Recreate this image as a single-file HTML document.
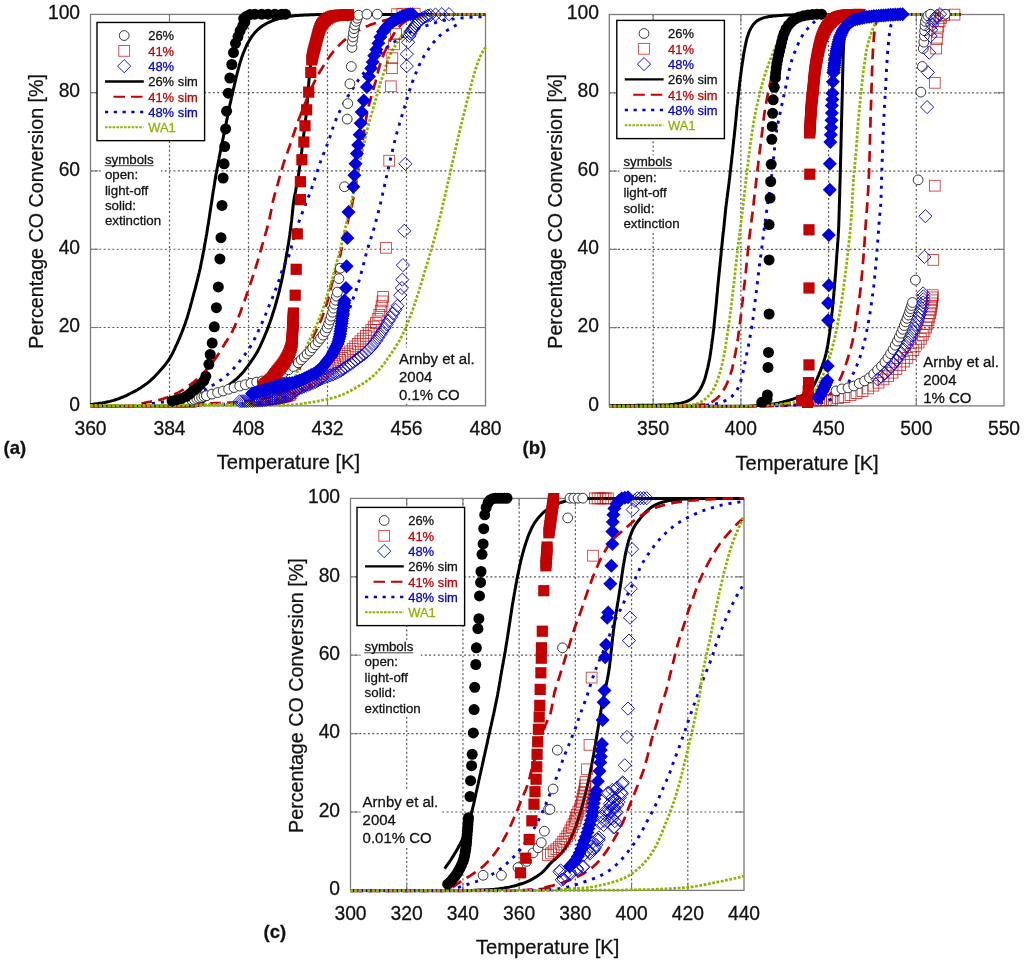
<!DOCTYPE html><html><head><meta charset="utf-8"><title>CO conversion</title>
<style>html,body{margin:0;padding:0;background:#fff}svg{display:block;will-change:transform;opacity:0.9999}text{font-family:"Liberation Sans", sans-serif}</style></head><body>
<svg width="1024" height="962" viewBox="0 0 1024 962">
<rect width="1024" height="962" fill="#fff"/>
<g id="panelA">
<line x1="169.5" y1="14.4" x2="169.5" y2="405.8" stroke="#555" stroke-width="1.2" stroke-dasharray="1.9 2.47"/>
<line x1="169.5" y1="14.4" x2="169.5" y2="22.4" stroke="#7a7a7a" stroke-width="1.1"/>
<line x1="169.5" y1="405.8" x2="169.5" y2="397.8" stroke="#7a7a7a" stroke-width="1.1"/>
<line x1="248.5" y1="14.4" x2="248.5" y2="405.8" stroke="#555" stroke-width="1.2" stroke-dasharray="1.9 2.47"/>
<line x1="248.5" y1="14.4" x2="248.5" y2="22.4" stroke="#7a7a7a" stroke-width="1.1"/>
<line x1="248.5" y1="405.8" x2="248.5" y2="397.8" stroke="#7a7a7a" stroke-width="1.1"/>
<line x1="327.5" y1="14.4" x2="327.5" y2="405.8" stroke="#555" stroke-width="1.2" stroke-dasharray="1.9 2.47"/>
<line x1="327.5" y1="14.4" x2="327.5" y2="22.4" stroke="#7a7a7a" stroke-width="1.1"/>
<line x1="327.5" y1="405.8" x2="327.5" y2="397.8" stroke="#7a7a7a" stroke-width="1.1"/>
<line x1="406.5" y1="14.4" x2="406.5" y2="405.8" stroke="#555" stroke-width="1.2" stroke-dasharray="1.9 2.47"/>
<line x1="406.5" y1="14.4" x2="406.5" y2="22.4" stroke="#7a7a7a" stroke-width="1.1"/>
<line x1="406.5" y1="405.8" x2="406.5" y2="397.8" stroke="#7a7a7a" stroke-width="1.1"/>
<line x1="90.5" y1="327.52" x2="485.5" y2="327.52" stroke="#555" stroke-width="1.2" stroke-dasharray="1.9 2.47"/>
<line x1="90.5" y1="327.52" x2="98.5" y2="327.52" stroke="#7a7a7a" stroke-width="1.1"/>
<line x1="485.5" y1="327.52" x2="477.5" y2="327.52" stroke="#7a7a7a" stroke-width="1.1"/>
<line x1="90.5" y1="249.24" x2="485.5" y2="249.24" stroke="#555" stroke-width="1.2" stroke-dasharray="1.9 2.47"/>
<line x1="90.5" y1="249.24" x2="98.5" y2="249.24" stroke="#7a7a7a" stroke-width="1.1"/>
<line x1="485.5" y1="249.24" x2="477.5" y2="249.24" stroke="#7a7a7a" stroke-width="1.1"/>
<line x1="90.5" y1="170.96" x2="485.5" y2="170.96" stroke="#555" stroke-width="1.2" stroke-dasharray="1.9 2.47"/>
<line x1="90.5" y1="170.96" x2="98.5" y2="170.96" stroke="#7a7a7a" stroke-width="1.1"/>
<line x1="485.5" y1="170.96" x2="477.5" y2="170.96" stroke="#7a7a7a" stroke-width="1.1"/>
<line x1="90.5" y1="92.68" x2="485.5" y2="92.68" stroke="#555" stroke-width="1.2" stroke-dasharray="1.9 2.47"/>
<line x1="90.5" y1="92.68" x2="98.5" y2="92.68" stroke="#7a7a7a" stroke-width="1.1"/>
<line x1="485.5" y1="92.68" x2="477.5" y2="92.68" stroke="#7a7a7a" stroke-width="1.1"/>
<rect x="90.5" y="14.4" width="395" height="391.4" fill="none" stroke="#7a7a7a" stroke-width="1.3"/>
<clipPath id="clipA"><rect x="82.5" y="4.4" width="413" height="403.4"/></clipPath>
<g clip-path="url(#clipA)">
<path d="M90.0 404.4L92.8 404.2L94.4 404.0L96.2 403.8L98.1 403.6L100.0 403.3L102.0 403.0L104.0 402.6L105.9 402.2L107.9 401.8L109.8 401.4L111.7 400.9L113.6 400.4L115.5 399.8L117.4 399.2L119.3 398.5L121.2 397.7L123.0 397.0L124.9 396.1L126.7 395.3L128.5 394.4L130.3 393.5L132.1 392.6L133.9 391.7L135.6 390.8L137.4 389.8L139.1 388.7L140.8 387.7L142.5 386.6L144.1 385.5L145.8 384.3L147.3 383.1L148.9 381.9L150.4 380.6L151.9 379.2L153.3 377.9L154.7 376.5L156.1 375.0L157.5 373.5L158.9 372.1L160.2 370.6L161.6 369.1L162.9 367.5L164.2 366.0L165.4 364.4L166.6 362.9L167.8 361.2L168.9 359.6L169.9 357.9L170.9 356.2L171.9 354.4L172.8 352.7L173.7 350.9L174.6 349.1L175.4 347.2L176.2 345.4L177.1 343.6L177.9 341.8L178.7 339.9L179.5 338.1L180.3 336.2L181.0 334.4L181.8 332.5L182.5 330.7L183.2 328.8L183.9 326.9L184.6 325.1L185.3 323.2L185.9 321.3L186.5 319.4L187.2 317.5L187.7 315.6L188.3 313.7L188.9 311.7L189.4 309.8L190.0 307.9L190.5 306.0L191.0 304.0L191.6 302.1L192.1 300.2L192.6 298.2L193.1 296.3L193.6 294.4L194.1 292.4L194.7 290.5L195.2 288.6L195.7 286.6L196.2 284.7L196.7 282.7L197.2 280.8L197.7 278.9L198.1 276.9L198.6 275.0L199.1 273.0L199.5 271.1L200.0 269.1L200.4 267.2L200.8 265.2L201.2 263.3L201.6 261.3L202.0 259.4L202.4 257.4L202.8 255.4L203.1 253.5L203.5 251.5L203.9 249.5L204.2 247.6L204.6 245.6L204.9 243.6L205.3 241.7L205.6 239.7L206.0 237.7L206.3 235.7L206.7 233.8L207.0 231.8L207.3 229.8L207.6 227.9L207.9 225.9L208.3 223.9L208.6 221.9L208.9 219.9L209.2 218.0L209.5 216.0L209.8 214.0L210.1 212.0L210.4 210.1L210.7 208.1L211.0 206.1L211.3 204.1L211.6 202.2L211.9 200.2L212.2 198.2L212.5 196.2L212.8 194.2L213.1 192.3L213.4 190.3L213.8 188.3L214.1 186.3L214.4 184.4L214.7 182.4L215.0 180.4L215.4 178.4L215.7 176.5L216.0 174.5L216.4 172.5L216.7 170.6L217.1 168.6L217.5 166.6L217.8 164.7L218.2 162.7L218.6 160.7L219.0 158.8L219.3 156.8L219.7 154.9L220.1 152.9L220.5 150.9L220.9 149.0L221.3 147.0L221.7 145.1L222.1 143.1L222.5 141.1L222.9 139.2L223.3 137.2L223.7 135.3L224.1 133.3L224.5 131.3L225.0 129.4L225.4 127.4L225.8 125.5L226.1 123.5L226.5 121.5L226.9 119.6L227.3 117.6L227.7 115.7L228.1 113.7L228.5 111.7L228.9 109.8L229.3 107.8L229.7 105.8L230.1 103.9L230.6 101.9L231.0 100.0L231.4 98.0L231.8 96.1L232.3 94.1L232.7 92.2L233.2 90.2L233.6 88.3L234.1 86.3L234.5 84.4L235.0 82.4L235.5 80.4L235.9 78.5L236.4 76.5L236.9 74.6L237.4 72.6L237.9 70.6L238.4 68.7L238.9 66.8L239.5 64.8L240.0 62.9L240.6 61.0L241.2 59.1L241.8 57.2L242.5 55.4L243.2 53.5L243.9 51.7L244.7 49.8L245.5 48.0L246.3 46.1L247.2 44.3L248.2 42.5L249.2 40.7L250.3 38.9L251.4 37.2L252.5 35.6L253.7 34.1L254.9 32.6L256.2 31.2L257.6 29.8L259.1 28.5L260.6 27.3L262.3 26.1L264.0 25.0L265.7 24.0L267.5 23.0L269.3 22.1L271.2 21.3L273.0 20.5L274.9 19.8L276.8 19.2L278.7 18.6L280.6 18.1L282.6 17.6L284.5 17.2L286.5 16.8L288.5 16.5L290.5 16.2L292.4 16.0L294.4 15.8L296.4 15.6L298.4 15.5L300.4 15.3L302.4 15.2L304.4 15.1L306.4 15.0L308.4 14.9L310.4 14.8L312.4 14.7L314.4 14.7L316.4 14.6L318.4 14.6L320.4 14.5L322.4 14.5L324.4 14.4L326.4 14.4L328.4 14.4L330.4 14.4L332.4 14.4L334.4 14.4L336.4 14.4L338.4 14.4L340.4 14.4L342.4 14.4L344.4 14.4L346.4 14.4L348.4 14.4L350.4 14.4L352.4 14.4L354.4 14.4L356.4 14.4L358.4 14.4L360.4 14.4L362.4 14.4L364.4 14.4L366.4 14.4L368.4 14.4L370.4 14.4L372.4 14.4L374.4 14.4L376.4 14.4L378.4 14.4L380.4 14.4L382.4 14.4L384.4 14.4L386.4 14.4L388.4 14.4L390.4 14.4L392.4 14.4L394.4 14.4L396.4 14.4L398.4 14.4L400.4 14.4L402.4 14.4L404.4 14.4L406.4 14.4L408.4 14.4L410.4 14.4L412.4 14.4L414.4 14.4L416.4 14.4L418.4 14.4L420.4 14.4L422.4 14.4L424.4 14.4L426.4 14.4L428.4 14.4L430.4 14.4L432.4 14.4L434.4 14.4L436.4 14.4L438.4 14.4L440.4 14.4L442.4 14.4L444.4 14.4L446.4 14.4L448.4 14.4L450.4 14.4L452.4 14.4L454.4 14.4L456.4 14.4L458.4 14.4L460.4 14.4L462.4 14.4L464.4 14.4L466.4 14.4L468.4 14.4L470.4 14.4L472.4 14.4L474.4 14.4L476.4 14.4L478.4 14.4L480.2 14.4L481.9 14.4L483.3 14.4L485.4 14.4" fill="none" stroke="#000" stroke-width="3.0"/>
<path d="M90.5 406.2L94.0 406.2L95.9 406.2L98.1 406.2L100.4 406.2L102.8 406.2L105.2 406.2L107.6 406.2L110.0 406.2L112.3 406.2L114.6 406.2L116.9 406.2L119.2 406.2L121.4 406.2L123.7 406.2L125.9 406.2L128.1 406.2L130.2 406.2L132.4 406.2L134.5 406.2L136.6 406.2L138.7 406.2L140.8 406.2L142.8 406.2L144.9 406.2L146.9 406.2L148.9 406.2L150.9 406.2L152.8 406.2L154.8 406.2L156.7 406.2L158.6 406.2L160.5 406.2L162.4 406.2L164.2 406.2L166.1 406.2L167.9 406.2L169.7 406.2L171.5 406.2L173.3 406.2L175.1 406.2L176.8 406.2L178.6 406.2L180.3 406.2L182.0 406.2L183.7 406.2L185.4 406.2L187.0 406.2L188.7 406.2L190.3 406.2L192.0 406.2L193.6 406.2L195.2 406.1L196.8 405.8L198.3 405.4L199.8 404.7L201.2 403.6L202.6 402.3L204.1 400.9L205.6 399.6L207.2 398.4L208.9 397.4L210.7 396.6L212.6 395.8L214.4 395.0L216.3 394.2L218.0 393.3L219.8 392.3L221.5 391.2L223.1 390.1L224.6 388.8L226.1 387.6L227.7 386.3L229.2 385.0L230.7 383.7L232.3 382.5L233.9 381.2L235.4 379.9L236.9 378.6L238.3 377.2L239.7 375.8L241.1 374.4L242.4 372.9L243.7 371.4L245.0 369.8L246.2 368.2L247.4 366.6L248.6 365.0L249.7 363.4L250.9 361.7L252.0 360.1L253.2 358.5L254.3 356.8L255.3 355.1L256.4 353.4L257.4 351.7L258.3 349.9L259.2 348.1L260.1 346.3L260.9 344.5L261.7 342.7L262.6 340.9L263.4 339.0L264.2 337.2L264.9 335.4L265.7 333.5L266.5 331.7L267.2 329.8L267.9 328.0L268.6 326.1L269.3 324.2L270.0 322.3L270.6 320.4L271.3 318.5L271.9 316.6L272.5 314.7L273.1 312.8L273.7 310.9L274.3 309.0L274.9 307.1L275.4 305.2L276.0 303.3L276.5 301.3L277.0 299.4L277.6 297.5L278.1 295.5L278.6 293.6L279.1 291.7L279.6 289.7L280.0 287.8L280.5 285.9L280.9 283.9L281.4 282.0L281.8 280.0L282.2 278.1L282.6 276.1L283.0 274.1L283.4 272.2L283.8 270.2L284.2 268.3L284.5 266.3L284.9 264.3L285.2 262.4L285.6 260.4L285.9 258.4L286.3 256.4L286.6 254.5L286.9 252.5L287.3 250.5L287.6 248.6L287.9 246.6L288.3 244.6L288.6 242.6L288.9 240.7L289.2 238.7L289.5 236.7L289.8 234.7L290.0 232.8L290.3 230.8L290.6 228.8L290.9 226.8L291.1 224.8L291.3 222.9L291.6 220.9L291.8 218.9L292.0 216.9L292.2 214.9L292.4 212.9L292.6 210.9L292.8 208.9L293.0 207.0L293.2 205.0L293.5 203.0L293.8 201.0L294.1 199.1L294.4 197.1L294.8 195.1L295.2 193.2L295.6 191.2L295.9 189.2L296.3 187.3L296.7 185.3L297.1 183.3L297.4 181.4L297.8 179.4L298.1 177.4L298.4 175.5L298.7 173.5L299.0 171.5L299.3 169.5L299.6 167.5L299.9 165.6L300.1 163.6L300.4 161.6L300.6 159.6L300.9 157.6L301.2 155.7L301.4 153.7L301.7 151.7L301.9 149.7L302.1 147.7L302.4 145.7L302.6 143.8L302.9 141.8L303.1 139.8L303.4 137.8L303.6 135.8L303.9 133.8L304.1 131.9L304.4 129.9L304.6 127.9L304.9 125.9L305.1 123.9L305.3 121.9L305.5 120.0L305.8 118.0L306.0 116.0L306.2 114.0L306.4 112.0L306.6 110.0L306.8 108.0L307.0 106.0L307.1 104.0L307.3 102.1L307.5 100.1L307.6 98.1L307.8 96.1L307.9 94.1L308.1 92.1L308.2 90.1L308.4 88.1L308.5 86.1L308.7 84.1L308.8 82.1L309.0 80.1L309.2 78.1L309.4 76.2L309.6 74.2L309.8 72.2L310.0 70.2L310.3 68.2L310.5 66.2L310.8 64.3L311.1 62.3L311.4 60.3L311.7 58.3L312.1 56.4L312.4 54.4L312.7 52.4L313.1 50.4L313.4 48.5L313.8 46.5L314.2 44.5L314.6 42.5L315.0 40.6L315.5 38.6L316.0 36.7L316.6 34.8L317.2 32.9L317.9 31.0L318.7 29.2L319.6 27.4L320.6 25.6L321.7 24.0L322.9 22.4L324.2 21.0L325.7 19.8L327.3 18.6L329.0 17.7L330.8 16.9L332.7 16.2L334.6 15.7L336.6 15.3L338.5 15.0L340.5 14.7L342.5 14.6L344.5 14.5L346.5 14.4L348.5 14.4L350.5 14.4L352.5 14.4L354.5 14.4L356.4 14.4L358.4 14.4L360.4 14.4L362.4 14.4L364.4 14.4L366.4 14.4L368.4 14.4L370.4 14.4L372.3 14.4L374.3 14.4L376.3 14.4L378.3 14.4L380.3 14.4L382.3 14.4L384.3 14.4L386.3 14.4L388.3 14.4L390.3 14.4L392.2 14.4L394.2 14.4L396.2 14.4L398.2 14.4L400.2 14.4L402.2 14.4L404.2 14.4L406.2 14.4L408.2 14.4L410.2 14.4L412.2 14.4L414.2 14.4L416.2 14.4L418.2 14.4L420.2 14.4L422.2 14.4L424.2 14.4L426.2 14.4L428.2 14.4L430.2 14.4L432.2 14.4L434.2 14.4L436.2 14.4L438.2 14.4L440.2 14.4L442.2 14.4L444.2 14.4L446.2 14.4L448.2 14.4L450.2 14.4L452.2 14.4L454.2 14.4L456.2 14.4L458.2 14.4L460.3 14.4L462.3 14.4L464.3 14.4L466.3 14.4L468.3 14.4L470.3 14.4L472.3 14.4L474.3 14.4L476.3 14.4L478.3 14.4L480.2 14.4L481.9 14.4L483.3 14.4L485.4 14.4" fill="none" stroke="#000" stroke-width="3.0"/>
<path d="M90.5 406.2L93.4 406.2L95.0 406.2L96.9 406.2L98.9 406.2L100.9 406.2L103.0 406.2L105.0 406.2L107.0 406.2L109.1 406.2L111.1 406.2L113.1 406.2L115.0 406.2L117.0 406.2L119.0 406.2L120.9 406.2L122.9 406.2L124.8 406.2L126.8 406.2L128.7 406.2L130.6 406.1L132.5 406.0L134.4 405.8L136.3 405.4L138.2 404.9L140.0 404.3L141.9 403.6L143.8 403.0L145.7 402.5L147.7 402.1L149.7 401.8L151.6 401.4L153.6 401.1L155.6 400.7L157.5 400.3L159.5 399.9L161.4 399.4L163.3 398.8L165.2 398.1L167.1 397.5L168.9 396.7L170.8 396.0L172.6 395.2L174.4 394.3L176.2 393.5L178.0 392.6L179.8 391.6L181.5 390.6L183.2 389.6L184.9 388.5L186.6 387.4L188.2 386.3L189.8 385.1L191.4 383.9L193.0 382.7L194.5 381.4L196.0 380.1L197.5 378.7L199.0 377.4L200.4 376.0L201.8 374.6L203.2 373.2L204.6 371.7L206.0 370.3L207.3 368.8L208.6 367.3L209.9 365.7L211.2 364.2L212.4 362.6L213.7 361.0L214.8 359.4L216.0 357.8L217.1 356.1L218.2 354.5L219.2 352.8L220.3 351.1L221.3 349.4L222.4 347.7L223.4 345.9L224.5 344.2L225.5 342.5L226.6 340.9L227.7 339.2L228.7 337.5L229.8 335.8L230.8 334.1L231.8 332.3L232.7 330.6L233.5 328.8L234.4 327.0L235.2 325.2L236.0 323.3L236.8 321.5L237.5 319.6L238.3 317.8L239.0 315.9L239.7 314.0L240.4 312.2L241.1 310.3L241.8 308.4L242.5 306.5L243.2 304.7L243.8 302.8L244.5 300.9L245.1 299.0L245.8 297.1L246.4 295.2L247.1 293.3L247.8 291.4L248.4 289.6L249.0 287.7L249.7 285.8L250.3 283.9L251.0 282.0L251.6 280.1L252.2 278.2L252.9 276.3L253.5 274.4L254.1 272.5L254.7 270.6L255.3 268.7L255.9 266.8L256.5 264.9L257.1 263.0L257.7 261.1L258.2 259.2L258.8 257.2L259.3 255.3L259.9 253.4L260.4 251.5L261.0 249.5L261.5 247.6L262.0 245.7L262.6 243.8L263.1 241.8L263.7 239.9L264.2 238.0L264.8 236.1L265.4 234.2L265.9 232.3L266.5 230.3L267.0 228.4L267.6 226.5L268.1 224.6L268.6 222.6L269.1 220.7L269.5 218.8L269.9 216.8L270.3 214.9L270.7 212.9L271.1 210.9L271.4 209.0L271.8 207.0L272.2 205.0L272.6 203.1L273.0 201.1L273.5 199.2L274.0 197.3L274.5 195.3L275.0 193.4L275.6 191.5L276.1 189.6L276.7 187.6L277.2 185.7L277.8 183.8L278.3 181.9L278.9 180.0L279.4 178.0L279.9 176.1L280.5 174.2L281.0 172.3L281.5 170.3L282.1 168.4L282.7 166.5L283.2 164.6L283.8 162.7L284.5 160.8L285.1 158.9L285.8 157.0L286.4 155.1L287.1 153.2L287.8 151.4L288.4 149.5L289.1 147.6L289.8 145.7L290.4 143.8L291.1 141.9L291.7 140.0L292.3 138.1L292.9 136.2L293.6 134.3L294.2 132.5L294.8 130.6L295.5 128.7L296.1 126.8L296.8 124.9L297.5 123.0L298.2 121.1L298.8 119.3L299.5 117.4L300.3 115.5L301.0 113.7L301.7 111.8L302.4 109.9L303.1 108.1L303.9 106.2L304.6 104.4L305.4 102.5L306.1 100.7L306.9 98.8L307.6 97.0L308.4 95.1L309.2 93.3L310.0 91.5L310.8 89.6L311.6 87.8L312.4 86.0L313.3 84.2L314.2 82.4L315.1 80.6L316.0 78.8L316.9 77.1L317.9 75.3L318.8 73.6L319.8 71.8L320.9 70.1L321.9 68.4L322.9 66.7L324.0 65.0L325.0 63.3L326.1 61.6L327.2 59.9L328.3 58.3L329.5 56.7L330.6 55.0L331.9 53.5L333.1 51.9L334.4 50.4L335.7 48.8L337.0 47.4L338.4 45.9L339.8 44.5L341.2 43.1L342.7 41.7L344.1 40.4L345.7 39.1L347.2 37.8L348.8 36.6L350.4 35.4L352.0 34.3L353.7 33.2L355.4 32.1L357.1 31.1L358.9 30.1L360.6 29.2L362.4 28.3L364.2 27.4L366.0 26.6L367.9 25.9L369.7 25.1L371.6 24.4L373.5 23.8L375.4 23.1L377.3 22.5L379.2 21.9L381.1 21.4L383.0 20.9L385.0 20.3L386.9 19.9L388.9 19.4L390.8 19.0L392.8 18.6L394.7 18.2L396.7 17.9L398.7 17.6L400.7 17.4L402.6 17.1L404.6 16.8L406.6 16.6L408.6 16.4L410.6 16.2L412.6 16.0L414.6 15.9L416.6 15.7L418.5 15.5L420.5 15.4L422.5 15.2L424.5 15.1L426.5 15.0L428.5 14.9L430.5 14.8L432.5 14.7L434.5 14.6L436.5 14.6L438.5 14.5L440.5 14.5L442.5 14.5L444.5 14.4L446.5 14.4L448.5 14.4L450.5 14.4L452.5 14.4L454.5 14.4L456.5 14.4L458.5 14.4L460.4 14.4L462.4 14.4L464.4 14.4L466.4 14.4L468.4 14.4L470.4 14.4L472.4 14.4L474.4 14.4L476.4 14.4L478.4 14.4L480.2 14.4L481.9 14.4L483.3 14.4L485.4 14.4" fill="none" stroke="#c40000" stroke-width="2.7" stroke-dasharray="10.8 6.3"/>
<path d="M90.5 406.2L93.4 406.2L95.0 406.2L96.9 406.2L98.8 406.2L100.9 406.2L102.9 406.2L105.0 406.2L107.1 406.2L109.1 406.2L111.2 406.2L113.2 406.2L115.3 406.2L117.3 406.2L119.3 406.2L121.4 406.2L123.4 406.2L125.4 406.2L127.4 406.2L129.4 406.2L131.5 406.2L133.5 406.2L135.5 406.2L137.5 406.2L139.5 406.2L141.5 406.2L143.5 406.2L145.5 406.2L147.5 406.2L149.4 406.2L151.4 406.2L153.4 406.2L155.4 406.2L157.4 406.2L159.3 406.2L161.3 406.2L163.3 406.2L165.2 406.2L167.2 406.2L169.2 406.2L171.1 406.2L173.1 406.2L175.0 406.2L177.0 406.2L178.9 406.2L180.9 406.2L182.8 406.2L184.8 406.2L186.7 406.2L188.6 406.2L190.6 406.2L192.5 406.1L194.4 406.0L196.4 405.7L198.3 405.3L200.2 404.9L202.1 404.4L204.0 404.0L206.0 403.7L207.9 403.5L209.9 403.4L211.9 403.3L213.9 403.3L215.9 403.2L217.9 403.2L219.9 403.1L222.0 403.1L224.0 403.0L226.0 402.9L228.0 402.8L230.0 402.7L232.0 402.6L233.9 402.5L235.9 402.3L237.9 402.1L239.9 402.0L241.9 401.8L243.9 401.6L245.9 401.4L247.9 401.2L249.9 400.9L251.8 400.7L253.8 400.4L255.8 400.1L257.8 399.8L259.8 399.4L261.7 399.1L263.7 398.7L265.6 398.3L267.6 397.9L269.6 397.4L271.5 396.9L273.4 396.3L275.3 395.7L277.2 395.0L279.0 394.2L280.8 393.4L282.6 392.4L284.3 391.3L285.9 390.2L287.4 388.9L288.8 387.6L290.1 386.1L291.3 384.7L292.4 383.1L293.5 381.5L294.4 379.8L295.3 378.0L296.2 376.2L297.1 374.3L297.9 372.5L298.7 370.6L299.5 368.7L300.3 366.8L301.1 364.9L301.9 363.0L302.8 361.2L303.6 359.3L304.4 357.5L305.1 355.7L305.9 353.8L306.7 352.0L307.5 350.1L308.2 348.3L309.0 346.4L309.8 344.6L310.6 342.7L311.4 340.9L312.2 339.1L313.0 337.3L313.8 335.4L314.7 333.6L315.5 331.8L316.4 330.0L317.3 328.2L318.1 326.4L319.0 324.6L319.8 322.8L320.6 321.0L321.4 319.1L322.1 317.3L322.8 315.4L323.5 313.5L324.1 311.6L324.8 309.7L325.4 307.8L326.0 305.9L326.6 304.0L327.2 302.1L327.7 300.2L328.3 298.3L328.8 296.3L329.3 294.4L329.8 292.5L330.3 290.5L330.7 288.6L331.2 286.6L331.7 284.7L332.2 282.8L332.7 280.8L333.3 278.9L333.8 277.0L334.4 275.1L335.0 273.2L335.6 271.3L336.2 269.4L336.9 267.5L337.5 265.6L338.1 263.7L338.6 261.7L339.1 259.8L339.6 257.9L340.1 255.9L340.5 254.0L340.9 252.0L341.3 250.1L341.7 248.1L342.1 246.2L342.5 244.2L342.9 242.2L343.3 240.3L343.7 238.3L344.2 236.4L344.6 234.4L345.1 232.5L345.6 230.6L346.1 228.6L346.6 226.7L347.0 224.7L347.5 222.8L348.0 220.9L348.5 218.9L349.0 217.0L349.5 215.1L350.0 213.1L350.5 211.2L351.0 209.2L351.4 207.3L351.9 205.4L352.3 203.4L352.7 201.5L353.1 199.5L353.5 197.5L353.9 195.6L354.3 193.6L354.7 191.7L355.0 189.7L355.4 187.7L355.7 185.8L356.1 183.8L356.4 181.8L356.7 179.8L357.1 177.9L357.4 175.9L357.7 173.9L358.1 172.0L358.4 170.0L358.7 168.0L359.0 166.0L359.3 164.1L359.6 162.1L360.0 160.1L360.3 158.1L360.6 156.2L360.9 154.2L361.2 152.2L361.5 150.2L361.8 148.2L362.1 146.3L362.3 144.3L362.6 142.3L362.9 140.3L363.1 138.3L363.4 136.4L363.7 134.4L364.0 132.4L364.2 130.4L364.5 128.4L364.8 126.5L365.1 124.5L365.4 122.5L365.8 120.5L366.1 118.6L366.5 116.6L366.8 114.7L367.2 112.7L367.6 110.8L368.1 108.8L368.5 106.9L369.0 104.9L369.5 103.0L370.1 101.1L370.6 99.2L371.1 97.2L371.7 95.3L372.2 93.4L372.8 91.4L373.3 89.5L373.9 87.6L374.4 85.7L374.9 83.7L375.5 81.8L376.0 79.9L376.5 77.9L377.0 76.0L377.5 74.1L378.0 72.1L378.5 70.2L379.0 68.2L379.5 66.3L380.1 64.4L380.7 62.5L381.3 60.6L382.0 58.7L382.7 56.9L383.4 55.0L384.1 53.2L384.9 51.3L385.8 49.5L386.6 47.7L387.5 45.9L388.4 44.1L389.3 42.3L390.2 40.5L391.1 38.7L392.1 37.0L393.1 35.2L394.1 33.5L395.2 31.8L396.4 30.2L397.6 28.6L398.9 27.1L400.2 25.6L401.6 24.3L403.2 23.0L404.8 21.8L406.4 20.7L408.2 19.8L410.0 19.0L411.8 18.3L413.7 17.6L415.6 17.1L417.6 16.6L419.6 16.2L421.5 15.9L423.5 15.6L425.5 15.4L427.5 15.2L429.5 15.0L431.5 14.8L433.5 14.7L435.5 14.6L437.5 14.6L439.5 14.5L441.4 14.5L443.4 14.4L445.4 14.4L447.4 14.4L449.4 14.4L451.4 14.4L453.4 14.4L455.4 14.4L457.4 14.4L459.4 14.4L461.4 14.4L463.4 14.4L465.4 14.4L467.4 14.4L469.4 14.4L471.4 14.4L473.4 14.4L475.4 14.4L477.4 14.4L479.3 14.4L481.1 14.4L482.6 14.4L485.4 14.4" fill="none" stroke="#c40000" stroke-width="2.7" stroke-dasharray="10.8 6.3"/>
<path d="M143.0 404.4L145.8 404.1L147.3 404.0L149.1 403.8L151.0 403.6L153.0 403.4L155.0 403.1L157.0 402.8L158.9 402.6L160.9 402.3L162.9 402.0L164.9 401.6L166.8 401.3L168.8 401.0L170.8 400.6L172.7 400.3L174.7 399.9L176.7 399.5L178.6 399.1L180.6 398.7L182.5 398.2L184.5 397.8L186.4 397.2L188.4 396.7L190.3 396.1L192.1 395.5L194.0 394.9L195.9 394.1L197.7 393.3L199.5 392.5L201.3 391.6L203.0 390.6L204.8 389.7L206.6 388.7L208.3 387.8L210.1 386.8L211.8 385.8L213.6 384.8L215.3 383.8L217.0 382.7L218.6 381.6L220.3 380.4L221.9 379.3L223.4 378.0L225.0 376.8L226.5 375.5L228.0 374.2L229.5 372.8L230.9 371.4L232.3 370.0L233.7 368.5L235.0 367.0L236.3 365.5L237.6 364.0L238.8 362.4L240.1 360.8L241.3 359.2L242.5 357.7L243.7 356.1L245.0 354.5L246.1 352.9L247.3 351.2L248.4 349.6L249.5 347.9L250.6 346.2L251.6 344.5L252.5 342.8L253.5 341.0L254.4 339.2L255.3 337.5L256.2 335.7L257.0 333.8L257.9 332.0L258.7 330.2L259.6 328.4L260.4 326.6L261.2 324.7L262.0 322.9L262.8 321.1L263.6 319.2L264.4 317.4L265.2 315.6L265.9 313.7L266.7 311.9L267.4 310.0L268.2 308.1L268.9 306.3L269.7 304.4L270.4 302.6L271.2 300.7L271.9 298.9L272.7 297.0L273.4 295.2L274.1 293.3L274.9 291.4L275.6 289.6L276.3 287.7L277.0 285.8L277.7 283.9L278.3 282.1L279.0 280.2L279.6 278.3L280.2 276.3L280.9 274.4L281.5 272.5L282.1 270.6L282.8 268.8L283.5 266.9L284.3 265.1L285.2 263.3L286.1 261.6L287.1 259.8L288.0 258.0L288.8 256.2L289.4 254.4L290.0 252.5L290.6 250.5L291.1 248.6L291.5 246.7L292.1 244.7L292.6 242.8L293.1 240.9L293.6 238.9L294.2 237.0L294.7 235.1L295.3 233.2L295.9 231.3L296.5 229.3L297.1 227.4L297.7 225.5L298.3 223.6L298.9 221.7L299.6 219.9L300.3 218.0L301.0 216.1L301.7 214.2L302.4 212.4L303.1 210.5L303.9 208.7L304.6 206.8L305.4 204.9L306.1 203.1L306.8 201.2L307.6 199.4L308.3 197.5L309.0 195.6L309.7 193.7L310.4 191.9L311.1 190.0L311.7 188.1L312.4 186.2L313.0 184.3L313.6 182.4L314.3 180.5L314.9 178.6L315.5 176.7L316.1 174.8L316.7 172.9L317.4 171.0L318.0 169.1L318.6 167.2L319.2 165.3L319.9 163.4L320.6 161.5L321.2 159.7L322.0 157.8L322.7 155.9L323.4 154.1L324.2 152.2L324.9 150.4L325.7 148.5L326.4 146.7L327.1 144.8L327.8 142.9L328.5 141.0L329.1 139.1L329.8 137.3L330.4 135.4L331.0 133.4L331.6 131.5L332.3 129.6L332.9 127.8L333.6 125.9L334.3 124.0L335.0 122.1L335.7 120.3L336.5 118.4L337.3 116.6L338.1 114.8L338.9 112.9L339.8 111.1L340.7 109.4L341.6 107.6L342.5 105.8L343.5 104.1L344.4 102.3L345.4 100.6L346.4 98.8L347.4 97.1L348.5 95.4L349.5 93.7L350.5 92.0L351.6 90.3L352.7 88.6L353.8 86.9L354.9 85.2L356.0 83.6L357.1 81.9L358.2 80.3L359.4 78.6L360.6 77.0L361.8 75.4L363.0 73.9L364.3 72.3L365.5 70.7L366.8 69.2L368.0 67.6L369.3 66.1L370.6 64.5L371.9 63.0L373.2 61.5L374.6 59.9L375.9 58.4L377.3 57.0L378.7 55.5L380.1 54.1L381.5 52.6L382.9 51.3L384.4 49.9L385.8 48.6L387.3 47.2L388.8 46.0L390.4 44.8L392.0 43.6L393.6 42.4L395.3 41.3L396.9 40.2L398.6 39.1L400.3 38.0L402.0 36.9L403.7 35.9L405.4 34.9L407.2 33.9L408.9 32.9L410.7 32.0L412.5 31.2L414.3 30.3L416.1 29.5L418.0 28.8L419.8 28.0L421.7 27.3L423.6 26.6L425.5 25.9L427.4 25.3L429.3 24.7L431.2 24.0L433.1 23.4L435.0 22.8L436.9 22.2L438.8 21.6L440.7 21.1L442.7 20.6L444.6 20.3L446.6 20.0L448.6 19.7L450.5 19.4L452.5 19.1L454.5 18.9L456.5 18.6L458.5 18.3L460.4 18.1L462.4 17.9L464.4 17.7L466.4 17.5L468.4 17.4L470.4 17.3L472.4 17.1L474.4 17.0L476.4 17.0L478.3 16.9L480.2 16.8L481.9 16.7L483.2 16.6L485.4 16.5" fill="none" stroke="#0000dc" stroke-width="2.9" stroke-dasharray="3.1 5.9"/>
<path d="M222.0 404.3L224.8 404.3L226.3 404.2L228.1 404.2L230.0 404.1L232.0 404.1L234.0 404.0L236.0 403.9L238.0 403.8L240.0 403.7L242.0 403.6L244.0 403.5L245.9 403.4L247.9 403.3L249.9 403.2L251.9 403.1L253.9 402.9L255.9 402.8L257.9 402.6L259.9 402.4L261.9 402.2L263.9 402.0L265.9 401.8L267.9 401.5L269.9 401.3L271.8 401.0L273.7 400.6L275.7 400.2L277.6 399.7L279.5 399.2L281.4 398.5L283.3 397.8L285.1 397.1L287.0 396.3L288.8 395.5L290.7 394.7L292.6 394.0L294.4 393.2L296.3 392.3L298.1 391.5L300.0 390.7L301.8 389.8L303.6 388.9L305.3 387.9L307.0 386.9L308.7 385.9L310.3 384.8L311.8 383.7L313.3 382.5L314.8 381.2L316.2 379.8L317.6 378.4L319.0 377.0L320.4 375.4L321.7 373.9L323.0 372.3L324.3 370.7L325.5 369.0L326.7 367.4L327.8 365.7L328.9 364.0L330.0 362.3L331.0 360.6L331.9 358.9L332.9 357.1L333.7 355.4L334.6 353.6L335.4 351.8L336.2 350.0L337.0 348.1L337.8 346.2L338.5 344.4L339.2 342.5L339.9 340.6L340.6 338.7L341.2 336.8L341.9 334.9L342.5 333.0L343.1 331.1L343.7 329.2L344.3 327.3L344.9 325.4L345.4 323.5L346.0 321.5L346.5 319.6L347.1 317.7L347.6 315.8L348.2 313.8L348.7 311.9L349.3 310.0L349.9 308.1L350.5 306.2L351.1 304.3L351.8 302.4L352.4 300.5L353.1 298.7L353.8 296.8L354.5 294.9L355.1 293.0L355.8 291.1L356.4 289.2L357.0 287.3L357.6 285.4L358.2 283.5L358.8 281.6L359.4 279.7L359.9 277.8L360.5 275.9L361.0 273.9L361.5 272.0L362.0 270.1L362.5 268.1L363.0 266.2L363.5 264.3L364.0 262.3L364.4 260.4L364.9 258.5L365.4 256.5L366.0 254.6L366.5 252.7L367.1 250.8L367.6 248.9L368.2 247.0L368.8 245.0L369.4 243.1L370.0 241.2L370.6 239.3L371.2 237.4L371.8 235.5L372.4 233.6L373.0 231.7L373.6 229.8L374.1 227.9L374.7 226.0L375.2 224.0L375.7 222.1L376.2 220.2L376.7 218.3L377.2 216.3L377.7 214.4L378.2 212.5L378.7 210.5L379.2 208.6L379.6 206.6L380.1 204.7L380.6 202.8L381.0 200.8L381.5 198.9L381.9 196.9L382.4 195.0L382.8 193.0L383.3 191.1L383.7 189.1L384.2 187.2L384.6 185.2L385.0 183.3L385.5 181.3L385.9 179.4L386.3 177.4L386.8 175.5L387.2 173.5L387.7 171.6L388.1 169.6L388.5 167.7L389.0 165.7L389.4 163.8L389.8 161.8L390.3 159.9L390.7 157.9L391.2 156.0L391.6 154.0L392.1 152.1L392.6 150.2L393.0 148.2L393.5 146.3L394.0 144.3L394.4 142.4L394.9 140.5L395.4 138.5L395.9 136.6L396.4 134.7L396.9 132.7L397.4 130.8L398.0 128.9L398.5 127.0L399.1 125.1L399.6 123.1L400.2 121.2L400.8 119.3L401.4 117.4L402.0 115.5L402.5 113.6L403.1 111.7L403.7 109.8L404.3 107.9L404.8 105.9L405.4 104.0L405.9 102.1L406.5 100.2L407.1 98.3L407.6 96.4L408.2 94.5L408.8 92.6L409.4 90.7L410.1 88.8L410.7 86.9L411.4 85.0L412.0 83.1L412.7 81.2L413.4 79.4L414.2 77.5L414.9 75.7L415.6 73.8L416.4 71.9L417.1 70.1L417.9 68.3L418.7 66.4L419.5 64.6L420.4 62.8L421.3 61.0L422.2 59.3L423.2 57.5L424.2 55.8L425.2 54.1L426.3 52.4L427.4 50.8L428.5 49.1L429.7 47.5L430.9 45.9L432.1 44.3L433.3 42.7L434.6 41.2L435.9 39.7L437.3 38.2L438.7 36.8L440.1 35.4L441.6 34.1L443.2 32.9L444.8 31.8L446.5 30.7L448.2 29.7L449.9 28.7L451.6 27.7L453.1 26.9L454.5 26.1L456.9 24.8" fill="none" stroke="#0000dc" stroke-width="2.9" stroke-dasharray="3.1 5.9"/>
<path d="M90.5 406.2L93.3 406.2L94.8 406.2L96.6 406.2L98.6 406.2L100.5 406.2L102.5 406.2L104.5 406.2L106.5 406.2L108.5 406.2L110.5 406.2L112.5 406.2L114.5 406.2L116.5 406.2L118.5 406.2L120.5 406.2L122.5 406.2L124.5 406.2L126.5 406.2L128.5 406.2L130.5 406.2L132.5 406.2L134.5 406.2L136.5 406.2L138.5 406.2L140.5 406.2L142.5 406.2L144.5 406.2L146.5 406.2L148.5 406.2L150.5 406.2L152.5 406.2L154.4 406.2L156.4 406.2L158.4 406.2L160.4 406.2L162.4 406.2L164.4 406.1L166.4 406.0L168.4 405.9L170.4 405.7L172.4 405.6L174.4 405.4L176.3 405.3L178.3 405.2L180.3 405.1L182.3 405.1L184.3 405.0L186.3 404.9L188.3 404.9L190.3 404.8L192.3 404.8L194.3 404.7L196.3 404.7L198.3 404.7L200.3 404.6L202.3 404.6L204.3 404.5L206.3 404.5L208.3 404.5L210.3 404.4L212.3 404.4L214.3 404.4L216.3 404.3L218.3 404.3L220.3 404.2L222.3 404.2L224.3 404.1L226.3 404.1L228.3 404.0L230.3 404.0L232.3 403.9L234.3 403.8L236.3 403.7L238.3 403.6L240.3 403.6L242.3 403.5L244.3 403.4L246.4 403.3L248.4 403.1L250.5 403.0L252.5 402.9L254.5 402.8L256.5 402.6L258.6 402.5L260.6 402.3L262.6 402.1L264.6 401.9L266.5 401.7L268.5 401.5L270.4 401.2L272.3 400.9L274.3 400.6L276.2 400.2L278.1 399.7L280.0 399.1L281.9 398.3L283.7 397.4L285.5 396.4L287.0 395.2L288.4 394.0L289.7 392.7L290.7 391.2L291.6 389.7L292.4 388.0L293.1 386.3L293.7 384.4L294.3 382.5L294.9 380.4L295.4 378.4L296.0 376.3L296.5 374.3L297.1 372.2L297.7 370.2L298.3 368.3L298.9 366.4L299.6 364.5L300.3 362.6L301.0 360.7L301.7 358.8L302.4 356.9L303.1 355.1L303.8 353.2L304.6 351.4L305.4 349.5L306.2 347.7L307.0 345.9L307.8 344.1L308.6 342.2L309.5 340.4L310.3 338.6L311.2 336.8L312.0 335.0L312.9 333.2L313.7 331.4L314.5 329.6L315.4 327.8L316.2 325.9L317.0 324.1L317.8 322.3L318.6 320.4L319.3 318.6L320.1 316.7L320.8 314.9L321.5 313.0L322.2 311.1L322.9 309.2L323.5 307.4L324.2 305.5L324.8 303.6L325.4 301.7L325.9 299.8L326.5 297.8L327.1 295.9L327.6 294.0L328.2 292.1L328.8 290.2L329.4 288.3L330.0 286.4L330.5 284.4L331.1 282.5L331.7 280.6L332.2 278.7L332.8 276.8L333.3 274.9L333.8 272.9L334.4 271.0L334.9 269.1L335.4 267.1L335.9 265.2L336.5 263.3L337.0 261.4L337.5 259.4L338.1 257.5L338.6 255.6L339.1 253.7L339.6 251.7L340.1 249.8L340.6 247.9L341.1 245.9L341.6 244.0L342.1 242.0L342.5 240.1L343.0 238.2L343.4 236.2L343.9 234.3L344.3 232.3L344.8 230.4L345.2 228.4L345.7 226.5L346.2 224.5L346.6 222.6L347.1 220.7L347.6 218.7L348.1 216.8L348.5 214.8L349.0 212.9L349.4 210.9L349.9 209.0L350.3 207.0L350.8 205.1L351.2 203.1L351.6 201.2L352.0 199.2L352.5 197.3L352.9 195.3L353.3 193.4L353.7 191.4L354.1 189.5L354.6 187.5L355.0 185.6L355.4 183.6L355.8 181.6L356.2 179.7L356.6 177.7L357.0 175.8L357.4 173.8L357.8 171.9L358.3 169.9L358.7 168.0L359.1 166.0L359.5 164.0L359.9 162.1L360.3 160.1L360.8 158.2L361.2 156.2L361.6 154.3L362.0 152.3L362.5 150.4L362.9 148.4L363.3 146.5L363.8 144.5L364.2 142.6L364.7 140.6L365.1 138.7L365.6 136.7L366.0 134.8L366.5 132.9L367.0 130.9L367.4 129.0L367.9 127.1L368.4 125.1L368.9 123.2L369.4 121.3L370.0 119.3L370.5 117.4L371.0 115.5L371.6 113.6L372.2 111.7L372.8 109.8L373.3 107.8L373.9 105.9L374.4 104.0L375.0 102.1L375.5 100.1L376.0 98.2L376.5 96.3L377.1 94.4L377.6 92.4L378.2 90.5L378.7 88.6L379.3 86.7L379.9 84.8L380.5 82.9L381.1 81.0L381.7 79.1L382.3 77.2L382.9 75.3L383.5 73.4L384.2 71.5L384.8 69.6L385.4 67.7L386.0 65.8L386.7 63.9L387.3 62.0L388.0 60.1L388.7 58.2L389.4 56.4L390.2 54.6L391.1 52.8L392.0 51.0L393.0 49.3L394.0 47.6L395.1 45.9L396.2 44.2L397.3 42.5L398.3 40.8L399.4 39.2L400.5 37.5L401.6 35.8L402.8 34.2L404.0 32.7L405.3 31.1L406.6 29.6L407.9 28.1L409.2 26.6L410.5 25.1L411.9 23.7L413.4 22.3L414.9 21.1L416.5 19.9L418.2 18.9L420.0 17.9L421.8 17.1L423.7 16.4L425.6 15.9L427.5 15.5L429.4 15.2L431.4 15.0L433.4 14.8L435.4 14.7L437.4 14.5L439.4 14.4L441.4 14.4L443.4 14.4L445.4 14.4L447.4 14.4L449.4 14.4L451.4 14.4L453.4 14.4L455.4 14.4L457.4 14.4L459.4 14.4L461.4 14.4L463.4 14.4L465.4 14.4L467.4 14.4L469.4 14.4L471.4 14.4L473.4 14.4L475.4 14.4L477.3 14.4L479.3 14.4L481.1 14.4L482.6 14.4L485.4 14.4" fill="none" stroke="#8cb400" stroke-width="2.75" stroke-dasharray="2.75 1.62"/>
<path d="M90.0 405.4L92.8 405.4L94.4 405.4L96.2 405.4L98.1 405.4L100.1 405.4L102.1 405.4L104.1 405.4L106.1 405.4L108.1 405.4L110.1 405.4L112.1 405.4L114.1 405.4L116.1 405.4L118.1 405.4L120.2 405.4L122.2 405.4L124.2 405.4L126.2 405.4L128.2 405.4L130.2 405.4L132.2 405.4L134.2 405.4L136.2 405.4L138.2 405.4L140.2 405.4L142.2 405.4L144.2 405.4L146.2 405.4L148.2 405.4L150.2 405.4L152.2 405.4L154.2 405.4L156.2 405.4L158.3 405.4L160.3 405.4L162.3 405.4L164.3 405.4L166.3 405.4L168.3 405.4L170.3 405.4L172.3 405.4L174.3 405.4L176.3 405.4L178.3 405.4L180.3 405.4L182.3 405.4L184.3 405.4L186.3 405.4L188.2 405.4L190.2 405.4L192.2 405.4L194.2 405.3L196.2 405.3L198.2 405.3L200.2 405.3L202.2 405.3L204.2 405.3L206.2 405.3L208.2 405.3L210.2 405.3L212.2 405.3L214.2 405.3L216.2 405.3L218.2 405.3L220.2 405.3L222.2 405.3L224.2 405.3L226.2 405.3L228.2 405.3L230.2 405.3L232.1 405.3L234.1 405.2L236.1 405.2L238.1 405.2L240.1 405.2L242.1 405.2L244.1 405.2L246.1 405.2L248.1 405.2L250.1 405.2L252.1 405.2L254.1 405.2L256.1 405.2L258.0 405.2L260.0 405.2L262.0 405.1L264.0 405.1L266.0 405.1L268.0 405.1L270.0 405.1L272.0 405.1L274.0 405.1L276.0 405.1L277.9 405.1L279.9 405.1L281.9 405.1L283.9 405.0L285.9 405.0L287.9 405.0L289.9 404.9L291.9 404.8L293.9 404.7L295.8 404.5L297.8 404.3L299.8 404.0L301.8 403.8L303.8 403.5L305.8 403.1L307.7 402.8L309.7 402.5L311.7 402.2L313.7 401.8L315.6 401.5L317.6 401.1L319.6 400.8L321.5 400.4L323.5 400.0L325.4 399.6L327.4 399.2L329.3 398.7L331.3 398.2L333.2 397.7L335.1 397.2L337.1 396.6L339.0 396.0L340.8 395.3L342.7 394.6L344.5 393.8L346.3 393.0L348.1 392.1L349.9 391.2L351.6 390.2L353.4 389.2L355.1 388.2L356.9 387.2L358.6 386.2L360.3 385.1L362.0 384.1L363.7 383.0L365.3 381.9L367.0 380.8L368.7 379.6L370.3 378.5L371.8 377.2L373.3 375.9L374.8 374.6L376.1 373.1L377.5 371.7L378.8 370.2L380.1 368.6L381.3 367.1L382.6 365.5L383.8 363.9L385.0 362.3L386.2 360.7L387.3 359.0L388.5 357.4L389.6 355.8L390.8 354.1L391.9 352.5L393.0 350.8L394.2 349.2L395.3 347.5L396.3 345.8L397.4 344.1L398.4 342.4L399.4 340.7L400.3 338.9L401.2 337.1L402.1 335.4L403.0 333.6L403.9 331.7L404.7 329.9L405.5 328.1L406.3 326.3L407.1 324.4L407.8 322.6L408.6 320.7L409.3 318.9L410.0 317.0L410.7 315.1L411.4 313.2L412.1 311.4L412.8 309.5L413.4 307.6L414.1 305.7L414.7 303.8L415.4 301.9L416.0 300.0L416.6 298.1L417.2 296.2L417.9 294.3L418.5 292.4L419.1 290.5L419.7 288.6L420.2 286.7L420.8 284.8L421.4 282.9L422.0 280.9L422.5 279.0L423.1 277.1L423.7 275.2L424.2 273.3L424.8 271.4L425.4 269.5L426.0 267.5L426.5 265.6L427.1 263.7L427.7 261.8L428.3 259.9L428.9 258.0L429.4 256.1L430.0 254.1L430.6 252.2L431.1 250.3L431.7 248.4L432.2 246.5L432.8 244.5L433.3 242.6L433.9 240.7L434.4 238.8L434.9 236.8L435.5 234.9L436.0 233.0L436.5 231.0L437.0 229.1L437.5 227.2L438.0 225.2L438.5 223.3L438.9 221.4L439.4 219.4L439.9 217.5L440.4 215.5L440.8 213.6L441.3 211.7L441.8 209.7L442.2 207.8L442.7 205.8L443.1 203.9L443.6 201.9L444.0 200.0L444.5 198.0L444.9 196.1L445.4 194.1L445.8 192.2L446.3 190.2L446.7 188.3L447.1 186.3L447.6 184.4L448.0 182.4L448.5 180.5L448.9 178.5L449.3 176.6L449.8 174.6L450.2 172.7L450.6 170.7L451.1 168.8L451.5 166.8L451.9 164.9L452.4 162.9L452.8 161.0L453.2 159.0L453.7 157.1L454.1 155.1L454.6 153.2L455.0 151.2L455.4 149.3L455.9 147.3L456.3 145.4L456.8 143.4L457.2 141.5L457.7 139.5L458.1 137.6L458.6 135.6L459.0 133.7L459.5 131.7L460.0 129.8L460.4 127.9L460.9 125.9L461.4 124.0L461.9 122.0L462.3 120.1L462.8 118.1L463.3 116.2L463.8 114.3L464.3 112.3L464.8 110.4L465.3 108.5L465.7 106.5L466.2 104.6L466.7 102.6L467.2 100.7L467.7 98.8L468.2 96.8L468.6 94.9L469.1 92.9L469.6 91.0L470.1 89.1L470.6 87.1L471.1 85.2L471.6 83.3L472.1 81.3L472.6 79.4L473.1 77.5L473.7 75.5L474.3 73.6L474.8 71.7L475.4 69.8L476.0 67.9L476.6 66.0L477.3 64.1L478.0 62.2L478.7 60.4L479.4 58.5L480.2 56.7L481.0 54.9L481.9 53.1L482.8 51.5L483.7 50.1L484.4 49.0L485.8 47.3" fill="none" stroke="#8cb400" stroke-width="2.75" stroke-dasharray="2.75 1.62"/>
<rect x="249.6" y="394.1" width="10.8" height="10.8" fill="none" stroke="#c40000" stroke-opacity="0.75" stroke-width="0.9"/>
<rect x="252.2" y="394.1" width="10.8" height="10.8" fill="none" stroke="#c40000" stroke-opacity="0.75" stroke-width="0.9"/>
<rect x="254.7" y="394.0" width="10.8" height="10.8" fill="none" stroke="#c40000" stroke-opacity="0.75" stroke-width="0.9"/>
<rect x="257.2" y="394.0" width="10.8" height="10.8" fill="none" stroke="#c40000" stroke-opacity="0.75" stroke-width="0.9"/>
<rect x="259.5" y="393.9" width="10.8" height="10.8" fill="none" stroke="#c40000" stroke-opacity="0.75" stroke-width="0.9"/>
<rect x="261.8" y="393.7" width="10.8" height="10.8" fill="none" stroke="#c40000" stroke-opacity="0.75" stroke-width="0.9"/>
<rect x="264.1" y="393.6" width="10.8" height="10.8" fill="none" stroke="#c40000" stroke-opacity="0.75" stroke-width="0.9"/>
<rect x="266.3" y="393.4" width="10.8" height="10.8" fill="none" stroke="#c40000" stroke-opacity="0.75" stroke-width="0.9"/>
<rect x="268.4" y="393.1" width="10.8" height="10.8" fill="none" stroke="#c40000" stroke-opacity="0.75" stroke-width="0.9"/>
<rect x="270.4" y="392.9" width="10.8" height="10.8" fill="none" stroke="#c40000" stroke-opacity="0.75" stroke-width="0.9"/>
<rect x="272.4" y="392.6" width="10.8" height="10.8" fill="none" stroke="#c40000" stroke-opacity="0.75" stroke-width="0.9"/>
<rect x="274.4" y="392.2" width="10.8" height="10.8" fill="none" stroke="#c40000" stroke-opacity="0.75" stroke-width="0.9"/>
<rect x="276.2" y="391.9" width="10.8" height="10.8" fill="none" stroke="#c40000" stroke-opacity="0.75" stroke-width="0.9"/>
<rect x="278.0" y="391.5" width="10.8" height="10.8" fill="none" stroke="#c40000" stroke-opacity="0.75" stroke-width="0.9"/>
<rect x="279.8" y="391.0" width="10.8" height="10.8" fill="none" stroke="#c40000" stroke-opacity="0.75" stroke-width="0.9"/>
<rect x="281.5" y="390.5" width="10.8" height="10.8" fill="none" stroke="#c40000" stroke-opacity="0.75" stroke-width="0.9"/>
<rect x="283.2" y="390.0" width="10.8" height="10.8" fill="none" stroke="#c40000" stroke-opacity="0.75" stroke-width="0.9"/>
<rect x="284.7" y="389.3" width="10.8" height="10.8" fill="none" stroke="#c40000" stroke-opacity="0.75" stroke-width="0.9"/>
<rect x="286.0" y="387.6" width="10.8" height="10.8" fill="none" stroke="#c40000" stroke-opacity="0.75" stroke-width="0.9"/>
<rect x="287.3" y="385.3" width="10.8" height="10.8" fill="none" stroke="#c40000" stroke-opacity="0.75" stroke-width="0.9"/>
<rect x="288.7" y="383.4" width="10.8" height="10.8" fill="none" stroke="#c40000" stroke-opacity="0.75" stroke-width="0.9"/>
<rect x="290.7" y="382.2" width="10.8" height="10.8" fill="none" stroke="#c40000" stroke-opacity="0.75" stroke-width="0.9"/>
<rect x="292.9" y="381.2" width="10.8" height="10.8" fill="none" stroke="#c40000" stroke-opacity="0.75" stroke-width="0.9"/>
<rect x="295.2" y="380.2" width="10.8" height="10.8" fill="none" stroke="#c40000" stroke-opacity="0.75" stroke-width="0.9"/>
<rect x="297.4" y="379.1" width="10.8" height="10.8" fill="none" stroke="#c40000" stroke-opacity="0.75" stroke-width="0.9"/>
<rect x="299.6" y="378.0" width="10.8" height="10.8" fill="none" stroke="#c40000" stroke-opacity="0.75" stroke-width="0.9"/>
<rect x="301.8" y="376.8" width="10.8" height="10.8" fill="none" stroke="#c40000" stroke-opacity="0.75" stroke-width="0.9"/>
<rect x="304.0" y="375.5" width="10.8" height="10.8" fill="none" stroke="#c40000" stroke-opacity="0.75" stroke-width="0.9"/>
<rect x="306.2" y="374.2" width="10.8" height="10.8" fill="none" stroke="#c40000" stroke-opacity="0.75" stroke-width="0.9"/>
<rect x="308.5" y="372.8" width="10.8" height="10.8" fill="none" stroke="#c40000" stroke-opacity="0.75" stroke-width="0.9"/>
<rect x="310.8" y="371.5" width="10.8" height="10.8" fill="none" stroke="#c40000" stroke-opacity="0.75" stroke-width="0.9"/>
<rect x="313.2" y="370.2" width="10.8" height="10.8" fill="none" stroke="#c40000" stroke-opacity="0.75" stroke-width="0.9"/>
<rect x="315.5" y="368.7" width="10.8" height="10.8" fill="none" stroke="#c40000" stroke-opacity="0.75" stroke-width="0.9"/>
<rect x="317.8" y="367.2" width="10.8" height="10.8" fill="none" stroke="#c40000" stroke-opacity="0.75" stroke-width="0.9"/>
<rect x="320.2" y="365.6" width="10.8" height="10.8" fill="none" stroke="#c40000" stroke-opacity="0.75" stroke-width="0.9"/>
<rect x="322.6" y="364.0" width="10.8" height="10.8" fill="none" stroke="#c40000" stroke-opacity="0.75" stroke-width="0.9"/>
<rect x="325.1" y="362.3" width="10.8" height="10.8" fill="none" stroke="#c40000" stroke-opacity="0.75" stroke-width="0.9"/>
<rect x="327.5" y="360.5" width="10.8" height="10.8" fill="none" stroke="#c40000" stroke-opacity="0.75" stroke-width="0.9"/>
<rect x="329.8" y="358.6" width="10.8" height="10.8" fill="none" stroke="#c40000" stroke-opacity="0.75" stroke-width="0.9"/>
<rect x="332.2" y="356.6" width="10.8" height="10.8" fill="none" stroke="#c40000" stroke-opacity="0.75" stroke-width="0.9"/>
<rect x="334.6" y="354.5" width="10.8" height="10.8" fill="none" stroke="#c40000" stroke-opacity="0.75" stroke-width="0.9"/>
<rect x="337.1" y="352.5" width="10.8" height="10.8" fill="none" stroke="#c40000" stroke-opacity="0.75" stroke-width="0.9"/>
<rect x="339.6" y="350.4" width="10.8" height="10.8" fill="none" stroke="#c40000" stroke-opacity="0.75" stroke-width="0.9"/>
<rect x="342.2" y="348.2" width="10.8" height="10.8" fill="none" stroke="#c40000" stroke-opacity="0.75" stroke-width="0.9"/>
<rect x="344.8" y="346.0" width="10.8" height="10.8" fill="none" stroke="#c40000" stroke-opacity="0.75" stroke-width="0.9"/>
<rect x="347.3" y="343.6" width="10.8" height="10.8" fill="none" stroke="#c40000" stroke-opacity="0.75" stroke-width="0.9"/>
<rect x="349.8" y="341.0" width="10.8" height="10.8" fill="none" stroke="#c40000" stroke-opacity="0.75" stroke-width="0.9"/>
<rect x="352.4" y="338.5" width="10.8" height="10.8" fill="none" stroke="#c40000" stroke-opacity="0.75" stroke-width="0.9"/>
<rect x="355.0" y="335.8" width="10.8" height="10.8" fill="none" stroke="#c40000" stroke-opacity="0.75" stroke-width="0.9"/>
<rect x="357.7" y="333.2" width="10.8" height="10.8" fill="none" stroke="#c40000" stroke-opacity="0.75" stroke-width="0.9"/>
<rect x="360.5" y="330.5" width="10.8" height="10.8" fill="none" stroke="#c40000" stroke-opacity="0.75" stroke-width="0.9"/>
<rect x="363.3" y="327.6" width="10.8" height="10.8" fill="none" stroke="#c40000" stroke-opacity="0.75" stroke-width="0.9"/>
<rect x="365.9" y="324.6" width="10.8" height="10.8" fill="none" stroke="#c40000" stroke-opacity="0.75" stroke-width="0.9"/>
<rect x="368.3" y="321.2" width="10.8" height="10.8" fill="none" stroke="#c40000" stroke-opacity="0.75" stroke-width="0.9"/>
<rect x="370.5" y="317.6" width="10.8" height="10.8" fill="none" stroke="#c40000" stroke-opacity="0.75" stroke-width="0.9"/>
<rect x="372.2" y="313.6" width="10.8" height="10.8" fill="none" stroke="#c40000" stroke-opacity="0.75" stroke-width="0.9"/>
<rect x="373.9" y="309.5" width="10.8" height="10.8" fill="none" stroke="#c40000" stroke-opacity="0.75" stroke-width="0.9"/>
<rect x="375.3" y="305.2" width="10.8" height="10.8" fill="none" stroke="#c40000" stroke-opacity="0.75" stroke-width="0.9"/>
<rect x="376.2" y="300.7" width="10.8" height="10.8" fill="none" stroke="#c40000" stroke-opacity="0.75" stroke-width="0.9"/>
<rect x="377.1" y="296.0" width="10.8" height="10.8" fill="none" stroke="#c40000" stroke-opacity="0.75" stroke-width="0.9"/>
<rect x="377.7" y="291.5" width="10.8" height="10.8" fill="none" stroke="#c40000" stroke-opacity="0.75" stroke-width="0.9"/>
<rect x="380.6" y="242.4" width="10.8" height="10.8" fill="none" stroke="#c40000" stroke-opacity="0.75" stroke-width="0.9"/>
<rect x="383.8" y="155.3" width="10.8" height="10.8" fill="none" stroke="#c40000" stroke-opacity="0.75" stroke-width="0.9"/>
<rect x="385.4" y="80.9" width="10.8" height="10.8" fill="none" stroke="#c40000" stroke-opacity="0.75" stroke-width="0.9"/>
<rect x="386.5" y="62.8" width="10.8" height="10.8" fill="none" stroke="#c40000" stroke-opacity="0.75" stroke-width="0.9"/>
<rect x="386.9" y="52.8" width="10.8" height="10.8" fill="none" stroke="#c40000" stroke-opacity="0.75" stroke-width="0.9"/>
<rect x="388.6" y="38.9" width="10.8" height="10.8" fill="none" stroke="#c40000" stroke-opacity="0.75" stroke-width="0.9"/>
<rect x="390.6" y="28.5" width="10.8" height="10.8" fill="none" stroke="#c40000" stroke-opacity="0.75" stroke-width="0.9"/>
<rect x="391.7" y="8.8" width="10.8" height="10.8" fill="none" stroke="#c40000" stroke-opacity="0.75" stroke-width="0.9"/>
<rect x="396.9" y="8.3" width="10.8" height="10.8" fill="none" stroke="#c40000" stroke-opacity="0.75" stroke-width="0.9"/>
<rect x="409.3" y="8.3" width="10.8" height="10.8" fill="none" stroke="#c40000" stroke-opacity="0.75" stroke-width="0.9"/>
<circle cx="191.9" cy="400.2" r="4.9" fill="#fff" stroke="#222" stroke-width="0.9"/>
<circle cx="194.3" cy="399.5" r="4.9" fill="#fff" stroke="#222" stroke-width="0.9"/>
<circle cx="196.7" cy="398.6" r="4.9" fill="#fff" stroke="#222" stroke-width="0.9"/>
<circle cx="199.1" cy="397.9" r="4.9" fill="#fff" stroke="#222" stroke-width="0.9"/>
<circle cx="201.6" cy="397.3" r="4.9" fill="#fff" stroke="#222" stroke-width="0.9"/>
<circle cx="204.0" cy="396.5" r="4.9" fill="#fff" stroke="#222" stroke-width="0.9"/>
<circle cx="206.4" cy="395.7" r="4.9" fill="#fff" stroke="#222" stroke-width="0.9"/>
<circle cx="206.4" cy="395.7" r="4.9" fill="#fff" stroke="#222" stroke-width="0.9"/>
<circle cx="212.0" cy="394.1" r="4.9" fill="#fff" stroke="#222" stroke-width="0.9"/>
<circle cx="217.6" cy="392.6" r="4.9" fill="#fff" stroke="#222" stroke-width="0.9"/>
<circle cx="223.1" cy="391.0" r="4.9" fill="#fff" stroke="#222" stroke-width="0.9"/>
<circle cx="228.6" cy="389.3" r="4.9" fill="#fff" stroke="#222" stroke-width="0.9"/>
<circle cx="234.1" cy="387.6" r="4.9" fill="#fff" stroke="#222" stroke-width="0.9"/>
<circle cx="239.7" cy="386.1" r="4.9" fill="#fff" stroke="#222" stroke-width="0.9"/>
<circle cx="245.3" cy="384.7" r="4.9" fill="#fff" stroke="#222" stroke-width="0.9"/>
<circle cx="250.9" cy="383.4" r="4.9" fill="#fff" stroke="#222" stroke-width="0.9"/>
<circle cx="256.6" cy="382.1" r="4.9" fill="#fff" stroke="#222" stroke-width="0.9"/>
<circle cx="262.2" cy="381.0" r="4.9" fill="#fff" stroke="#222" stroke-width="0.9"/>
<circle cx="267.7" cy="379.4" r="4.9" fill="#fff" stroke="#222" stroke-width="0.9"/>
<circle cx="273.0" cy="377.5" r="4.9" fill="#fff" stroke="#222" stroke-width="0.9"/>
<circle cx="278.3" cy="375.3" r="4.9" fill="#fff" stroke="#222" stroke-width="0.9"/>
<circle cx="283.5" cy="372.7" r="4.9" fill="#fff" stroke="#222" stroke-width="0.9"/>
<circle cx="288.6" cy="369.8" r="4.9" fill="#fff" stroke="#222" stroke-width="0.9"/>
<circle cx="293.5" cy="366.5" r="4.9" fill="#fff" stroke="#222" stroke-width="0.9"/>
<circle cx="298.3" cy="362.8" r="4.9" fill="#fff" stroke="#222" stroke-width="0.9"/>
<circle cx="298.3" cy="362.8" r="4.9" fill="#fff" stroke="#222" stroke-width="0.9"/>
<circle cx="301.2" cy="359.9" r="4.9" fill="#fff" stroke="#222" stroke-width="0.9"/>
<circle cx="304.2" cy="357.0" r="4.9" fill="#fff" stroke="#222" stroke-width="0.9"/>
<circle cx="307.1" cy="354.0" r="4.9" fill="#fff" stroke="#222" stroke-width="0.9"/>
<circle cx="310.1" cy="351.1" r="4.9" fill="#fff" stroke="#222" stroke-width="0.9"/>
<circle cx="312.6" cy="347.9" r="4.9" fill="#fff" stroke="#222" stroke-width="0.9"/>
<circle cx="315.3" cy="344.8" r="4.9" fill="#fff" stroke="#222" stroke-width="0.9"/>
<circle cx="318.1" cy="341.7" r="4.9" fill="#fff" stroke="#222" stroke-width="0.9"/>
<circle cx="320.5" cy="338.4" r="4.9" fill="#fff" stroke="#222" stroke-width="0.9"/>
<circle cx="323.0" cy="335.1" r="4.9" fill="#fff" stroke="#222" stroke-width="0.9"/>
<circle cx="325.3" cy="331.6" r="4.9" fill="#fff" stroke="#222" stroke-width="0.9"/>
<circle cx="327.1" cy="327.9" r="4.9" fill="#fff" stroke="#222" stroke-width="0.9"/>
<circle cx="328.6" cy="324.0" r="4.9" fill="#fff" stroke="#222" stroke-width="0.9"/>
<circle cx="329.9" cy="320.1" r="4.9" fill="#fff" stroke="#222" stroke-width="0.9"/>
<circle cx="331.2" cy="316.2" r="4.9" fill="#fff" stroke="#222" stroke-width="0.9"/>
<circle cx="332.5" cy="312.2" r="4.9" fill="#fff" stroke="#222" stroke-width="0.9"/>
<circle cx="333.5" cy="308.2" r="4.9" fill="#fff" stroke="#222" stroke-width="0.9"/>
<circle cx="334.5" cy="304.2" r="4.9" fill="#fff" stroke="#222" stroke-width="0.9"/>
<circle cx="335.5" cy="300.2" r="4.9" fill="#fff" stroke="#222" stroke-width="0.9"/>
<circle cx="336.5" cy="296.2" r="4.9" fill="#fff" stroke="#222" stroke-width="0.9"/>
<circle cx="337.4" cy="292.1" r="4.9" fill="#fff" stroke="#222" stroke-width="0.9"/>
<circle cx="338.9" cy="278.6" r="4.9" fill="#fff" stroke="#222" stroke-width="0.9"/>
<circle cx="340.3" cy="268.2" r="4.9" fill="#fff" stroke="#222" stroke-width="0.9"/>
<circle cx="344.5" cy="186.7" r="4.9" fill="#fff" stroke="#222" stroke-width="0.9"/>
<circle cx="347.2" cy="119.1" r="4.9" fill="#fff" stroke="#222" stroke-width="0.9"/>
<circle cx="347.8" cy="103.6" r="4.9" fill="#fff" stroke="#222" stroke-width="0.9"/>
<circle cx="349.9" cy="83.8" r="4.9" fill="#fff" stroke="#222" stroke-width="0.9"/>
<circle cx="351.3" cy="66.5" r="4.9" fill="#fff" stroke="#222" stroke-width="0.9"/>
<circle cx="352.0" cy="47.4" r="4.9" fill="#fff" stroke="#222" stroke-width="0.9"/>
<circle cx="352.4" cy="41.2" r="4.9" fill="#fff" stroke="#222" stroke-width="0.9"/>
<circle cx="353.0" cy="37.0" r="4.9" fill="#fff" stroke="#222" stroke-width="0.9"/>
<circle cx="353.4" cy="32.9" r="4.9" fill="#fff" stroke="#222" stroke-width="0.9"/>
<circle cx="354.0" cy="28.7" r="4.9" fill="#fff" stroke="#222" stroke-width="0.9"/>
<circle cx="354.9" cy="25.0" r="4.9" fill="#fff" stroke="#222" stroke-width="0.9"/>
<circle cx="356.1" cy="21.4" r="4.9" fill="#fff" stroke="#222" stroke-width="0.9"/>
<circle cx="357.2" cy="18.3" r="4.9" fill="#fff" stroke="#222" stroke-width="0.9"/>
<circle cx="358.6" cy="15.2" r="4.9" fill="#fff" stroke="#222" stroke-width="0.9"/>
<circle cx="366.9" cy="14.2" r="4.9" fill="#fff" stroke="#222" stroke-width="0.9"/>
<circle cx="377.3" cy="14.2" r="4.9" fill="#fff" stroke="#222" stroke-width="0.9"/>
<path d="M233.1 401.3L239.7 394.7L246.3 401.3L239.7 407.9Z" fill="none" stroke="#0000dc" stroke-opacity="0.9" stroke-width="1"/>
<path d="M235.3 401.3L241.9 394.7L248.5 401.3L241.9 407.9Z" fill="none" stroke="#0000dc" stroke-opacity="0.9" stroke-width="1"/>
<path d="M237.5 401.2L244.1 394.6L250.7 401.2L244.1 407.8Z" fill="none" stroke="#0000dc" stroke-opacity="0.9" stroke-width="1"/>
<path d="M239.6 401.2L246.2 394.6L252.8 401.2L246.2 407.8Z" fill="none" stroke="#0000dc" stroke-opacity="0.9" stroke-width="1"/>
<path d="M241.7 401.1L248.3 394.5L254.9 401.1L248.3 407.7Z" fill="none" stroke="#0000dc" stroke-opacity="0.9" stroke-width="1"/>
<path d="M243.9 401.0L250.5 394.4L257.1 401.0L250.5 407.6Z" fill="none" stroke="#0000dc" stroke-opacity="0.9" stroke-width="1"/>
<path d="M245.9 400.9L252.5 394.3L259.1 400.9L252.5 407.5Z" fill="none" stroke="#0000dc" stroke-opacity="0.9" stroke-width="1"/>
<path d="M248.0 400.8L254.6 394.2L261.2 400.8L254.6 407.4Z" fill="none" stroke="#0000dc" stroke-opacity="0.9" stroke-width="1"/>
<path d="M250.1 400.7L256.7 394.1L263.3 400.7L256.7 407.3Z" fill="none" stroke="#0000dc" stroke-opacity="0.9" stroke-width="1"/>
<path d="M252.1 400.5L258.7 393.9L265.3 400.5L258.7 407.1Z" fill="none" stroke="#0000dc" stroke-opacity="0.9" stroke-width="1"/>
<path d="M254.1 400.3L260.7 393.7L267.3 400.3L260.7 406.9Z" fill="none" stroke="#0000dc" stroke-opacity="0.9" stroke-width="1"/>
<path d="M256.1 400.1L262.7 393.5L269.3 400.1L262.7 406.7Z" fill="none" stroke="#0000dc" stroke-opacity="0.9" stroke-width="1"/>
<path d="M258.1 399.9L264.7 393.3L271.3 399.9L264.7 406.5Z" fill="none" stroke="#0000dc" stroke-opacity="0.9" stroke-width="1"/>
<path d="M260.1 399.7L266.7 393.1L273.3 399.7L266.7 406.3Z" fill="none" stroke="#0000dc" stroke-opacity="0.9" stroke-width="1"/>
<path d="M262.1 399.4L268.7 392.8L275.3 399.4L268.7 406.0Z" fill="none" stroke="#0000dc" stroke-opacity="0.9" stroke-width="1"/>
<path d="M264.1 399.1L270.7 392.5L277.3 399.1L270.7 405.7Z" fill="none" stroke="#0000dc" stroke-opacity="0.9" stroke-width="1"/>
<path d="M266.0 398.8L272.6 392.2L279.2 398.8L272.6 405.4Z" fill="none" stroke="#0000dc" stroke-opacity="0.9" stroke-width="1"/>
<path d="M268.0 398.5L274.6 391.9L281.2 398.5L274.6 405.1Z" fill="none" stroke="#0000dc" stroke-opacity="0.9" stroke-width="1"/>
<path d="M269.9 398.1L276.5 391.5L283.1 398.1L276.5 404.7Z" fill="none" stroke="#0000dc" stroke-opacity="0.9" stroke-width="1"/>
<path d="M271.9 397.7L278.5 391.1L285.1 397.7L278.5 404.3Z" fill="none" stroke="#0000dc" stroke-opacity="0.9" stroke-width="1"/>
<path d="M273.8 397.3L280.4 390.7L287.0 397.3L280.4 403.9Z" fill="none" stroke="#0000dc" stroke-opacity="0.9" stroke-width="1"/>
<path d="M275.7 396.9L282.3 390.3L288.9 396.9L282.3 403.5Z" fill="none" stroke="#0000dc" stroke-opacity="0.9" stroke-width="1"/>
<path d="M277.6 396.5L284.2 389.9L290.8 396.5L284.2 403.1Z" fill="none" stroke="#0000dc" stroke-opacity="0.9" stroke-width="1"/>
<path d="M279.5 396.0L286.1 389.4L292.7 396.0L286.1 402.6Z" fill="none" stroke="#0000dc" stroke-opacity="0.9" stroke-width="1"/>
<path d="M281.5 395.5L288.1 388.9L294.7 395.5L288.1 402.1Z" fill="none" stroke="#0000dc" stroke-opacity="0.9" stroke-width="1"/>
<path d="M283.4 394.9L290.0 388.3L296.6 394.9L290.0 401.5Z" fill="none" stroke="#0000dc" stroke-opacity="0.9" stroke-width="1"/>
<path d="M285.2 393.7L291.8 387.1L298.4 393.7L291.8 400.3Z" fill="none" stroke="#0000dc" stroke-opacity="0.9" stroke-width="1"/>
<path d="M286.9 392.1L293.5 385.5L300.1 392.1L293.5 398.7Z" fill="none" stroke="#0000dc" stroke-opacity="0.9" stroke-width="1"/>
<path d="M288.7 390.5L295.3 383.9L301.9 390.5L295.3 397.1Z" fill="none" stroke="#0000dc" stroke-opacity="0.9" stroke-width="1"/>
<path d="M290.7 389.3L297.3 382.7L303.9 389.3L297.3 395.9Z" fill="none" stroke="#0000dc" stroke-opacity="0.9" stroke-width="1"/>
<path d="M292.8 388.3L299.4 381.7L306.0 388.3L299.4 394.9Z" fill="none" stroke="#0000dc" stroke-opacity="0.9" stroke-width="1"/>
<path d="M295.1 387.5L301.7 380.9L308.3 387.5L301.7 394.1Z" fill="none" stroke="#0000dc" stroke-opacity="0.9" stroke-width="1"/>
<path d="M297.3 386.6L303.9 380.0L310.5 386.6L303.9 393.2Z" fill="none" stroke="#0000dc" stroke-opacity="0.9" stroke-width="1"/>
<path d="M299.6 385.6L306.2 379.0L312.8 385.6L306.2 392.2Z" fill="none" stroke="#0000dc" stroke-opacity="0.9" stroke-width="1"/>
<path d="M301.9 384.7L308.5 378.1L315.1 384.7L308.5 391.3Z" fill="none" stroke="#0000dc" stroke-opacity="0.9" stroke-width="1"/>
<path d="M304.2 383.8L310.8 377.2L317.4 383.8L310.8 390.4Z" fill="none" stroke="#0000dc" stroke-opacity="0.9" stroke-width="1"/>
<path d="M306.5 382.9L313.1 376.3L319.7 382.9L313.1 389.5Z" fill="none" stroke="#0000dc" stroke-opacity="0.9" stroke-width="1"/>
<path d="M308.9 381.9L315.5 375.3L322.1 381.9L315.5 388.5Z" fill="none" stroke="#0000dc" stroke-opacity="0.9" stroke-width="1"/>
<path d="M311.2 380.6L317.8 374.0L324.4 380.6L317.8 387.2Z" fill="none" stroke="#0000dc" stroke-opacity="0.9" stroke-width="1"/>
<path d="M313.5 379.4L320.1 372.8L326.7 379.4L320.1 386.0Z" fill="none" stroke="#0000dc" stroke-opacity="0.9" stroke-width="1"/>
<path d="M315.9 378.2L322.5 371.6L329.1 378.2L322.5 384.8Z" fill="none" stroke="#0000dc" stroke-opacity="0.9" stroke-width="1"/>
<path d="M318.4 377.2L325.0 370.6L331.6 377.2L325.0 383.8Z" fill="none" stroke="#0000dc" stroke-opacity="0.9" stroke-width="1"/>
<path d="M321.0 376.3L327.6 369.7L334.2 376.3L327.6 382.9Z" fill="none" stroke="#0000dc" stroke-opacity="0.9" stroke-width="1"/>
<path d="M323.6 375.4L330.2 368.8L336.8 375.4L330.2 382.0Z" fill="none" stroke="#0000dc" stroke-opacity="0.9" stroke-width="1"/>
<path d="M326.3 374.5L332.9 367.9L339.5 374.5L332.9 381.1Z" fill="none" stroke="#0000dc" stroke-opacity="0.9" stroke-width="1"/>
<path d="M328.9 373.4L335.5 366.8L342.1 373.4L335.5 380.0Z" fill="none" stroke="#0000dc" stroke-opacity="0.9" stroke-width="1"/>
<path d="M331.5 372.1L338.1 365.5L344.7 372.1L338.1 378.7Z" fill="none" stroke="#0000dc" stroke-opacity="0.9" stroke-width="1"/>
<path d="M334.1 370.7L340.7 364.1L347.3 370.7L340.7 377.3Z" fill="none" stroke="#0000dc" stroke-opacity="0.9" stroke-width="1"/>
<path d="M336.6 369.0L343.2 362.4L349.8 369.0L343.2 375.6Z" fill="none" stroke="#0000dc" stroke-opacity="0.9" stroke-width="1"/>
<path d="M339.1 367.3L345.7 360.7L352.3 367.3L345.7 373.9Z" fill="none" stroke="#0000dc" stroke-opacity="0.9" stroke-width="1"/>
<path d="M341.6 365.6L348.2 359.0L354.8 365.6L348.2 372.2Z" fill="none" stroke="#0000dc" stroke-opacity="0.9" stroke-width="1"/>
<path d="M344.3 363.9L350.9 357.3L357.5 363.9L350.9 370.5Z" fill="none" stroke="#0000dc" stroke-opacity="0.9" stroke-width="1"/>
<path d="M346.9 362.0L353.5 355.4L360.1 362.0L353.5 368.6Z" fill="none" stroke="#0000dc" stroke-opacity="0.9" stroke-width="1"/>
<path d="M349.4 360.0L356.0 353.4L362.6 360.0L356.0 366.6Z" fill="none" stroke="#0000dc" stroke-opacity="0.9" stroke-width="1"/>
<path d="M352.0 358.0L358.6 351.4L365.2 358.0L358.6 364.6Z" fill="none" stroke="#0000dc" stroke-opacity="0.9" stroke-width="1"/>
<path d="M354.7 356.1L361.3 349.5L367.9 356.1L361.3 362.7Z" fill="none" stroke="#0000dc" stroke-opacity="0.9" stroke-width="1"/>
<path d="M357.5 354.1L364.1 347.5L370.7 354.1L364.1 360.7Z" fill="none" stroke="#0000dc" stroke-opacity="0.9" stroke-width="1"/>
<path d="M360.1 351.8L366.7 345.2L373.3 351.8L366.7 358.4Z" fill="none" stroke="#0000dc" stroke-opacity="0.9" stroke-width="1"/>
<path d="M362.6 349.3L369.2 342.7L375.8 349.3L369.2 355.9Z" fill="none" stroke="#0000dc" stroke-opacity="0.9" stroke-width="1"/>
<path d="M365.0 346.7L371.6 340.1L378.2 346.7L371.6 353.3Z" fill="none" stroke="#0000dc" stroke-opacity="0.9" stroke-width="1"/>
<path d="M367.3 343.8L373.9 337.2L380.5 343.8L373.9 350.4Z" fill="none" stroke="#0000dc" stroke-opacity="0.9" stroke-width="1"/>
<path d="M369.5 340.9L376.1 334.3L382.7 340.9L376.1 347.5Z" fill="none" stroke="#0000dc" stroke-opacity="0.9" stroke-width="1"/>
<path d="M371.5 337.7L378.1 331.1L384.7 337.7L378.1 344.3Z" fill="none" stroke="#0000dc" stroke-opacity="0.9" stroke-width="1"/>
<path d="M373.7 334.5L380.3 327.9L386.9 334.5L380.3 341.1Z" fill="none" stroke="#0000dc" stroke-opacity="0.9" stroke-width="1"/>
<path d="M375.8 331.2L382.4 324.6L389.0 331.2L382.4 337.8Z" fill="none" stroke="#0000dc" stroke-opacity="0.9" stroke-width="1"/>
<path d="M378.0 327.9L384.6 321.3L391.2 327.9L384.6 334.5Z" fill="none" stroke="#0000dc" stroke-opacity="0.9" stroke-width="1"/>
<path d="M380.1 324.4L386.7 317.8L393.3 324.4L386.7 331.0Z" fill="none" stroke="#0000dc" stroke-opacity="0.9" stroke-width="1"/>
<path d="M382.2 320.8L388.8 314.2L395.4 320.8L388.8 327.4Z" fill="none" stroke="#0000dc" stroke-opacity="0.9" stroke-width="1"/>
<path d="M384.4 317.2L391.0 310.6L397.6 317.2L391.0 323.8Z" fill="none" stroke="#0000dc" stroke-opacity="0.9" stroke-width="1"/>
<path d="M386.6 313.5L393.2 306.9L399.8 313.5L393.2 320.1Z" fill="none" stroke="#0000dc" stroke-opacity="0.9" stroke-width="1"/>
<path d="M388.9 309.8L395.5 303.2L402.1 309.8L395.5 316.4Z" fill="none" stroke="#0000dc" stroke-opacity="0.9" stroke-width="1"/>
<path d="M390.9 305.8L397.5 299.2L404.1 305.8L397.5 312.4Z" fill="none" stroke="#0000dc" stroke-opacity="0.9" stroke-width="1"/>
<path d="M393.6 295.2L400.2 288.6L406.8 295.2L400.2 301.8Z" fill="none" stroke="#0000dc" stroke-opacity="0.9" stroke-width="1"/>
<path d="M395.3 288.0L401.9 281.4L408.5 288.0L401.9 294.6Z" fill="none" stroke="#0000dc" stroke-opacity="0.9" stroke-width="1"/>
<path d="M395.7 279.6L402.3 273.0L408.9 279.6L402.3 286.2Z" fill="none" stroke="#0000dc" stroke-opacity="0.9" stroke-width="1"/>
<path d="M396.3 265.1L402.9 258.5L409.5 265.1L402.9 271.7Z" fill="none" stroke="#0000dc" stroke-opacity="0.9" stroke-width="1"/>
<path d="M397.7 230.8L404.3 224.2L410.9 230.8L404.3 237.4Z" fill="none" stroke="#0000dc" stroke-opacity="0.9" stroke-width="1"/>
<path d="M398.8 163.8L405.4 157.2L412.0 163.8L405.4 170.4Z" fill="none" stroke="#0000dc" stroke-opacity="0.9" stroke-width="1"/>
<path d="M400.2 66.1L406.8 59.5L413.4 66.1L406.8 72.7Z" fill="none" stroke="#0000dc" stroke-opacity="0.9" stroke-width="1"/>
<path d="M400.2 54.1L406.8 47.5L413.4 54.1L406.8 60.7Z" fill="none" stroke="#0000dc" stroke-opacity="0.9" stroke-width="1"/>
<path d="M401.5 42.2L408.1 35.6L414.7 42.2L408.1 48.8Z" fill="none" stroke="#0000dc" stroke-opacity="0.9" stroke-width="1"/>
<path d="M402.9 36.0L409.5 29.4L416.1 36.0L409.5 42.6Z" fill="none" stroke="#0000dc" stroke-opacity="0.9" stroke-width="1"/>
<path d="M403.7 33.7L410.3 27.1L416.9 33.7L410.3 40.3Z" fill="none" stroke="#0000dc" stroke-opacity="0.9" stroke-width="1"/>
<path d="M404.6 31.5L411.2 24.9L417.8 31.5L411.2 38.1Z" fill="none" stroke="#0000dc" stroke-opacity="0.9" stroke-width="1"/>
<path d="M405.8 29.5L412.4 22.9L419.0 29.5L412.4 36.1Z" fill="none" stroke="#0000dc" stroke-opacity="0.9" stroke-width="1"/>
<path d="M407.2 27.6L413.8 21.0L420.4 27.6L413.8 34.2Z" fill="none" stroke="#0000dc" stroke-opacity="0.9" stroke-width="1"/>
<path d="M408.5 25.6L415.1 19.0L421.7 25.6L415.1 32.2Z" fill="none" stroke="#0000dc" stroke-opacity="0.9" stroke-width="1"/>
<path d="M409.9 23.7L416.5 17.1L423.1 23.7L416.5 30.3Z" fill="none" stroke="#0000dc" stroke-opacity="0.9" stroke-width="1"/>
<path d="M411.4 21.9L418.0 15.3L424.6 21.9L418.0 28.5Z" fill="none" stroke="#0000dc" stroke-opacity="0.9" stroke-width="1"/>
<path d="M413.2 20.3L419.8 13.7L426.4 20.3L419.8 26.9Z" fill="none" stroke="#0000dc" stroke-opacity="0.9" stroke-width="1"/>
<path d="M415.1 18.9L421.7 12.3L428.3 18.9L421.7 25.5Z" fill="none" stroke="#0000dc" stroke-opacity="0.9" stroke-width="1"/>
<path d="M417.1 17.5L423.7 10.9L430.3 17.5L423.7 24.1Z" fill="none" stroke="#0000dc" stroke-opacity="0.9" stroke-width="1"/>
<path d="M419.2 16.4L425.8 9.8L432.4 16.4L425.8 23.0Z" fill="none" stroke="#0000dc" stroke-opacity="0.9" stroke-width="1"/>
<path d="M421.4 15.7L428.0 9.1L434.6 15.7L428.0 22.3Z" fill="none" stroke="#0000dc" stroke-opacity="0.9" stroke-width="1"/>
<path d="M423.7 15.2L430.3 8.6L436.9 15.2L430.3 21.8Z" fill="none" stroke="#0000dc" stroke-opacity="0.9" stroke-width="1"/>
<path d="M428.9 14.6L435.5 8.0L442.1 14.6L435.5 21.2Z" fill="none" stroke="#0000dc" stroke-opacity="0.9" stroke-width="1"/>
<path d="M435.2 14.2L441.8 7.6L448.4 14.2L441.8 20.8Z" fill="none" stroke="#0000dc" stroke-opacity="0.9" stroke-width="1"/>
<path d="M442.4 14.2L449.0 7.6L455.6 14.2L449.0 20.8Z" fill="none" stroke="#0000dc" stroke-opacity="0.9" stroke-width="1"/>
<circle cx="172.1" cy="400.9" r="5.5"/>
<circle cx="176.8" cy="399.7" r="5.5"/>
<circle cx="181.5" cy="398.5" r="5.5"/>
<circle cx="185.9" cy="396.5" r="5.5"/>
<circle cx="189.8" cy="393.8" r="5.5"/>
<circle cx="193.3" cy="390.4" r="5.5"/>
<circle cx="197.2" cy="387.7" r="5.5"/>
<circle cx="200.6" cy="384.3" r="5.5"/>
<circle cx="203.8" cy="380.8" r="5.5"/>
<circle cx="205.8" cy="376.3" r="5.5"/>
<circle cx="208.9" cy="364.3" r="5.5"/>
<circle cx="210.2" cy="354.5" r="5.5"/>
<circle cx="212.2" cy="343.1" r="5.5"/>
<circle cx="214.3" cy="326.8" r="5.5"/>
<circle cx="216.4" cy="307.7" r="5.5"/>
<circle cx="218.3" cy="286.9" r="5.5"/>
<circle cx="219.9" cy="258.9" r="5.5"/>
<circle cx="221.0" cy="237.7" r="5.5"/>
<circle cx="222.0" cy="205.4" r="5.5"/>
<circle cx="223.1" cy="178.0" r="5.5"/>
<circle cx="224.1" cy="163.8" r="5.5"/>
<circle cx="224.7" cy="146.6" r="5.5"/>
<circle cx="225.6" cy="128.9" r="5.5"/>
<circle cx="226.6" cy="111.2" r="5.5"/>
<circle cx="228.3" cy="93.2" r="5.5"/>
<circle cx="229.9" cy="78.0" r="5.5"/>
<circle cx="231.8" cy="64.5" r="5.5"/>
<circle cx="233.5" cy="52.6" r="5.5"/>
<circle cx="235.5" cy="43.3" r="5.5"/>
<circle cx="238.0" cy="36.6" r="5.5"/>
<circle cx="240.1" cy="30.8" r="5.5"/>
<circle cx="242.8" cy="25.6" r="5.5"/>
<circle cx="244.9" cy="22.1" r="5.5"/>
<circle cx="243.7" cy="18.6" r="5.5"/>
<circle cx="246.5" cy="16.2" r="5.5"/>
<circle cx="249.9" cy="14.6" r="5.5"/>
<circle cx="254.9" cy="14.2" r="5.5"/>
<circle cx="261.7" cy="14.2" r="5.5"/>
<circle cx="268.0" cy="14.2" r="5.5"/>
<circle cx="274.8" cy="14.2" r="5.5"/>
<circle cx="281.7" cy="14.2" r="5.5"/>
<circle cx="285.5" cy="14.2" r="5.5"/>
<rect x="257.2" y="380.4" width="11.2" height="11.2" fill="#c40000"/>
<rect x="258.6" y="379.3" width="11.2" height="11.2" fill="#c40000"/>
<rect x="260.0" y="378.1" width="11.2" height="11.2" fill="#c40000"/>
<rect x="261.4" y="377.0" width="11.2" height="11.2" fill="#c40000"/>
<rect x="262.9" y="375.9" width="11.2" height="11.2" fill="#c40000"/>
<rect x="264.3" y="374.8" width="11.2" height="11.2" fill="#c40000"/>
<rect x="265.6" y="373.6" width="11.2" height="11.2" fill="#c40000"/>
<rect x="266.7" y="372.2" width="11.2" height="11.2" fill="#c40000"/>
<rect x="267.8" y="370.8" width="11.2" height="11.2" fill="#c40000"/>
<rect x="268.9" y="369.3" width="11.2" height="11.2" fill="#c40000"/>
<rect x="270.0" y="367.9" width="11.2" height="11.2" fill="#c40000"/>
<rect x="271.1" y="366.4" width="11.2" height="11.2" fill="#c40000"/>
<rect x="272.3" y="365.0" width="11.2" height="11.2" fill="#c40000"/>
<rect x="273.4" y="363.6" width="11.2" height="11.2" fill="#c40000"/>
<rect x="274.5" y="362.2" width="11.2" height="11.2" fill="#c40000"/>
<rect x="275.6" y="360.7" width="11.2" height="11.2" fill="#c40000"/>
<rect x="276.7" y="359.3" width="11.2" height="11.2" fill="#c40000"/>
<rect x="277.8" y="357.9" width="11.2" height="11.2" fill="#c40000"/>
<rect x="278.8" y="356.4" width="11.2" height="11.2" fill="#c40000"/>
<rect x="279.7" y="354.8" width="11.2" height="11.2" fill="#c40000"/>
<rect x="280.6" y="353.3" width="11.2" height="11.2" fill="#c40000"/>
<rect x="281.5" y="351.7" width="11.2" height="11.2" fill="#c40000"/>
<rect x="282.3" y="350.0" width="11.2" height="11.2" fill="#c40000"/>
<rect x="283.1" y="348.4" width="11.2" height="11.2" fill="#c40000"/>
<rect x="283.8" y="346.7" width="11.2" height="11.2" fill="#c40000"/>
<rect x="284.4" y="345.0" width="11.2" height="11.2" fill="#c40000"/>
<rect x="284.9" y="343.3" width="11.2" height="11.2" fill="#c40000"/>
<rect x="285.5" y="341.6" width="11.2" height="11.2" fill="#c40000"/>
<rect x="285.9" y="339.8" width="11.2" height="11.2" fill="#c40000"/>
<rect x="286.2" y="338.0" width="11.2" height="11.2" fill="#c40000"/>
<rect x="286.4" y="336.3" width="11.2" height="11.2" fill="#c40000"/>
<rect x="286.5" y="334.5" width="11.2" height="11.2" fill="#c40000"/>
<rect x="286.6" y="332.7" width="11.2" height="11.2" fill="#c40000"/>
<rect x="286.7" y="330.9" width="11.2" height="11.2" fill="#c40000"/>
<rect x="286.8" y="329.1" width="11.2" height="11.2" fill="#c40000"/>
<rect x="286.9" y="327.2" width="11.2" height="11.2" fill="#c40000"/>
<rect x="286.9" y="325.4" width="11.2" height="11.2" fill="#c40000"/>
<rect x="287.0" y="323.6" width="11.2" height="11.2" fill="#c40000"/>
<rect x="287.2" y="321.8" width="11.2" height="11.2" fill="#c40000"/>
<rect x="287.3" y="320.0" width="11.2" height="11.2" fill="#c40000"/>
<rect x="287.4" y="318.2" width="11.2" height="11.2" fill="#c40000"/>
<rect x="287.5" y="316.4" width="11.2" height="11.2" fill="#c40000"/>
<rect x="287.6" y="314.6" width="11.2" height="11.2" fill="#c40000"/>
<rect x="287.7" y="312.8" width="11.2" height="11.2" fill="#c40000"/>
<rect x="287.8" y="311.0" width="11.2" height="11.2" fill="#c40000"/>
<rect x="287.8" y="309.2" width="11.2" height="11.2" fill="#c40000"/>
<rect x="287.9" y="307.4" width="11.2" height="11.2" fill="#c40000"/>
<rect x="289.6" y="289.6" width="11.2" height="11.2" fill="#c40000"/>
<rect x="290.6" y="263.7" width="11.2" height="11.2" fill="#c40000"/>
<rect x="291.7" y="228.3" width="11.2" height="11.2" fill="#c40000"/>
<rect x="294.8" y="194.0" width="11.2" height="11.2" fill="#c40000"/>
<rect x="294.8" y="176.1" width="11.2" height="11.2" fill="#c40000"/>
<rect x="296.3" y="154.1" width="11.2" height="11.2" fill="#c40000"/>
<rect x="298.3" y="136.4" width="11.2" height="11.2" fill="#c40000"/>
<rect x="299.4" y="120.2" width="11.2" height="11.2" fill="#c40000"/>
<rect x="301.0" y="104.2" width="11.2" height="11.2" fill="#c40000"/>
<rect x="303.1" y="86.5" width="11.2" height="11.2" fill="#c40000"/>
<rect x="305.2" y="66.8" width="11.2" height="11.2" fill="#c40000"/>
<rect x="306.2" y="54.3" width="11.2" height="11.2" fill="#c40000"/>
<rect x="306.6" y="52.3" width="11.2" height="11.2" fill="#c40000"/>
<rect x="307.0" y="50.3" width="11.2" height="11.2" fill="#c40000"/>
<rect x="307.4" y="48.3" width="11.2" height="11.2" fill="#c40000"/>
<rect x="307.8" y="46.4" width="11.2" height="11.2" fill="#c40000"/>
<rect x="308.4" y="44.4" width="11.2" height="11.2" fill="#c40000"/>
<rect x="308.9" y="42.5" width="11.2" height="11.2" fill="#c40000"/>
<rect x="309.4" y="40.5" width="11.2" height="11.2" fill="#c40000"/>
<rect x="309.9" y="38.5" width="11.2" height="11.2" fill="#c40000"/>
<rect x="310.4" y="36.6" width="11.2" height="11.2" fill="#c40000"/>
<rect x="310.9" y="34.6" width="11.2" height="11.2" fill="#c40000"/>
<rect x="311.4" y="32.6" width="11.2" height="11.2" fill="#c40000"/>
<rect x="311.9" y="30.7" width="11.2" height="11.2" fill="#c40000"/>
<rect x="312.4" y="28.7" width="11.2" height="11.2" fill="#c40000"/>
<rect x="313.0" y="26.8" width="11.2" height="11.2" fill="#c40000"/>
<rect x="313.6" y="24.9" width="11.2" height="11.2" fill="#c40000"/>
<rect x="314.3" y="22.9" width="11.2" height="11.2" fill="#c40000"/>
<rect x="315.1" y="21.1" width="11.2" height="11.2" fill="#c40000"/>
<rect x="316.0" y="19.3" width="11.2" height="11.2" fill="#c40000"/>
<rect x="317.2" y="17.6" width="11.2" height="11.2" fill="#c40000"/>
<rect x="318.5" y="16.1" width="11.2" height="11.2" fill="#c40000"/>
<rect x="319.9" y="14.6" width="11.2" height="11.2" fill="#c40000"/>
<rect x="321.5" y="13.4" width="11.2" height="11.2" fill="#c40000"/>
<rect x="323.2" y="12.3" width="11.2" height="11.2" fill="#c40000"/>
<rect x="325.0" y="11.4" width="11.2" height="11.2" fill="#c40000"/>
<rect x="326.9" y="10.7" width="11.2" height="11.2" fill="#c40000"/>
<rect x="328.9" y="10.2" width="11.2" height="11.2" fill="#c40000"/>
<rect x="330.9" y="9.9" width="11.2" height="11.2" fill="#c40000"/>
<rect x="332.9" y="9.7" width="11.2" height="11.2" fill="#c40000"/>
<rect x="334.9" y="9.6" width="11.2" height="11.2" fill="#c40000"/>
<rect x="337.0" y="9.5" width="11.2" height="11.2" fill="#c40000"/>
<rect x="339.0" y="9.4" width="11.2" height="11.2" fill="#c40000"/>
<rect x="341.0" y="9.3" width="11.2" height="11.2" fill="#c40000"/>
<rect x="343.0" y="9.2" width="11.2" height="11.2" fill="#c40000"/>
<path d="M245.0 393.5L252.0 386.5L259.0 393.5L252.0 400.5Z" fill="#0000dc"/>
<path d="M247.5 392.7L254.5 385.7L261.5 392.7L254.5 399.7Z" fill="#0000dc"/>
<path d="M250.0 392.0L257.0 385.0L264.0 392.0L257.0 399.0Z" fill="#0000dc"/>
<path d="M252.5 391.3L259.5 384.3L266.5 391.3L259.5 398.3Z" fill="#0000dc"/>
<path d="M255.0 390.6L262.0 383.6L269.0 390.6L262.0 397.6Z" fill="#0000dc"/>
<path d="M257.5 389.9L264.5 382.9L271.5 389.9L264.5 396.9Z" fill="#0000dc"/>
<path d="M260.0 389.2L267.0 382.2L274.0 389.2L267.0 396.2Z" fill="#0000dc"/>
<path d="M262.5 388.5L269.5 381.5L276.5 388.5L269.5 395.5Z" fill="#0000dc"/>
<path d="M264.9 387.7L271.9 380.7L278.9 387.7L271.9 394.7Z" fill="#0000dc"/>
<path d="M267.4 387.0L274.4 380.0L281.4 387.0L274.4 394.0Z" fill="#0000dc"/>
<path d="M269.9 386.2L276.9 379.2L283.9 386.2L276.9 393.2Z" fill="#0000dc"/>
<path d="M272.4 385.5L279.4 378.5L286.4 385.5L279.4 392.5Z" fill="#0000dc"/>
<path d="M274.9 384.7L281.9 377.7L288.9 384.7L281.9 391.7Z" fill="#0000dc"/>
<path d="M277.4 384.1L284.4 377.1L291.4 384.1L284.4 391.1Z" fill="#0000dc"/>
<path d="M280.0 383.6L287.0 376.6L294.0 383.6L287.0 390.6Z" fill="#0000dc"/>
<path d="M282.5 383.2L289.5 376.2L296.5 383.2L289.5 390.2Z" fill="#0000dc"/>
<path d="M285.1 382.9L292.1 375.9L299.1 382.9L292.1 389.9Z" fill="#0000dc"/>
<path d="M287.6 382.4L294.6 375.4L301.6 382.4L294.6 389.4Z" fill="#0000dc"/>
<path d="M290.0 381.4L297.0 374.4L304.0 381.4L297.0 388.4Z" fill="#0000dc"/>
<path d="M292.5 380.5L299.5 373.5L306.5 380.5L299.5 387.5Z" fill="#0000dc"/>
<path d="M294.9 379.7L301.9 372.7L308.9 379.7L301.9 386.7Z" fill="#0000dc"/>
<path d="M297.3 378.6L304.3 371.6L311.3 378.6L304.3 385.6Z" fill="#0000dc"/>
<path d="M299.6 377.4L306.6 370.4L313.6 377.4L306.6 384.4Z" fill="#0000dc"/>
<path d="M301.9 376.2L308.9 369.2L315.9 376.2L308.9 383.2Z" fill="#0000dc"/>
<path d="M304.2 375.1L311.2 368.1L318.2 375.1L311.2 382.1Z" fill="#0000dc"/>
<path d="M306.6 373.9L313.6 366.9L320.6 373.9L313.6 380.9Z" fill="#0000dc"/>
<path d="M308.8 372.6L315.8 365.6L322.8 372.6L315.8 379.6Z" fill="#0000dc"/>
<path d="M310.9 371.1L317.9 364.1L324.9 371.1L317.9 378.1Z" fill="#0000dc"/>
<path d="M312.9 369.4L319.9 362.4L326.9 369.4L319.9 376.4Z" fill="#0000dc"/>
<path d="M314.7 367.6L321.7 360.6L328.7 367.6L321.7 374.6Z" fill="#0000dc"/>
<path d="M316.5 365.7L323.5 358.7L330.5 365.7L323.5 372.7Z" fill="#0000dc"/>
<path d="M318.1 363.7L325.1 356.7L332.1 363.7L325.1 370.7Z" fill="#0000dc"/>
<path d="M319.7 361.6L326.7 354.6L333.7 361.6L326.7 368.6Z" fill="#0000dc"/>
<path d="M321.4 359.6L328.4 352.6L335.4 359.6L328.4 366.6Z" fill="#0000dc"/>
<path d="M323.1 357.6L330.1 350.6L337.1 357.6L330.1 364.6Z" fill="#0000dc"/>
<path d="M324.6 355.5L331.6 348.5L338.6 355.5L331.6 362.5Z" fill="#0000dc"/>
<path d="M325.8 353.3L332.8 346.3L339.8 353.3L332.8 360.3Z" fill="#0000dc"/>
<path d="M326.9 350.9L333.9 343.9L340.9 350.9L333.9 357.9Z" fill="#0000dc"/>
<path d="M328.1 348.6L335.1 341.6L342.1 348.6L335.1 355.6Z" fill="#0000dc"/>
<path d="M329.3 346.3L336.3 339.3L343.3 346.3L336.3 353.3Z" fill="#0000dc"/>
<path d="M330.5 343.9L337.5 336.9L344.5 343.9L337.5 350.9Z" fill="#0000dc"/>
<path d="M331.3 341.5L338.3 334.5L345.3 341.5L338.3 348.5Z" fill="#0000dc"/>
<path d="M332.0 339.0L339.0 332.0L346.0 339.0L339.0 346.0Z" fill="#0000dc"/>
<path d="M332.6 336.4L339.6 329.4L346.6 336.4L339.6 343.4Z" fill="#0000dc"/>
<path d="M333.1 333.9L340.1 326.9L347.1 333.9L340.1 340.9Z" fill="#0000dc"/>
<path d="M333.5 331.3L340.5 324.3L347.5 331.3L340.5 338.3Z" fill="#0000dc"/>
<path d="M333.9 328.8L340.9 321.8L347.9 328.8L340.9 335.8Z" fill="#0000dc"/>
<path d="M334.2 326.2L341.2 319.2L348.2 326.2L341.2 333.2Z" fill="#0000dc"/>
<path d="M334.6 323.6L341.6 316.6L348.6 323.6L341.6 330.6Z" fill="#0000dc"/>
<path d="M334.9 321.0L341.9 314.0L348.9 321.0L341.9 328.0Z" fill="#0000dc"/>
<path d="M335.2 318.5L342.2 311.5L349.2 318.5L342.2 325.5Z" fill="#0000dc"/>
<path d="M335.5 315.9L342.5 308.9L349.5 315.9L342.5 322.9Z" fill="#0000dc"/>
<path d="M335.8 313.3L342.8 306.3L349.8 313.3L342.8 320.3Z" fill="#0000dc"/>
<path d="M336.2 310.7L343.2 303.7L350.2 310.7L343.2 317.7Z" fill="#0000dc"/>
<path d="M336.5 308.2L343.5 301.2L350.5 308.2L343.5 315.2Z" fill="#0000dc"/>
<path d="M336.8 305.6L343.8 298.6L350.8 305.6L343.8 312.6Z" fill="#0000dc"/>
<path d="M337.1 303.0L344.1 296.0L351.1 303.0L344.1 310.0Z" fill="#0000dc"/>
<path d="M337.5 300.4L344.5 293.4L351.5 300.4L344.5 307.4Z" fill="#0000dc"/>
<path d="M339.0 288.0L346.0 281.0L353.0 288.0L346.0 295.0Z" fill="#0000dc"/>
<path d="M339.6 266.2L346.6 259.2L353.6 266.2L346.6 273.2Z" fill="#0000dc"/>
<path d="M340.4 238.1L347.4 231.1L354.4 238.1L347.4 245.1Z" fill="#0000dc"/>
<path d="M341.5 212.1L348.5 205.1L355.5 212.1L348.5 219.1Z" fill="#0000dc"/>
<path d="M346.4 186.7L353.4 179.7L360.4 186.7L353.4 193.7Z" fill="#0000dc"/>
<path d="M347.4 175.3L354.4 168.3L361.4 175.3L354.4 182.3Z" fill="#0000dc"/>
<path d="M348.5 163.8L355.5 156.8L362.5 163.8L355.5 170.8Z" fill="#0000dc"/>
<path d="M349.9 153.5L356.9 146.5L363.9 153.5L356.9 160.5Z" fill="#0000dc"/>
<path d="M351.2 145.1L358.2 138.1L365.2 145.1L358.2 152.1Z" fill="#0000dc"/>
<path d="M352.6 134.7L359.6 127.7L366.6 134.7L359.6 141.7Z" fill="#0000dc"/>
<path d="M353.7 123.3L360.7 116.3L367.7 123.3L360.7 130.3Z" fill="#0000dc"/>
<path d="M354.7 111.9L361.7 104.9L368.7 111.9L361.7 118.9Z" fill="#0000dc"/>
<path d="M356.8 100.4L363.8 93.4L370.8 100.4L363.8 107.4Z" fill="#0000dc"/>
<path d="M359.9 86.9L366.9 79.9L373.9 86.9L366.9 93.9Z" fill="#0000dc"/>
<path d="M362.0 76.5L369.0 69.5L376.0 76.5L369.0 83.5Z" fill="#0000dc"/>
<path d="M364.1 68.2L371.1 61.2L378.1 68.2L371.1 75.2Z" fill="#0000dc"/>
<path d="M365.7 62.0L372.7 55.0L379.7 62.0L372.7 69.0Z" fill="#0000dc"/>
<path d="M367.2 55.7L374.2 48.7L381.2 55.7L374.2 62.7Z" fill="#0000dc"/>
<path d="M369.3 49.5L376.3 42.5L383.3 49.5L376.3 56.5Z" fill="#0000dc"/>
<path d="M371.4 43.3L378.4 36.3L385.4 43.3L378.4 50.3Z" fill="#0000dc"/>
<path d="M373.4 37.0L380.4 30.0L387.4 37.0L380.4 44.0Z" fill="#0000dc"/>
<path d="M376.1 31.8L383.1 24.8L390.1 31.8L383.1 38.8Z" fill="#0000dc"/>
<path d="M376.1 31.8L383.1 24.8L390.1 31.8L383.1 38.8Z" fill="#0000dc"/>
<path d="M377.4 29.9L384.4 22.9L391.4 29.9L384.4 36.9Z" fill="#0000dc"/>
<path d="M378.7 28.1L385.7 21.1L392.7 28.1L385.7 35.1Z" fill="#0000dc"/>
<path d="M380.1 26.4L387.1 19.4L394.1 26.4L387.1 33.4Z" fill="#0000dc"/>
<path d="M381.6 24.8L388.6 17.8L395.6 24.8L388.6 31.8Z" fill="#0000dc"/>
<path d="M383.3 23.3L390.3 16.3L397.3 23.3L390.3 30.3Z" fill="#0000dc"/>
<path d="M385.1 22.0L392.1 15.0L399.1 22.0L392.1 29.0Z" fill="#0000dc"/>
<path d="M387.0 20.8L394.0 13.8L401.0 20.8L394.0 27.8Z" fill="#0000dc"/>
<path d="M388.9 19.7L395.9 12.7L402.9 19.7L395.9 26.7Z" fill="#0000dc"/>
<path d="M390.8 18.5L397.8 11.5L404.8 18.5L397.8 25.5Z" fill="#0000dc"/>
<path d="M392.8 17.5L399.8 10.5L406.8 17.5L399.8 24.5Z" fill="#0000dc"/>
<path d="M394.8 16.5L401.8 9.5L408.8 16.5L401.8 23.5Z" fill="#0000dc"/>
<path d="M396.9 15.8L403.9 8.8L410.9 15.8L403.9 22.8Z" fill="#0000dc"/>
<path d="M399.0 15.1L406.0 8.1L413.0 15.1L406.0 22.1Z" fill="#0000dc"/>
<path d="M401.2 14.6L408.2 7.6L415.2 14.6L408.2 21.6Z" fill="#0000dc"/>
<path d="M403.4 14.3L410.4 7.3L417.4 14.3L410.4 21.3Z" fill="#0000dc"/>
<path d="M405.7 14.2L412.7 7.2L419.7 14.2L412.7 21.2Z" fill="#0000dc"/>
</g>
<rect x="97" y="22.45" width="107.6" height="118.2" fill="#fff" stroke="#000" stroke-width="1.4"/>
<circle cx="124.2" cy="35.55" r="4.9" fill="none" stroke="#222" stroke-width="0.9"/>
<rect x="118.8" y="45.45" width="10.8" height="10.8" fill="none" stroke="#c40000" stroke-opacity="0.75" stroke-width="0.9"/>
<path d="M117.6 66.15L124.2 59.55L130.8 66.15L124.2 72.75Z" fill="none" stroke="#0000dc" stroke-opacity="0.9" stroke-width="1"/>
<line x1="105" y1="81.45" x2="143.8" y2="81.45" stroke="#000" stroke-width="2.4"/>
<line x1="113.5" y1="96.75" x2="143" y2="96.75" stroke="#c40000" stroke-width="2.1" stroke-dasharray="11.5 6"/>
<line x1="105" y1="112.05" x2="144" y2="112.05" stroke="#0000dc" stroke-width="2.5" stroke-dasharray="3.2 5.57"/>
<line x1="105" y1="127.35" x2="143.5" y2="127.35" stroke="#8cb400" stroke-width="2.0" stroke-dasharray="2.6 1.2"/>
<text x="148.2" y="40.35" font-size="12.95" fill="#111" stroke="#111" stroke-width="0.27">26%</text>
<text x="148.2" y="55.65" font-size="12.95" fill="#c40000" stroke="#c40000" stroke-width="0.27">41%</text>
<text x="148.2" y="70.95" font-size="12.95" fill="#0000dc" stroke="#0000dc" stroke-width="0.27">48%</text>
<text x="148.2" y="86.25" font-size="12.95" fill="#111" stroke="#111" stroke-width="0.27">26% sim</text>
<text x="148.2" y="101.55" font-size="12.95" fill="#c40000" stroke="#c40000" stroke-width="0.27">41% sim</text>
<text x="148.2" y="116.85" font-size="12.95" fill="#0000dc" stroke="#0000dc" stroke-width="0.27">48% sim</text>
<text x="148.2" y="132.15" font-size="12.95" fill="#8cb400" stroke="#8cb400" stroke-width="0.27">WA1</text>
<rect x="100.9" y="152.8" width="60" height="77" fill="#fff"/>
<text x="104.9" y="163.8" font-size="13.3" fill="#111" stroke="#111" stroke-width="0.27">symbols</text>
<line x1="104.6" y1="165.7" x2="153.5" y2="165.7" stroke="#111" stroke-width="0.8"/>
<text x="104.9" y="179.2" font-size="13.3" fill="#111" stroke="#111" stroke-width="0.27">open:</text>
<text x="104.9" y="194.6" font-size="13.3" fill="#111" stroke="#111" stroke-width="0.27">light-off</text>
<text x="104.9" y="210" font-size="13.3" fill="#111" stroke="#111" stroke-width="0.27">solid:</text>
<text x="104.9" y="225.4" font-size="13.3" fill="#111" stroke="#111" stroke-width="0.27">extinction</text>
<rect x="397" y="347.5" width="80" height="56.5" fill="#fff"/>
<text transform="translate(399,364) scale(1.022,1)" font-size="14.65" fill="#111" stroke="#111" stroke-width="0.27">Arnby et al.</text>
<text transform="translate(399,382) scale(1.022,1)" font-size="14.65" fill="#111" stroke="#111" stroke-width="0.27">2004</text>
<text transform="translate(399,400) scale(1.022,1)" font-size="14.65" fill="#111" stroke="#111" stroke-width="0.27">0.1% CO</text>
<text x="90.5" y="435.2" font-size="19.3" text-anchor="middle" fill="#111" stroke="#111" stroke-width="0.27">360</text>
<text x="169.5" y="435.2" font-size="19.3" text-anchor="middle" fill="#111" stroke="#111" stroke-width="0.27">384</text>
<text x="248.5" y="435.2" font-size="19.3" text-anchor="middle" fill="#111" stroke="#111" stroke-width="0.27">408</text>
<text x="327.5" y="435.2" font-size="19.3" text-anchor="middle" fill="#111" stroke="#111" stroke-width="0.27">432</text>
<text x="406.5" y="435.2" font-size="19.3" text-anchor="middle" fill="#111" stroke="#111" stroke-width="0.27">456</text>
<text x="485.5" y="435.2" font-size="19.3" text-anchor="middle" fill="#111" stroke="#111" stroke-width="0.27">480</text>
<text x="80.1" y="410.5" font-size="19.3" text-anchor="end" fill="#111" stroke="#111" stroke-width="0.27">0</text>
<text x="80.1" y="332.22" font-size="19.3" text-anchor="end" fill="#111" stroke="#111" stroke-width="0.27">20</text>
<text x="80.1" y="253.94" font-size="19.3" text-anchor="end" fill="#111" stroke="#111" stroke-width="0.27">40</text>
<text x="80.1" y="175.66" font-size="19.3" text-anchor="end" fill="#111" stroke="#111" stroke-width="0.27">60</text>
<text x="80.1" y="97.38" font-size="19.3" text-anchor="end" fill="#111" stroke="#111" stroke-width="0.27">80</text>
<text x="80.1" y="19.1" font-size="19.3" text-anchor="end" fill="#111" stroke="#111" stroke-width="0.27">100</text>
<text transform="translate(288.4,469.4) scale(1.045,1)" font-size="19.3" text-anchor="middle" fill="#111" stroke="#111" stroke-width="0.27">Temperature [K]</text>
<text transform="translate(43.2,211.3) rotate(-90)" font-size="19.7" text-anchor="middle" fill="#111" stroke="#111" stroke-width="0.27">Percentage CO Conversion [%]</text>
<text x="3.6" y="453.6" font-size="18.5" font-weight="bold" fill="#111" stroke="#111" stroke-width="0.27">(a)</text>
</g>
<g id="panelB">
<line x1="653.16" y1="14.5" x2="653.16" y2="405.9" stroke="#555" stroke-width="1.2" stroke-dasharray="1.9 2.47"/>
<line x1="653.16" y1="14.5" x2="653.16" y2="22.5" stroke="#7a7a7a" stroke-width="1.1"/>
<line x1="653.16" y1="405.9" x2="653.16" y2="397.9" stroke="#7a7a7a" stroke-width="1.1"/>
<line x1="740.87" y1="14.5" x2="740.87" y2="405.9" stroke="#555" stroke-width="1.2" stroke-dasharray="1.9 2.47"/>
<line x1="740.87" y1="14.5" x2="740.87" y2="22.5" stroke="#7a7a7a" stroke-width="1.1"/>
<line x1="740.87" y1="405.9" x2="740.87" y2="397.9" stroke="#7a7a7a" stroke-width="1.1"/>
<line x1="828.58" y1="14.5" x2="828.58" y2="405.9" stroke="#555" stroke-width="1.2" stroke-dasharray="1.9 2.47"/>
<line x1="828.58" y1="14.5" x2="828.58" y2="22.5" stroke="#7a7a7a" stroke-width="1.1"/>
<line x1="828.58" y1="405.9" x2="828.58" y2="397.9" stroke="#7a7a7a" stroke-width="1.1"/>
<line x1="916.29" y1="14.5" x2="916.29" y2="405.9" stroke="#555" stroke-width="1.2" stroke-dasharray="1.9 2.47"/>
<line x1="916.29" y1="14.5" x2="916.29" y2="22.5" stroke="#7a7a7a" stroke-width="1.1"/>
<line x1="916.29" y1="405.9" x2="916.29" y2="397.9" stroke="#7a7a7a" stroke-width="1.1"/>
<line x1="609.3" y1="327.62" x2="1004" y2="327.62" stroke="#555" stroke-width="1.2" stroke-dasharray="1.9 2.47"/>
<line x1="609.3" y1="327.62" x2="617.3" y2="327.62" stroke="#7a7a7a" stroke-width="1.1"/>
<line x1="1004" y1="327.62" x2="996" y2="327.62" stroke="#7a7a7a" stroke-width="1.1"/>
<line x1="609.3" y1="249.34" x2="1004" y2="249.34" stroke="#555" stroke-width="1.2" stroke-dasharray="1.9 2.47"/>
<line x1="609.3" y1="249.34" x2="617.3" y2="249.34" stroke="#7a7a7a" stroke-width="1.1"/>
<line x1="1004" y1="249.34" x2="996" y2="249.34" stroke="#7a7a7a" stroke-width="1.1"/>
<line x1="609.3" y1="171.06" x2="1004" y2="171.06" stroke="#555" stroke-width="1.2" stroke-dasharray="1.9 2.47"/>
<line x1="609.3" y1="171.06" x2="617.3" y2="171.06" stroke="#7a7a7a" stroke-width="1.1"/>
<line x1="1004" y1="171.06" x2="996" y2="171.06" stroke="#7a7a7a" stroke-width="1.1"/>
<line x1="609.3" y1="92.78" x2="1004" y2="92.78" stroke="#555" stroke-width="1.2" stroke-dasharray="1.9 2.47"/>
<line x1="609.3" y1="92.78" x2="617.3" y2="92.78" stroke="#7a7a7a" stroke-width="1.1"/>
<line x1="1004" y1="92.78" x2="996" y2="92.78" stroke="#7a7a7a" stroke-width="1.1"/>
<rect x="609.3" y="14.5" width="394.7" height="391.4" fill="none" stroke="#7a7a7a" stroke-width="1.3"/>
<clipPath id="clipB"><rect x="601.3" y="4.5" width="412.7" height="403.4"/></clipPath>
<g clip-path="url(#clipB)">
<path d="M609.0 405.4L611.8 405.4L613.3 405.4L615.1 405.4L617.1 405.4L619.0 405.4L621.0 405.4L623.0 405.4L625.1 405.4L627.1 405.4L629.1 405.4L631.1 405.4L633.1 405.4L635.1 405.4L637.0 405.3L639.0 405.3L641.0 405.3L643.0 405.3L645.0 405.3L647.0 405.3L649.0 405.2L651.0 405.2L653.0 405.2L655.0 405.2L657.0 405.2L659.0 405.1L661.0 405.1L662.9 405.1L664.9 405.0L666.9 404.9L668.9 404.8L670.9 404.6L672.9 404.4L674.9 404.1L676.8 403.8L678.8 403.5L680.8 403.1L682.7 402.6L684.6 402.1L686.5 401.5L688.3 400.7L690.1 399.8L691.7 398.7L693.3 397.5L694.8 396.2L696.2 394.8L697.4 393.3L698.6 391.7L699.7 390.0L700.7 388.3L701.7 386.6L702.5 384.7L703.3 382.9L704.0 381.0L704.7 379.2L705.3 377.3L705.8 375.3L706.3 373.4L706.8 371.5L707.3 369.5L707.8 367.6L708.2 365.6L708.6 363.7L709.0 361.7L709.4 359.8L709.8 357.8L710.1 355.8L710.4 353.9L710.7 351.9L711.0 349.9L711.3 347.9L711.5 346.0L711.8 344.0L712.0 342.0L712.3 340.0L712.6 338.0L712.8 336.1L713.1 334.1L713.3 332.1L713.6 330.1L713.8 328.1L714.0 326.1L714.2 324.2L714.4 322.2L714.6 320.2L714.8 318.2L715.0 316.2L715.2 314.2L715.4 312.2L715.6 310.2L715.8 308.3L716.0 306.3L716.2 304.3L716.4 302.3L716.6 300.3L716.7 298.3L716.9 296.3L717.1 294.3L717.3 292.3L717.5 290.4L717.6 288.4L717.8 286.4L718.0 284.4L718.2 282.4L718.4 280.4L718.6 278.4L718.8 276.4L719.0 274.5L719.2 272.5L719.4 270.5L719.6 268.5L719.8 266.5L720.0 264.5L720.2 262.5L720.4 260.5L720.6 258.6L720.8 256.6L721.0 254.6L721.2 252.6L721.4 250.6L721.5 248.6L721.8 246.6L722.0 244.6L722.2 242.7L722.4 240.7L722.6 238.7L722.8 236.7L723.0 234.7L723.2 232.7L723.5 230.7L723.7 228.8L723.9 226.8L724.1 224.8L724.3 222.8L724.5 220.8L724.7 218.8L724.9 216.8L725.1 214.9L725.3 212.9L725.5 210.9L725.7 208.9L725.9 206.9L726.2 204.9L726.4 202.9L726.7 201.0L726.9 199.0L727.2 197.0L727.4 195.0L727.7 193.0L728.0 191.1L728.2 189.1L728.5 187.1L728.7 185.1L729.0 183.1L729.2 181.2L729.4 179.2L729.7 177.2L729.9 175.2L730.1 173.2L730.4 171.2L730.6 169.3L730.8 167.3L731.0 165.3L731.3 163.3L731.5 161.3L731.7 159.3L731.9 157.3L732.1 155.4L732.4 153.4L732.6 151.4L732.8 149.4L733.0 147.4L733.2 145.4L733.4 143.4L733.6 141.5L733.8 139.5L734.1 137.5L734.3 135.5L734.5 133.5L734.7 131.5L734.9 129.5L735.1 127.6L735.3 125.6L735.5 123.6L735.7 121.6L735.9 119.6L736.1 117.6L736.3 115.6L736.5 113.6L736.7 111.7L736.8 109.7L737.0 107.7L737.2 105.7L737.5 103.7L737.7 101.7L737.9 99.7L738.1 97.7L738.3 95.8L738.5 93.8L738.7 91.8L738.9 89.8L739.2 87.8L739.4 85.8L739.6 83.9L739.8 81.9L740.1 79.9L740.3 77.9L740.6 75.9L740.8 73.9L741.1 72.0L741.3 70.0L741.6 68.0L741.9 66.0L742.2 64.0L742.5 62.1L742.8 60.1L743.1 58.1L743.4 56.1L743.7 54.2L744.0 52.2L744.4 50.2L744.8 48.3L745.1 46.3L745.6 44.4L746.0 42.4L746.4 40.5L746.9 38.5L747.5 36.6L748.1 34.7L748.8 32.8L749.5 31.0L750.4 29.2L751.3 27.4L752.4 25.8L753.6 24.2L754.9 22.7L756.3 21.4L757.9 20.3L759.6 19.4L761.4 18.6L763.3 17.9L765.2 17.4L767.2 17.0L769.1 16.6L771.1 16.4L773.1 16.1L775.1 15.9L777.1 15.7L779.1 15.5L781.0 15.4L783.0 15.3L785.0 15.1L787.0 15.0L789.0 14.9L791.0 14.9L793.0 14.8L795.0 14.7L797.0 14.6L799.0 14.6L801.0 14.5L803.0 14.5L805.0 14.5L807.0 14.5L809.0 14.5L811.0 14.5L813.0 14.5L815.0 14.5L817.0 14.5L819.0 14.5L821.0 14.5L823.0 14.5L825.0 14.5L827.0 14.5L829.0 14.5L831.0 14.5L832.9 14.5L834.9 14.5L836.9 14.5L838.9 14.5L840.9 14.5L842.9 14.5L844.9 14.5L846.9 14.5L848.9 14.5L850.9 14.5L852.9 14.5L854.9 14.5L856.9 14.5L858.9 14.5L860.9 14.5L862.9 14.5L864.9 14.5L866.9 14.5L868.9 14.5L870.9 14.5L872.9 14.5L874.9 14.5L876.9 14.5L878.9 14.5L880.9 14.5L882.9 14.5L884.9 14.5L886.9 14.5L888.9 14.5L890.9 14.5L892.9 14.5L894.9 14.5L896.9 14.5L898.9 14.5L900.9 14.5L902.9 14.5L904.8 14.5L906.8 14.5L908.8 14.5L910.8 14.5L912.8 14.5L914.8 14.5L916.8 14.5L918.8 14.5L920.8 14.5L922.8 14.5L924.8 14.5L926.8 14.5L928.8 14.5L930.8 14.5L932.8 14.5L934.8 14.5L936.8 14.5L938.8 14.5L940.8 14.5L942.8 14.5L944.8 14.5L946.8 14.5L948.8 14.5L950.8 14.5L952.7 14.5L954.7 14.5L956.4 14.5L958.0 14.5L960.8 14.5" fill="none" stroke="#000" stroke-width="3.0"/>
<path d="M609.3 406.3L612.1 406.3L613.6 406.3L615.4 406.3L617.3 406.3L619.3 406.3L621.3 406.3L623.3 406.3L625.3 406.3L627.3 406.3L629.3 406.3L631.3 406.3L633.3 406.3L635.3 406.3L637.3 406.3L639.3 406.3L641.3 406.3L643.3 406.3L645.4 406.3L647.4 406.3L649.4 406.3L651.4 406.3L653.4 406.3L655.4 406.3L657.4 406.3L659.4 406.3L661.4 406.3L663.3 406.3L665.3 406.3L667.3 406.3L669.3 406.3L671.3 406.3L673.3 406.3L675.3 406.3L677.3 406.3L679.3 406.3L681.3 406.3L683.3 406.3L685.3 406.3L687.3 406.3L689.3 406.3L691.3 406.3L693.3 406.3L695.3 406.3L697.3 406.3L699.3 406.3L701.3 406.3L703.3 406.3L705.3 406.3L707.3 406.3L709.3 406.3L711.3 406.3L713.3 406.3L715.3 406.3L717.3 406.3L719.3 406.3L721.3 406.3L723.3 406.3L725.3 406.3L727.2 406.3L729.2 406.3L731.2 406.3L733.2 406.3L735.2 406.3L737.2 406.3L739.2 406.3L741.2 406.3L743.2 406.3L745.2 406.2L747.2 406.2L749.2 406.1L751.2 405.9L753.2 405.8L755.2 405.6L757.2 405.5L759.1 405.3L761.1 405.2L763.1 405.0L765.1 404.9L767.1 404.7L769.1 404.5L771.1 404.3L773.1 404.0L775.0 403.7L777.0 403.3L778.9 402.9L780.9 402.4L782.8 402.0L784.8 401.5L786.7 401.0L788.6 400.5L790.6 399.9L792.5 399.3L794.3 398.6L796.2 397.9L798.0 397.1L799.9 396.3L801.7 395.5L803.5 394.6L805.3 393.7L807.0 392.7L808.6 391.6L810.0 390.3L811.3 388.9L812.5 387.3L813.6 385.6L814.6 383.9L815.5 382.1L816.4 380.3L817.2 378.5L818.0 376.7L818.8 374.8L819.5 373.0L820.3 371.1L821.0 369.2L821.7 367.4L822.4 365.5L823.0 363.6L823.7 361.7L824.3 359.8L824.9 357.9L825.4 356.0L825.9 354.1L826.3 352.1L826.8 350.2L827.1 348.2L827.5 346.2L827.9 344.3L828.2 342.3L828.5 340.3L828.8 338.3L829.1 336.4L829.4 334.4L829.7 332.4L829.9 330.4L830.2 328.4L830.5 326.5L830.7 324.5L830.9 322.5L831.2 320.5L831.4 318.5L831.6 316.5L831.8 314.5L832.0 312.6L832.3 310.6L832.5 308.6L832.7 306.6L832.8 304.6L833.0 302.6L833.2 300.6L833.4 298.6L833.6 296.6L833.8 294.7L833.9 292.7L834.1 290.7L834.3 288.7L834.5 286.7L834.6 284.7L834.8 282.7L835.0 280.7L835.1 278.7L835.3 276.7L835.4 274.7L835.6 272.7L835.7 270.8L835.9 268.8L836.0 266.8L836.2 264.8L836.3 262.8L836.4 260.8L836.6 258.8L836.7 256.8L836.8 254.8L837.0 252.8L837.1 250.8L837.3 248.8L837.4 246.8L837.6 244.8L837.7 242.8L837.9 240.9L838.0 238.9L838.2 236.9L838.3 234.9L838.4 232.9L838.5 230.9L838.6 228.9L838.7 226.9L838.8 224.9L838.8 222.9L838.9 220.9L839.0 218.9L839.0 216.9L839.1 214.9L839.1 212.9L839.2 210.9L839.3 208.9L839.3 206.9L839.4 204.9L839.4 202.9L839.5 200.9L839.5 198.9L839.6 196.9L839.7 194.9L839.7 192.9L839.8 190.9L839.8 188.9L839.9 186.9L839.9 184.9L840.0 182.9L840.1 180.9L840.1 178.9L840.2 177.0L840.2 175.0L840.3 173.0L840.3 171.0L840.4 169.0L840.4 167.0L840.5 165.0L840.5 163.0L840.6 161.0L840.6 159.0L840.7 157.0L840.7 155.0L840.8 153.0L840.8 151.0L840.9 149.0L840.9 147.0L841.0 145.0L841.0 143.0L841.1 141.0L841.1 139.0L841.2 137.0L841.2 135.0L841.3 133.0L841.3 131.0L841.4 129.0L841.4 127.0L841.5 125.0L841.5 123.0L841.6 121.0L841.6 119.0L841.7 117.0L841.7 115.0L841.8 113.0L841.8 111.0L841.9 109.0L841.9 107.0L842.0 105.0L842.0 103.0L842.1 101.0L842.1 99.0L842.2 97.0L842.2 95.0L842.3 93.0L842.3 91.0L842.4 89.0L842.4 87.1L842.5 85.1L842.5 83.1L842.5 81.1L842.6 79.1L842.6 77.1L842.7 75.1L842.7 73.1L842.8 71.1L842.8 69.1L842.9 67.1L842.9 65.1L843.0 63.1L843.0 61.1L843.1 59.1L843.1 57.1L843.2 55.1L843.3 53.1L843.3 51.1L843.4 49.1L843.5 47.1L843.6 45.1L843.7 43.1L843.8 41.1L843.9 39.1L844.0 37.1L844.2 35.1L844.4 33.1L844.6 31.1L844.9 29.1L845.2 27.1L845.7 25.2L846.2 23.3L847.0 21.5L847.9 19.9L849.1 18.4L850.5 17.2L852.2 16.3L853.9 15.6L855.8 15.2L857.8 14.9L859.8 14.7L861.8 14.6L863.8 14.5L865.8 14.5L867.8 14.5L869.8 14.5L871.8 14.5L873.8 14.5L875.8 14.5L877.8 14.5L879.8 14.5L881.8 14.5L883.8 14.5L885.8 14.5L887.8 14.5L889.8 14.5L891.8 14.5L893.8 14.5L895.8 14.5L897.8 14.5L899.8 14.5L901.8 14.5L903.8 14.5L905.8 14.5L907.8 14.5L909.8 14.5L911.8 14.5L913.8 14.5L915.8 14.5L917.8 14.5L919.8 14.5L921.8 14.5L923.8 14.5L925.8 14.5L927.8 14.5L929.8 14.5L931.8 14.5L933.8 14.5L935.8 14.5L937.8 14.5L939.8 14.5L941.8 14.5L943.8 14.5L945.8 14.5L947.8 14.5L949.8 14.5L951.8 14.5L953.7 14.5L955.6 14.5L957.3 14.5L958.6 14.5L960.8 14.5" fill="none" stroke="#000" stroke-width="3.0"/>
<path d="M609.3 406.3L612.1 406.3L613.6 406.3L615.4 406.3L617.4 406.3L619.3 406.3L621.3 406.3L623.3 406.3L625.4 406.3L627.4 406.3L629.4 406.3L631.4 406.3L633.4 406.3L635.4 406.3L637.4 406.3L639.4 406.3L641.4 406.3L643.4 406.3L645.4 406.3L647.4 406.3L649.4 406.3L651.3 406.3L653.3 406.3L655.3 406.3L657.3 406.3L659.3 406.3L661.3 406.3L663.3 406.3L665.3 406.3L667.3 406.3L669.3 406.3L671.3 406.3L673.3 406.3L675.3 406.3L677.3 406.3L679.3 406.2L681.2 406.1L683.2 405.9L685.2 405.8L687.2 405.6L689.2 405.4L691.2 405.3L693.3 405.2L695.3 405.1L697.3 405.0L699.3 404.9L701.3 404.7L703.2 404.6L705.2 404.3L707.1 403.9L708.9 403.3L710.7 402.5L712.5 401.6L714.2 400.5L715.8 399.3L717.3 398.0L718.7 396.6L720.0 395.2L721.3 393.6L722.4 392.0L723.4 390.3L724.4 388.5L725.4 386.8L726.2 385.0L727.1 383.1L727.9 381.3L728.6 379.5L729.4 377.6L730.0 375.7L730.6 373.8L731.2 371.9L731.8 370.0L732.3 368.1L732.7 366.1L733.2 364.2L733.6 362.2L734.0 360.3L734.4 358.3L734.8 356.3L735.2 354.4L735.6 352.4L735.9 350.4L736.3 348.5L736.6 346.5L736.9 344.5L737.3 342.6L737.6 340.6L737.9 338.6L738.2 336.6L738.4 334.6L738.7 332.7L739.0 330.7L739.3 328.7L739.5 326.7L739.8 324.7L740.0 322.8L740.3 320.8L740.5 318.8L740.8 316.8L741.0 314.8L741.2 312.8L741.5 310.8L741.7 308.9L741.9 306.9L742.1 304.9L742.4 302.9L742.6 300.9L742.8 298.9L743.0 296.9L743.2 295.0L743.5 293.0L743.7 291.0L743.9 289.0L744.1 287.0L744.3 285.0L744.6 283.0L744.8 281.1L745.0 279.1L745.2 277.1L745.5 275.1L745.7 273.1L745.9 271.1L746.1 269.1L746.3 267.1L746.5 265.2L746.7 263.2L746.9 261.2L747.1 259.2L747.3 257.2L747.5 255.2L747.7 253.2L747.9 251.2L748.1 249.2L748.3 247.3L748.6 245.3L748.8 243.3L749.0 241.3L749.2 239.3L749.4 237.3L749.7 235.3L749.9 233.4L750.1 231.4L750.4 229.4L750.6 227.4L750.9 225.4L751.1 223.4L751.4 221.5L751.6 219.5L751.9 217.5L752.1 215.5L752.4 213.5L752.6 211.5L752.8 209.6L753.1 207.6L753.3 205.6L753.6 203.6L753.8 201.6L754.0 199.6L754.3 197.6L754.5 195.7L754.7 193.7L755.0 191.7L755.2 189.7L755.4 187.7L755.7 185.7L755.9 183.7L756.1 181.8L756.4 179.8L756.6 177.8L756.8 175.8L757.1 173.8L757.3 171.8L757.5 169.8L757.7 167.9L758.0 165.9L758.2 163.9L758.4 161.9L758.7 159.9L758.9 157.9L759.1 156.0L759.4 154.0L759.6 152.0L759.9 150.0L760.1 148.0L760.4 146.0L760.6 144.1L760.9 142.1L761.1 140.1L761.4 138.1L761.6 136.1L761.9 134.1L762.1 132.2L762.4 130.2L762.6 128.2L762.8 126.2L763.1 124.2L763.3 122.2L763.5 120.2L763.8 118.3L764.0 116.3L764.3 114.3L764.6 112.3L764.9 110.3L765.2 108.4L765.5 106.4L765.9 104.4L766.2 102.5L766.6 100.5L767.0 98.5L767.4 96.6L767.8 94.6L768.2 92.7L768.6 90.7L769.0 88.7L769.4 86.8L769.8 84.8L770.2 82.9L770.7 80.9L771.1 79.0L771.5 77.0L772.0 75.1L772.5 73.1L772.9 71.2L773.4 69.3L773.9 67.3L774.4 65.4L774.9 63.5L775.5 61.5L776.0 59.6L776.6 57.7L777.1 55.8L777.7 53.8L778.3 51.9L778.9 50.0L779.6 48.1L780.2 46.3L780.9 44.4L781.6 42.5L782.3 40.6L783.1 38.8L783.9 36.9L784.7 35.1L785.6 33.3L786.5 31.5L787.5 29.8L788.6 28.1L789.8 26.5L791.0 24.9L792.3 23.5L793.8 22.1L795.3 20.8L796.9 19.7L798.6 18.7L800.4 17.8L802.2 17.0L804.1 16.3L806.0 15.8L807.9 15.4L809.8 15.1L811.8 15.0L813.8 14.9L815.7 14.8L817.7 14.8L819.7 14.8L821.6 14.7L823.6 14.7L825.6 14.7L827.6 14.6L829.6 14.6L831.6 14.6L833.5 14.5L835.5 14.5L837.5 14.5L839.5 14.5L841.5 14.5L843.5 14.5L845.5 14.5L847.5 14.5L849.5 14.5L851.5 14.5L853.6 14.5L855.6 14.5L857.6 14.5L859.6 14.5L861.6 14.5L863.6 14.5L865.6 14.5L867.6 14.5L869.6 14.5L871.7 14.5L873.7 14.5L875.7 14.5L877.7 14.5L879.7 14.5L881.7 14.5L883.7 14.5L885.7 14.5L887.8 14.5L889.8 14.5L891.8 14.5L893.8 14.5L895.8 14.5L897.8 14.5L899.8 14.5L901.8 14.5L903.8 14.5L905.8 14.5L907.8 14.5L909.8 14.5L911.8 14.5L913.8 14.5L915.8 14.5L917.8 14.5L919.8 14.5L921.8 14.5L923.8 14.5L925.8 14.5L927.8 14.5L929.8 14.5L931.8 14.5L933.8 14.5L935.8 14.5L937.8 14.5L939.8 14.5L941.8 14.5L943.8 14.5L945.8 14.5L947.8 14.5L949.8 14.5L951.8 14.5L953.7 14.5L955.6 14.5L957.3 14.5L958.6 14.5L960.8 14.5" fill="none" stroke="#c40000" stroke-width="2.7" stroke-dasharray="10.8 6.3"/>
<path d="M609.3 406.3L612.1 406.3L613.6 406.3L615.4 406.3L617.3 406.3L619.3 406.3L621.3 406.3L623.3 406.3L625.3 406.3L627.3 406.3L629.3 406.3L631.3 406.3L633.3 406.3L635.3 406.3L637.3 406.3L639.3 406.3L641.3 406.3L643.3 406.3L645.3 406.3L647.3 406.3L649.3 406.3L651.3 406.3L653.3 406.3L655.3 406.3L657.3 406.3L659.3 406.3L661.3 406.3L663.3 406.3L665.3 406.3L667.3 406.3L669.3 406.3L671.3 406.3L673.3 406.3L675.3 406.3L677.3 406.3L679.3 406.3L681.3 406.3L683.3 406.3L685.3 406.3L687.3 406.3L689.3 406.3L691.3 406.3L693.3 406.3L695.3 406.3L697.3 406.3L699.3 406.3L701.3 406.3L703.3 406.3L705.3 406.3L707.3 406.3L709.3 406.3L711.3 406.3L713.3 406.3L715.3 406.3L717.3 406.3L719.3 406.3L721.3 406.3L723.3 406.3L725.3 406.3L727.3 406.3L729.3 406.3L731.3 406.3L733.3 406.3L735.3 406.3L737.3 406.3L739.3 406.3L741.3 406.3L743.3 406.3L745.3 406.3L747.3 406.3L749.3 406.3L751.3 406.3L753.3 406.3L755.3 406.3L757.3 406.3L759.3 406.3L761.3 406.3L763.3 406.3L765.3 406.3L767.3 406.2L769.2 406.2L771.2 406.1L773.2 406.0L775.2 405.9L777.2 405.7L779.2 405.6L781.2 405.5L783.2 405.3L785.2 405.2L787.2 405.1L789.2 404.9L791.2 404.8L793.2 404.6L795.2 404.4L797.2 404.3L799.2 404.1L801.2 403.9L803.1 403.7L805.1 403.4L807.1 403.1L809.1 402.9L811.1 402.5L813.1 402.2L815.0 401.8L817.0 401.3L818.9 400.8L820.8 400.2L822.6 399.4L824.4 398.6L826.1 397.5L827.7 396.4L829.2 395.1L830.6 393.8L832.0 392.3L833.2 390.7L834.4 389.1L835.5 387.4L836.5 385.7L837.5 384.0L838.5 382.2L839.4 380.4L840.2 378.6L841.1 376.8L841.9 375.0L842.6 373.1L843.4 371.3L844.1 369.4L844.8 367.5L845.5 365.7L846.1 363.8L846.7 361.9L847.3 360.0L847.9 358.1L848.5 356.1L849.1 354.2L849.7 352.3L850.2 350.4L850.7 348.4L851.2 346.5L851.7 344.6L852.2 342.6L852.6 340.7L853.1 338.7L853.5 336.8L853.9 334.8L854.3 332.9L854.6 330.9L855.0 328.9L855.3 326.9L855.6 325.0L855.9 323.0L856.2 321.0L856.5 319.0L856.8 317.1L857.1 315.1L857.4 313.1L857.6 311.1L857.9 309.1L858.2 307.2L858.5 305.2L858.7 303.2L859.0 301.2L859.3 299.2L859.5 297.3L859.8 295.3L860.0 293.3L860.2 291.3L860.5 289.3L860.7 287.3L860.9 285.3L861.1 283.3L861.3 281.4L861.5 279.4L861.7 277.4L861.9 275.4L862.1 273.4L862.2 271.4L862.4 269.4L862.6 267.4L862.8 265.4L862.9 263.4L863.1 261.4L863.3 259.5L863.4 257.5L863.6 255.5L863.7 253.5L863.9 251.5L864.0 249.5L864.2 247.5L864.3 245.5L864.5 243.5L864.6 241.5L864.7 239.5L864.9 237.5L865.0 235.5L865.1 233.5L865.2 231.5L865.4 229.5L865.5 227.5L865.6 225.5L865.8 223.6L865.9 221.6L866.1 219.6L866.3 217.6L866.4 215.6L866.6 213.6L866.7 211.6L866.9 209.6L867.0 207.6L867.2 205.6L867.3 203.6L867.4 201.6L867.6 199.6L867.7 197.6L867.8 195.6L867.9 193.6L868.1 191.6L868.2 189.6L868.3 187.7L868.4 185.7L868.5 183.7L868.6 181.7L868.7 179.7L868.8 177.7L868.9 175.7L869.0 173.7L869.1 171.7L869.1 169.7L869.2 167.7L869.3 165.7L869.4 163.7L869.4 161.7L869.5 159.7L869.5 157.7L869.6 155.7L869.7 153.7L869.7 151.7L869.8 149.7L869.8 147.7L869.9 145.7L869.9 143.7L869.9 141.7L870.0 139.7L870.0 137.7L870.1 135.7L870.1 133.7L870.2 131.7L870.2 129.7L870.3 127.7L870.4 125.7L870.4 123.7L870.5 121.7L870.5 119.7L870.6 117.7L870.7 115.7L870.7 113.7L870.8 111.7L870.8 109.7L870.9 107.7L871.0 105.7L871.0 103.7L871.1 101.7L871.2 99.7L871.2 97.7L871.3 95.7L871.4 93.7L871.4 91.7L871.5 89.7L871.5 87.7L871.6 85.7L871.7 83.7L871.7 81.7L871.8 79.7L871.8 77.7L871.9 75.7L872.0 73.7L872.0 71.7L872.1 69.8L872.2 67.8L872.3 65.8L872.3 63.8L872.4 61.8L872.5 59.8L872.6 57.8L872.7 55.8L872.8 53.8L872.9 51.8L873.0 49.8L873.2 47.8L873.3 45.8L873.4 43.8L873.6 41.8L873.7 39.8L873.9 37.8L874.0 35.8L874.2 33.8L874.4 31.8L874.7 29.8L875.0 27.9L875.4 25.9L875.9 24.0L876.5 22.1L877.3 20.4L878.4 18.8L879.7 17.5L881.2 16.5L883.0 15.8L884.8 15.2L886.7 14.9L888.7 14.7L890.7 14.6L892.7 14.5L894.7 14.5L896.7 14.5L898.7 14.5L900.7 14.5L902.8 14.5L904.8 14.5L906.8 14.5L908.8 14.5L910.8 14.5L912.8 14.5L914.8 14.5L916.8 14.5L918.8 14.5L920.8 14.5L922.8 14.5L924.8 14.5L926.8 14.5L928.8 14.5L930.8 14.5L932.8 14.5L934.8 14.5L936.8 14.5L938.8 14.5L940.8 14.5L942.8 14.5L944.8 14.5L946.8 14.5L948.8 14.5L950.8 14.5L952.7 14.5L954.7 14.5L956.4 14.5L958.0 14.5L960.8 14.5" fill="none" stroke="#c40000" stroke-width="2.7" stroke-dasharray="10.8 6.3"/>
<path d="M688.0 405.6L690.8 405.6L692.3 405.6L694.1 405.6L696.0 405.5L698.0 405.5L700.0 405.5L702.0 405.4L704.0 405.3L706.0 405.2L708.0 405.0L710.0 404.8L712.0 404.5L714.0 404.2L715.9 403.9L717.8 403.4L719.7 402.9L721.6 402.3L723.4 401.5L725.2 400.7L727.0 399.7L728.7 398.7L730.3 397.5L731.9 396.3L733.3 394.9L734.6 393.5L735.8 391.9L736.9 390.2L737.8 388.5L738.7 386.7L739.4 384.8L740.1 383.0L740.7 381.1L741.3 379.1L741.8 377.2L742.3 375.3L742.8 373.3L743.2 371.4L743.6 369.4L744.0 367.5L744.4 365.5L744.8 363.6L745.2 361.6L745.6 359.6L746.0 357.7L746.4 355.7L746.8 353.8L747.2 351.8L747.6 349.9L748.0 347.9L748.4 345.9L748.7 344.0L749.1 342.0L749.5 340.0L749.8 338.1L750.2 336.1L750.5 334.1L750.8 332.2L751.1 330.2L751.5 328.2L751.8 326.3L752.1 324.3L752.4 322.3L752.7 320.3L753.0 318.4L753.3 316.4L753.5 314.4L753.7 312.4L754.0 310.4L754.2 308.5L754.5 306.5L754.7 304.5L755.0 302.5L755.2 300.5L755.5 298.5L755.7 296.6L756.0 294.6L756.2 292.6L756.5 290.6L756.7 288.6L757.0 286.7L757.2 284.7L757.4 282.7L757.6 280.7L757.9 278.7L758.1 276.7L758.3 274.8L758.6 272.8L758.8 270.8L759.0 268.8L759.3 266.8L759.5 264.8L759.8 262.9L760.1 260.9L760.3 258.9L760.6 256.9L760.9 254.9L761.1 253.0L761.4 251.0L761.7 249.0L761.9 247.0L762.2 245.0L762.4 243.1L762.7 241.1L762.9 239.1L763.1 237.1L763.4 235.1L763.6 233.1L763.9 231.2L764.1 229.2L764.4 227.2L764.7 225.2L764.9 223.2L765.2 221.3L765.5 219.3L765.8 217.3L766.0 215.3L766.3 213.4L766.6 211.4L766.9 209.4L767.1 207.4L767.4 205.4L767.7 203.5L768.0 201.5L768.3 199.5L768.6 197.5L768.9 195.6L769.2 193.6L769.5 191.6L769.9 189.6L770.1 187.7L770.4 185.7L770.7 183.7L771.0 181.7L771.2 179.8L771.5 177.8L771.7 175.8L771.9 173.8L772.1 171.8L772.4 169.8L772.6 167.8L772.8 165.9L773.0 163.9L773.2 161.9L773.4 159.9L773.6 157.9L773.8 155.9L774.0 153.9L774.2 152.0L774.4 150.0L774.6 148.0L774.9 146.0L775.1 144.0L775.3 142.0L775.5 140.0L775.8 138.0L776.0 136.1L776.2 134.1L776.5 132.1L776.8 130.1L777.1 128.2L777.4 126.2L777.8 124.2L778.2 122.3L778.6 120.3L779.0 118.4L779.4 116.4L779.8 114.4L780.2 112.5L780.6 110.5L781.1 108.6L781.5 106.6L781.9 104.7L782.3 102.7L782.8 100.8L783.2 98.8L783.6 96.9L784.0 94.9L784.4 93.0L784.9 91.0L785.3 89.1L785.7 87.1L786.1 85.1L786.5 83.2L786.8 81.2L787.2 79.3L787.6 77.3L788.1 75.4L788.5 73.4L788.9 71.5L789.3 69.5L789.8 67.6L790.3 65.6L790.8 63.7L791.4 61.8L791.9 59.9L792.6 58.0L793.2 56.1L793.9 54.2L794.6 52.4L795.4 50.5L796.2 48.7L796.9 46.8L797.7 45.0L798.5 43.2L799.4 41.3L800.2 39.5L801.1 37.8L802.1 36.0L803.1 34.3L804.3 32.7L805.5 31.1L806.8 29.6L808.1 28.1L809.4 26.6L810.8 25.2L812.2 23.8L813.7 22.4L815.2 21.2L816.8 20.1L818.6 19.1L820.3 18.3L822.2 17.6L824.1 17.1L826.0 16.6L828.0 16.2L830.0 15.9L832.0 15.7L833.9 15.5L835.9 15.3L837.9 15.2L839.9 15.0L841.9 14.9L843.9 14.8L845.9 14.7L847.9 14.7L849.9 14.6L851.9 14.6L853.9 14.5L855.9 14.5L857.9 14.5L859.9 14.5L861.9 14.5L863.9 14.5L865.9 14.5L867.9 14.5L869.9 14.5L871.9 14.5L873.9 14.5L875.9 14.5L877.9 14.5L879.9 14.5L881.9 14.5L883.9 14.5L885.9 14.5L887.9 14.5L889.9 14.5L891.9 14.5L893.9 14.5L895.9 14.5L897.9 14.5L899.8 14.5L901.8 14.5L903.8 14.5L905.8 14.5L907.8 14.5L909.8 14.5L911.8 14.5L913.8 14.5L915.8 14.5L917.8 14.5L919.8 14.5L921.8 14.5L923.8 14.5L925.8 14.5L927.8 14.5L929.8 14.5L931.8 14.5L933.8 14.5L935.8 14.5L937.8 14.5L939.8 14.5L941.8 14.5L943.8 14.5L945.8 14.5L947.8 14.5L949.8 14.5L951.8 14.5L953.7 14.5L955.6 14.5L957.3 14.5L958.6 14.5L960.8 14.5" fill="none" stroke="#0000dc" stroke-width="2.9" stroke-dasharray="3.1 5.9"/>
<path d="M775.3 405.8L778.1 405.7L779.6 405.7L781.4 405.6L783.3 405.5L785.3 405.5L787.3 405.4L789.3 405.3L791.3 405.2L793.3 405.1L795.3 405.0L797.3 405.0L799.3 404.9L801.3 404.8L803.3 404.7L805.3 404.6L807.3 404.5L809.3 404.3L811.3 404.2L813.3 404.0L815.3 403.8L817.2 403.5L819.2 403.2L821.2 402.8L823.1 402.4L825.0 401.8L826.9 401.2L828.8 400.4L830.6 399.6L832.3 398.7L834.0 397.6L835.7 396.5L837.3 395.3L838.8 394.0L840.3 392.6L841.7 391.2L843.0 389.8L844.3 388.2L845.5 386.6L846.7 385.0L847.8 383.4L848.9 381.7L849.9 379.9L850.8 378.2L851.7 376.4L852.6 374.6L853.5 372.8L854.3 371.0L855.1 369.1L856.0 367.3L856.8 365.5L857.5 363.6L858.3 361.8L859.0 359.9L859.7 358.0L860.3 356.2L861.0 354.3L861.6 352.3L862.1 350.4L862.7 348.5L863.2 346.6L863.7 344.6L864.1 342.7L864.6 340.7L865.1 338.8L865.5 336.8L865.9 334.9L866.3 332.9L866.7 331.0L867.1 329.0L867.5 327.0L867.9 325.1L868.3 323.1L868.6 321.1L869.0 319.2L869.3 317.2L869.7 315.2L870.0 313.3L870.3 311.3L870.6 309.3L870.9 307.3L871.2 305.4L871.4 303.4L871.7 301.4L872.0 299.4L872.3 297.4L872.5 295.4L872.8 293.5L873.0 291.5L873.3 289.5L873.5 287.5L873.8 285.5L874.0 283.5L874.2 281.6L874.4 279.6L874.6 277.6L874.8 275.6L875.0 273.6L875.2 271.6L875.4 269.6L875.6 267.6L875.8 265.6L875.9 263.6L876.1 261.6L876.3 259.7L876.5 257.7L876.6 255.7L876.8 253.7L877.0 251.7L877.1 249.7L877.3 247.7L877.4 245.7L877.6 243.7L877.7 241.7L877.9 239.7L878.0 237.7L878.2 235.7L878.3 233.7L878.5 231.7L878.6 229.7L878.7 227.8L878.9 225.8L879.0 223.8L879.2 221.8L879.4 219.8L879.5 217.8L879.7 215.8L879.9 213.8L880.1 211.8L880.3 209.8L880.5 207.8L880.6 205.8L880.8 203.8L880.9 201.9L881.0 199.9L881.0 197.9L881.1 195.9L881.2 193.9L881.2 191.9L881.3 189.9L881.3 187.9L881.4 185.9L881.4 183.9L881.5 181.9L881.5 179.9L881.6 177.9L881.7 175.9L881.7 173.9L881.8 171.9L881.8 169.9L881.9 167.9L882.0 165.9L882.0 163.9L882.1 161.9L882.2 159.9L882.3 157.9L882.3 155.9L882.4 153.9L882.5 151.9L882.5 149.9L882.6 147.9L882.7 145.9L882.8 143.9L882.9 141.9L882.9 139.9L883.0 137.9L883.1 135.9L883.2 133.9L883.2 131.9L883.3 129.9L883.4 127.9L883.5 125.9L883.6 123.9L883.7 121.9L883.8 119.9L883.9 117.9L884.0 115.9L884.1 113.9L884.2 111.9L884.3 109.9L884.4 107.9L884.5 105.9L884.7 103.9L884.8 101.9L884.9 99.9L885.0 98.0L885.1 96.0L885.2 94.0L885.4 92.0L885.5 90.0L885.6 88.0L885.7 86.0L885.8 84.0L885.9 82.0L886.0 80.0L886.1 78.0L886.2 76.0L886.3 74.0L886.4 72.0L886.5 70.0L886.6 68.0L886.7 66.0L886.8 64.0L887.0 62.0L887.1 60.0L887.2 58.0L887.4 56.0L887.5 54.0L887.7 52.0L887.8 50.0L888.0 48.0L888.2 46.1L888.4 44.1L888.5 42.1L888.7 40.1L888.9 38.1L889.2 36.1L889.4 34.1L889.7 32.1L889.9 30.1L890.3 28.2L890.7 26.2L891.2 24.3L891.8 22.4L892.6 20.7L893.7 19.0L894.9 17.7L896.4 16.5L898.1 15.7L899.9 15.1L901.8 14.7L903.8 14.5L905.8 14.5L907.8 14.5L909.8 14.5L911.8 14.5L913.8 14.5L915.8 14.5L917.8 14.5L919.8 14.5L921.8 14.5L923.8 14.5L925.8 14.5L927.8 14.5L929.8 14.5L931.8 14.5L933.8 14.5L935.8 14.5L937.8 14.5L939.8 14.5L941.8 14.5L943.8 14.5L945.8 14.5L947.8 14.5L949.8 14.5L951.8 14.5L953.7 14.5L955.6 14.5L957.2 14.5L958.6 14.5L960.8 14.5" fill="none" stroke="#0000dc" stroke-width="2.9" stroke-dasharray="3.1 5.9"/>
<path d="M609.0 405.8L611.8 405.8L613.3 405.8L615.1 405.8L617.0 405.8L619.0 405.8L621.0 405.8L623.0 405.8L625.0 405.8L627.0 405.8L629.0 405.8L631.0 405.8L633.0 405.8L635.0 405.8L637.0 405.8L639.0 405.8L641.0 405.8L643.0 405.8L645.0 405.8L647.0 405.8L649.0 405.8L651.0 405.8L653.0 405.7L655.0 405.7L657.0 405.7L658.9 405.7L660.9 405.7L662.9 405.7L664.9 405.7L666.9 405.7L668.9 405.6L670.9 405.6L672.9 405.6L675.0 405.6L677.0 405.5L679.0 405.5L681.0 405.4L683.1 405.3L685.1 405.2L687.1 405.1L689.1 405.0L691.0 404.8L693.0 404.6L694.9 404.3L696.7 403.8L698.6 403.1L700.3 402.3L702.1 401.3L703.7 400.2L705.3 399.0L706.8 397.7L708.2 396.3L709.6 394.8L710.8 393.3L712.0 391.7L713.0 390.0L714.0 388.3L714.9 386.5L715.7 384.7L716.5 382.8L717.2 381.0L717.9 379.1L718.5 377.2L719.1 375.3L719.7 373.4L720.3 371.5L720.8 369.5L721.3 367.6L721.8 365.7L722.3 363.7L722.7 361.8L723.1 359.8L723.5 357.9L723.9 355.9L724.3 353.9L724.6 352.0L724.9 350.0L725.3 348.0L725.6 346.1L725.9 344.1L726.2 342.1L726.5 340.1L726.8 338.2L727.1 336.2L727.4 334.2L727.7 332.2L728.0 330.3L728.3 328.3L728.6 326.3L728.8 324.3L729.1 322.3L729.4 320.4L729.6 318.4L729.9 316.4L730.1 314.4L730.4 312.4L730.6 310.4L730.9 308.5L731.1 306.5L731.4 304.5L731.6 302.5L731.9 300.5L732.1 298.6L732.4 296.6L732.6 294.6L732.8 292.6L733.1 290.6L733.3 288.6L733.5 286.7L733.8 284.7L734.0 282.7L734.2 280.7L734.4 278.7L734.7 276.7L734.9 274.7L735.1 272.8L735.3 270.8L735.5 268.8L735.7 266.8L736.0 264.8L736.2 262.8L736.4 260.8L736.6 258.9L736.8 256.9L737.1 254.9L737.3 252.9L737.5 250.9L737.7 248.9L738.0 246.9L738.2 245.0L738.4 243.0L738.7 241.0L738.9 239.0L739.2 237.0L739.4 235.1L739.7 233.1L739.9 231.1L740.2 229.1L740.4 227.1L740.7 225.1L740.9 223.2L741.2 221.2L741.4 219.2L741.7 217.2L741.9 215.2L742.2 213.2L742.4 211.3L742.6 209.3L742.9 207.3L743.1 205.3L743.3 203.3L743.5 201.3L743.7 199.4L744.0 197.4L744.2 195.4L744.4 193.4L744.6 191.4L744.9 189.4L745.1 187.4L745.3 185.5L745.6 183.5L745.8 181.5L746.0 179.5L746.2 177.5L746.5 175.5L746.7 173.6L746.9 171.6L747.2 169.6L747.4 167.6L747.7 165.6L747.9 163.6L748.2 161.7L748.4 159.7L748.6 157.7L748.9 155.7L749.1 153.7L749.4 151.7L749.6 149.8L749.9 147.8L750.2 145.8L750.4 143.8L750.7 141.8L751.0 139.9L751.3 137.9L751.6 135.9L751.8 133.9L752.1 132.0L752.5 130.0L752.8 128.0L753.1 126.0L753.4 124.1L753.7 122.1L754.1 120.1L754.4 118.2L754.8 116.2L755.1 114.2L755.5 112.3L755.9 110.3L756.3 108.4L756.7 106.4L757.2 104.5L757.6 102.5L758.0 100.6L758.5 98.6L759.0 96.7L759.5 94.7L759.9 92.8L760.4 90.9L760.9 88.9L761.4 87.0L761.9 85.0L762.4 83.1L763.0 81.2L763.5 79.3L764.1 77.4L764.7 75.4L765.3 73.5L765.9 71.6L766.5 69.8L767.2 67.9L767.9 66.0L768.5 64.1L769.2 62.2L770.0 60.4L770.7 58.5L771.4 56.7L772.2 54.8L772.9 53.0L773.7 51.1L774.5 49.3L775.3 47.5L776.2 45.6L777.0 43.8L777.9 42.0L778.8 40.2L779.7 38.5L780.7 36.7L781.7 35.0L782.8 33.3L783.9 31.7L785.1 30.1L786.3 28.5L787.6 27.0L789.0 25.5L790.4 24.1L791.9 22.8L793.4 21.5L795.0 20.4L796.7 19.3L798.5 18.4L800.3 17.6L802.2 16.9L804.1 16.3L806.0 15.8L808.0 15.5L809.9 15.3L811.9 15.2L813.8 15.1L815.7 15.0L817.7 15.0L819.7 14.9L821.6 14.9L823.6 14.8L825.6 14.8L827.5 14.8L829.5 14.7L831.5 14.7L833.5 14.6L835.5 14.6L837.5 14.6L839.5 14.6L841.5 14.5L843.5 14.5L845.5 14.5L847.5 14.5L849.5 14.5L851.5 14.5L853.5 14.5L855.5 14.5L857.5 14.5L859.5 14.5L861.5 14.5L863.6 14.5L865.6 14.5L867.6 14.5L869.6 14.5L871.6 14.5L873.7 14.5L875.7 14.5L877.7 14.5L879.7 14.5L881.7 14.5L883.7 14.5L885.8 14.5L887.8 14.5L889.8 14.5L891.8 14.5L893.8 14.5L895.8 14.5L897.8 14.5L899.8 14.5L901.8 14.5L903.8 14.5L905.8 14.5L907.8 14.5L909.8 14.5L911.8 14.5L913.8 14.5L915.8 14.5L917.8 14.5L919.8 14.5L921.8 14.5L923.8 14.5L925.8 14.5L927.8 14.5L929.8 14.5L931.8 14.5L933.8 14.5L935.8 14.5L937.8 14.5L939.8 14.5L941.8 14.5L943.8 14.5L945.8 14.5L947.8 14.5L949.8 14.5L951.8 14.5L953.7 14.5L955.6 14.5L957.3 14.5L958.6 14.5L960.8 14.5" fill="none" stroke="#8cb400" stroke-width="2.75" stroke-dasharray="2.75 1.62"/>
<path d="M609.3 406.3L612.1 406.3L613.6 406.3L615.4 406.3L617.3 406.3L619.3 406.3L621.3 406.3L623.3 406.3L625.3 406.3L627.3 406.3L629.3 406.3L631.3 406.3L633.3 406.3L635.3 406.3L637.3 406.3L639.3 406.3L641.3 406.3L643.3 406.3L645.3 406.3L647.3 406.3L649.3 406.3L651.3 406.3L653.3 406.3L655.3 406.3L657.3 406.3L659.3 406.3L661.3 406.3L663.3 406.3L665.3 406.3L667.3 406.3L669.3 406.3L671.3 406.3L673.3 406.3L675.3 406.3L677.3 406.3L679.3 406.3L681.3 406.3L683.3 406.3L685.3 406.3L687.3 406.3L689.3 406.3L691.3 406.3L693.3 406.3L695.3 406.3L697.3 406.3L699.3 406.3L701.3 406.3L703.3 406.3L705.3 406.3L707.2 406.3L709.2 406.3L711.2 406.3L713.2 406.3L715.2 406.3L717.2 406.3L719.2 406.3L721.2 406.3L723.2 406.3L725.2 406.3L727.2 406.3L729.2 406.3L731.2 406.3L733.2 406.3L735.2 406.3L737.2 406.3L739.2 406.3L741.2 406.3L743.2 406.3L745.2 406.3L747.2 406.2L749.2 406.1L751.2 406.0L753.2 405.9L755.2 405.8L757.2 405.7L759.2 405.6L761.2 405.4L763.2 405.3L765.2 405.2L767.2 405.1L769.2 404.9L771.2 404.8L773.2 404.6L775.2 404.5L777.2 404.4L779.2 404.2L781.2 404.0L783.2 403.8L785.2 403.6L787.2 403.4L789.1 403.2L791.1 403.0L793.1 402.7L795.0 402.4L797.0 402.0L799.0 401.6L800.9 401.1L802.9 400.5L804.7 399.8L806.5 399.0L808.2 398.1L809.8 397.0L811.2 395.7L812.5 394.3L813.8 392.7L814.9 391.1L816.0 389.4L817.0 387.6L817.9 385.9L818.8 384.1L819.7 382.3L820.5 380.4L821.4 378.6L822.2 376.8L823.0 375.0L823.8 373.1L824.5 371.3L825.3 369.4L826.0 367.6L826.7 365.7L827.4 363.8L828.1 361.9L828.7 360.0L829.3 358.1L829.9 356.2L830.5 354.3L831.1 352.4L831.6 350.5L832.1 348.6L832.6 346.6L833.1 344.7L833.6 342.7L834.1 340.8L834.5 338.8L835.0 336.9L835.4 334.9L835.8 333.0L836.2 331.0L836.6 329.1L837.0 327.1L837.4 325.2L837.8 323.2L838.2 321.2L838.5 319.3L838.9 317.3L839.3 315.3L839.6 313.4L840.0 311.4L840.3 309.4L840.6 307.5L841.0 305.5L841.3 303.5L841.6 301.6L841.9 299.6L842.2 297.6L842.5 295.6L842.8 293.6L843.1 291.7L843.3 289.7L843.6 287.7L843.8 285.7L844.1 283.7L844.4 281.8L844.6 279.8L844.9 277.8L845.1 275.8L845.4 273.8L845.6 271.8L845.8 269.9L846.1 267.9L846.3 265.9L846.6 263.9L846.8 261.9L847.0 259.9L847.3 258.0L847.5 256.0L847.7 254.0L847.9 252.0L848.2 250.0L848.4 248.0L848.6 246.0L848.8 244.1L849.0 242.1L849.2 240.1L849.5 238.1L849.7 236.1L849.9 234.1L850.1 232.1L850.3 230.1L850.5 228.2L850.7 226.2L850.8 224.2L851.0 222.2L851.1 220.2L851.3 218.2L851.4 216.2L851.5 214.2L851.6 212.2L851.8 210.2L851.9 208.2L852.0 206.2L852.1 204.2L852.2 202.2L852.3 200.2L852.4 198.2L852.5 196.3L852.6 194.3L852.7 192.3L852.9 190.3L853.0 188.3L853.1 186.3L853.2 184.3L853.3 182.3L853.4 180.3L853.6 178.3L853.7 176.3L853.9 174.3L854.1 172.3L854.3 170.3L854.5 168.3L854.7 166.4L854.9 164.4L855.1 162.4L855.3 160.4L855.5 158.4L855.7 156.4L855.8 154.4L856.0 152.4L856.2 150.4L856.3 148.5L856.5 146.5L856.6 144.5L856.7 142.5L856.9 140.5L857.0 138.5L857.1 136.5L857.3 134.5L857.4 132.5L857.6 130.5L857.7 128.5L857.9 126.5L858.0 124.5L858.2 122.5L858.4 120.6L858.5 118.6L858.7 116.6L858.9 114.6L859.1 112.6L859.3 110.6L859.5 108.6L859.6 106.6L859.8 104.6L860.0 102.6L860.2 100.7L860.4 98.7L860.6 96.7L860.8 94.7L861.0 92.7L861.2 90.7L861.4 88.7L861.6 86.7L861.8 84.7L862.0 82.8L862.3 80.8L862.5 78.8L862.7 76.8L863.0 74.8L863.2 72.8L863.5 70.9L863.7 68.9L864.0 66.9L864.3 64.9L864.5 62.9L864.8 60.9L865.1 59.0L865.3 57.0L865.6 55.0L866.0 53.1L866.3 51.1L866.7 49.1L867.2 47.2L867.7 45.2L868.2 43.3L868.7 41.4L869.2 39.5L869.8 37.5L870.4 35.6L871.0 33.7L871.7 31.8L872.4 30.0L873.1 28.1L873.9 26.3L874.8 24.5L875.8 22.8L877.0 21.2L878.3 19.8L879.7 18.5L881.4 17.5L883.1 16.7L885.0 16.0L886.9 15.5L888.8 15.1L890.8 14.8L892.8 14.7L894.8 14.5L896.8 14.5L898.8 14.5L900.8 14.5L902.8 14.5L904.8 14.5L906.8 14.5L908.8 14.5L910.8 14.5L912.8 14.5L914.8 14.5L916.8 14.5L918.8 14.5L920.8 14.5L922.8 14.5L924.8 14.5L926.8 14.5L928.8 14.5L930.8 14.5L932.8 14.5L934.8 14.5L936.8 14.5L938.8 14.5L940.8 14.5L942.8 14.5L944.8 14.5L946.8 14.5L948.8 14.5L950.8 14.5L952.7 14.5L954.7 14.5L956.4 14.5L958.0 14.5L960.8 14.5" fill="none" stroke="#8cb400" stroke-width="2.75" stroke-dasharray="2.75 1.62"/>
<rect x="806.2" y="395.2" width="10.8" height="10.8" fill="none" stroke="#c40000" stroke-opacity="0.75" stroke-width="0.9"/>
<rect x="810.9" y="395.1" width="10.8" height="10.8" fill="none" stroke="#c40000" stroke-opacity="0.75" stroke-width="0.9"/>
<rect x="815.6" y="395.0" width="10.8" height="10.8" fill="none" stroke="#c40000" stroke-opacity="0.75" stroke-width="0.9"/>
<rect x="820.3" y="394.9" width="10.8" height="10.8" fill="none" stroke="#c40000" stroke-opacity="0.75" stroke-width="0.9"/>
<rect x="824.6" y="394.8" width="10.8" height="10.8" fill="none" stroke="#c40000" stroke-opacity="0.75" stroke-width="0.9"/>
<rect x="826.5" y="394.8" width="10.8" height="10.8" fill="none" stroke="#c40000" stroke-opacity="0.75" stroke-width="0.9"/>
<rect x="832.6" y="392.8" width="10.8" height="10.8" fill="none" stroke="#c40000" stroke-opacity="0.75" stroke-width="0.9"/>
<rect x="839.0" y="391.7" width="10.8" height="10.8" fill="none" stroke="#c40000" stroke-opacity="0.75" stroke-width="0.9"/>
<rect x="845.1" y="389.7" width="10.8" height="10.8" fill="none" stroke="#c40000" stroke-opacity="0.75" stroke-width="0.9"/>
<rect x="851.1" y="387.7" width="10.8" height="10.8" fill="none" stroke="#c40000" stroke-opacity="0.75" stroke-width="0.9"/>
<rect x="857.1" y="385.7" width="10.8" height="10.8" fill="none" stroke="#c40000" stroke-opacity="0.75" stroke-width="0.9"/>
<rect x="862.6" y="383.0" width="10.8" height="10.8" fill="none" stroke="#c40000" stroke-opacity="0.75" stroke-width="0.9"/>
<rect x="868.0" y="380.3" width="10.8" height="10.8" fill="none" stroke="#c40000" stroke-opacity="0.75" stroke-width="0.9"/>
<rect x="873.1" y="377.3" width="10.8" height="10.8" fill="none" stroke="#c40000" stroke-opacity="0.75" stroke-width="0.9"/>
<rect x="878.0" y="374.0" width="10.8" height="10.8" fill="none" stroke="#c40000" stroke-opacity="0.75" stroke-width="0.9"/>
<rect x="882.7" y="370.8" width="10.8" height="10.8" fill="none" stroke="#c40000" stroke-opacity="0.75" stroke-width="0.9"/>
<rect x="887.1" y="367.3" width="10.8" height="10.8" fill="none" stroke="#c40000" stroke-opacity="0.75" stroke-width="0.9"/>
<rect x="891.0" y="363.6" width="10.8" height="10.8" fill="none" stroke="#c40000" stroke-opacity="0.75" stroke-width="0.9"/>
<rect x="894.8" y="359.8" width="10.8" height="10.8" fill="none" stroke="#c40000" stroke-opacity="0.75" stroke-width="0.9"/>
<rect x="898.5" y="356.1" width="10.8" height="10.8" fill="none" stroke="#c40000" stroke-opacity="0.75" stroke-width="0.9"/>
<rect x="902.0" y="352.5" width="10.8" height="10.8" fill="none" stroke="#c40000" stroke-opacity="0.75" stroke-width="0.9"/>
<rect x="905.2" y="348.7" width="10.8" height="10.8" fill="none" stroke="#c40000" stroke-opacity="0.75" stroke-width="0.9"/>
<rect x="908.0" y="344.8" width="10.8" height="10.8" fill="none" stroke="#c40000" stroke-opacity="0.75" stroke-width="0.9"/>
<rect x="910.6" y="340.9" width="10.8" height="10.8" fill="none" stroke="#c40000" stroke-opacity="0.75" stroke-width="0.9"/>
<rect x="913.2" y="337.1" width="10.8" height="10.8" fill="none" stroke="#c40000" stroke-opacity="0.75" stroke-width="0.9"/>
<rect x="915.5" y="333.4" width="10.8" height="10.8" fill="none" stroke="#c40000" stroke-opacity="0.75" stroke-width="0.9"/>
<rect x="917.4" y="329.5" width="10.8" height="10.8" fill="none" stroke="#c40000" stroke-opacity="0.75" stroke-width="0.9"/>
<rect x="919.1" y="325.8" width="10.8" height="10.8" fill="none" stroke="#c40000" stroke-opacity="0.75" stroke-width="0.9"/>
<rect x="920.7" y="322.1" width="10.8" height="10.8" fill="none" stroke="#c40000" stroke-opacity="0.75" stroke-width="0.9"/>
<rect x="922.0" y="318.4" width="10.8" height="10.8" fill="none" stroke="#c40000" stroke-opacity="0.75" stroke-width="0.9"/>
<rect x="923.1" y="314.8" width="10.8" height="10.8" fill="none" stroke="#c40000" stroke-opacity="0.75" stroke-width="0.9"/>
<rect x="924.0" y="311.2" width="10.8" height="10.8" fill="none" stroke="#c40000" stroke-opacity="0.75" stroke-width="0.9"/>
<rect x="924.8" y="307.8" width="10.8" height="10.8" fill="none" stroke="#c40000" stroke-opacity="0.75" stroke-width="0.9"/>
<rect x="925.5" y="304.4" width="10.8" height="10.8" fill="none" stroke="#c40000" stroke-opacity="0.75" stroke-width="0.9"/>
<rect x="926.0" y="301.2" width="10.8" height="10.8" fill="none" stroke="#c40000" stroke-opacity="0.75" stroke-width="0.9"/>
<rect x="926.4" y="298.0" width="10.8" height="10.8" fill="none" stroke="#c40000" stroke-opacity="0.75" stroke-width="0.9"/>
<rect x="926.8" y="294.9" width="10.8" height="10.8" fill="none" stroke="#c40000" stroke-opacity="0.75" stroke-width="0.9"/>
<rect x="927.1" y="292.0" width="10.8" height="10.8" fill="none" stroke="#c40000" stroke-opacity="0.75" stroke-width="0.9"/>
<rect x="927.3" y="289.8" width="10.8" height="10.8" fill="none" stroke="#c40000" stroke-opacity="0.75" stroke-width="0.9"/>
<rect x="927.9" y="254.5" width="10.8" height="10.8" fill="none" stroke="#c40000" stroke-opacity="0.75" stroke-width="0.9"/>
<rect x="929.4" y="180.3" width="10.8" height="10.8" fill="none" stroke="#c40000" stroke-opacity="0.75" stroke-width="0.9"/>
<rect x="929.4" y="77.4" width="10.8" height="10.8" fill="none" stroke="#c40000" stroke-opacity="0.75" stroke-width="0.9"/>
<rect x="930.8" y="43.1" width="10.8" height="10.8" fill="none" stroke="#c40000" stroke-opacity="0.75" stroke-width="0.9"/>
<rect x="931.5" y="33.7" width="10.8" height="10.8" fill="none" stroke="#c40000" stroke-opacity="0.75" stroke-width="0.9"/>
<rect x="932.1" y="26.4" width="10.8" height="10.8" fill="none" stroke="#c40000" stroke-opacity="0.75" stroke-width="0.9"/>
<rect x="932.9" y="21.2" width="10.8" height="10.8" fill="none" stroke="#c40000" stroke-opacity="0.75" stroke-width="0.9"/>
<rect x="934.2" y="16.0" width="10.8" height="10.8" fill="none" stroke="#c40000" stroke-opacity="0.75" stroke-width="0.9"/>
<rect x="935.6" y="12.5" width="10.8" height="10.8" fill="none" stroke="#c40000" stroke-opacity="0.75" stroke-width="0.9"/>
<rect x="938.7" y="9.8" width="10.8" height="10.8" fill="none" stroke="#c40000" stroke-opacity="0.75" stroke-width="0.9"/>
<rect x="949.1" y="9.2" width="10.8" height="10.8" fill="none" stroke="#c40000" stroke-opacity="0.75" stroke-width="0.9"/>
<circle cx="836.0" cy="390.9" r="4.9" fill="#fff" stroke="#222" stroke-width="0.9"/>
<circle cx="841.9" cy="388.9" r="4.9" fill="#fff" stroke="#222" stroke-width="0.9"/>
<circle cx="848.0" cy="387.9" r="4.9" fill="#fff" stroke="#222" stroke-width="0.9"/>
<circle cx="853.8" cy="386.0" r="4.9" fill="#fff" stroke="#222" stroke-width="0.9"/>
<circle cx="859.2" cy="383.5" r="4.9" fill="#fff" stroke="#222" stroke-width="0.9"/>
<circle cx="864.6" cy="380.9" r="4.9" fill="#fff" stroke="#222" stroke-width="0.9"/>
<circle cx="869.5" cy="377.8" r="4.9" fill="#fff" stroke="#222" stroke-width="0.9"/>
<circle cx="873.7" cy="374.0" r="4.9" fill="#fff" stroke="#222" stroke-width="0.9"/>
<circle cx="877.6" cy="370.0" r="4.9" fill="#fff" stroke="#222" stroke-width="0.9"/>
<circle cx="881.5" cy="366.2" r="4.9" fill="#fff" stroke="#222" stroke-width="0.9"/>
<circle cx="884.9" cy="362.1" r="4.9" fill="#fff" stroke="#222" stroke-width="0.9"/>
<circle cx="887.9" cy="357.9" r="4.9" fill="#fff" stroke="#222" stroke-width="0.9"/>
<circle cx="890.6" cy="353.7" r="4.9" fill="#fff" stroke="#222" stroke-width="0.9"/>
<circle cx="893.1" cy="349.5" r="4.9" fill="#fff" stroke="#222" stroke-width="0.9"/>
<circle cx="895.3" cy="345.2" r="4.9" fill="#fff" stroke="#222" stroke-width="0.9"/>
<circle cx="897.3" cy="341.1" r="4.9" fill="#fff" stroke="#222" stroke-width="0.9"/>
<circle cx="899.3" cy="337.1" r="4.9" fill="#fff" stroke="#222" stroke-width="0.9"/>
<circle cx="901.1" cy="333.2" r="4.9" fill="#fff" stroke="#222" stroke-width="0.9"/>
<circle cx="902.7" cy="329.3" r="4.9" fill="#fff" stroke="#222" stroke-width="0.9"/>
<circle cx="904.2" cy="325.6" r="4.9" fill="#fff" stroke="#222" stroke-width="0.9"/>
<circle cx="905.6" cy="321.9" r="4.9" fill="#fff" stroke="#222" stroke-width="0.9"/>
<circle cx="907.0" cy="318.4" r="4.9" fill="#fff" stroke="#222" stroke-width="0.9"/>
<circle cx="908.4" cy="315.1" r="4.9" fill="#fff" stroke="#222" stroke-width="0.9"/>
<circle cx="909.5" cy="311.8" r="4.9" fill="#fff" stroke="#222" stroke-width="0.9"/>
<circle cx="910.6" cy="308.6" r="4.9" fill="#fff" stroke="#222" stroke-width="0.9"/>
<circle cx="911.6" cy="305.5" r="4.9" fill="#fff" stroke="#222" stroke-width="0.9"/>
<circle cx="912.5" cy="302.5" r="4.9" fill="#fff" stroke="#222" stroke-width="0.9"/>
<circle cx="915.4" cy="280.1" r="4.9" fill="#fff" stroke="#222" stroke-width="0.9"/>
<circle cx="918.1" cy="179.9" r="4.9" fill="#fff" stroke="#222" stroke-width="0.9"/>
<circle cx="920.9" cy="92.1" r="4.9" fill="#fff" stroke="#222" stroke-width="0.9"/>
<circle cx="922.3" cy="66.5" r="4.9" fill="#fff" stroke="#222" stroke-width="0.9"/>
<circle cx="923.3" cy="48.5" r="4.9" fill="#fff" stroke="#222" stroke-width="0.9"/>
<circle cx="923.8" cy="42.2" r="4.9" fill="#fff" stroke="#222" stroke-width="0.9"/>
<circle cx="924.4" cy="36.0" r="4.9" fill="#fff" stroke="#222" stroke-width="0.9"/>
<circle cx="924.6" cy="30.8" r="4.9" fill="#fff" stroke="#222" stroke-width="0.9"/>
<circle cx="925.0" cy="25.6" r="4.9" fill="#fff" stroke="#222" stroke-width="0.9"/>
<circle cx="925.4" cy="21.4" r="4.9" fill="#fff" stroke="#222" stroke-width="0.9"/>
<circle cx="926.5" cy="18.3" r="4.9" fill="#fff" stroke="#222" stroke-width="0.9"/>
<circle cx="927.9" cy="15.8" r="4.9" fill="#fff" stroke="#222" stroke-width="0.9"/>
<circle cx="930.6" cy="14.2" r="4.9" fill="#fff" stroke="#222" stroke-width="0.9"/>
<circle cx="945.2" cy="14.2" r="4.9" fill="#fff" stroke="#222" stroke-width="0.9"/>
<path d="M871.0 379.4L877.6 372.8L884.2 379.4L877.6 386.0Z" fill="none" stroke="#0000dc" stroke-opacity="0.9" stroke-width="1"/>
<path d="M874.7 376.7L881.3 370.1L887.9 376.7L881.3 383.3Z" fill="none" stroke="#0000dc" stroke-opacity="0.9" stroke-width="1"/>
<path d="M878.0 373.5L884.6 366.9L891.2 373.5L884.6 380.1Z" fill="none" stroke="#0000dc" stroke-opacity="0.9" stroke-width="1"/>
<path d="M881.2 370.3L887.8 363.7L894.4 370.3L887.8 376.9Z" fill="none" stroke="#0000dc" stroke-opacity="0.9" stroke-width="1"/>
<path d="M884.3 367.0L890.9 360.4L897.5 367.0L890.9 373.6Z" fill="none" stroke="#0000dc" stroke-opacity="0.9" stroke-width="1"/>
<path d="M887.1 363.5L893.7 356.9L900.3 363.5L893.7 370.1Z" fill="none" stroke="#0000dc" stroke-opacity="0.9" stroke-width="1"/>
<path d="M889.9 360.1L896.5 353.5L903.1 360.1L896.5 366.7Z" fill="none" stroke="#0000dc" stroke-opacity="0.9" stroke-width="1"/>
<path d="M892.5 356.6L899.1 350.0L905.7 356.6L899.1 363.2Z" fill="none" stroke="#0000dc" stroke-opacity="0.9" stroke-width="1"/>
<path d="M894.9 353.1L901.5 346.5L908.1 353.1L901.5 359.7Z" fill="none" stroke="#0000dc" stroke-opacity="0.9" stroke-width="1"/>
<path d="M897.2 349.5L903.8 342.9L910.4 349.5L903.8 356.1Z" fill="none" stroke="#0000dc" stroke-opacity="0.9" stroke-width="1"/>
<path d="M899.5 346.1L906.1 339.5L912.7 346.1L906.1 352.7Z" fill="none" stroke="#0000dc" stroke-opacity="0.9" stroke-width="1"/>
<path d="M901.5 342.5L908.1 335.9L914.7 342.5L908.1 349.1Z" fill="none" stroke="#0000dc" stroke-opacity="0.9" stroke-width="1"/>
<path d="M903.2 338.9L909.8 332.3L916.4 338.9L909.8 345.5Z" fill="none" stroke="#0000dc" stroke-opacity="0.9" stroke-width="1"/>
<path d="M905.0 335.4L911.6 328.8L918.2 335.4L911.6 342.0Z" fill="none" stroke="#0000dc" stroke-opacity="0.9" stroke-width="1"/>
<path d="M906.7 331.9L913.3 325.3L919.9 331.9L913.3 338.5Z" fill="none" stroke="#0000dc" stroke-opacity="0.9" stroke-width="1"/>
<path d="M908.2 328.5L914.8 321.9L921.4 328.5L914.8 335.1Z" fill="none" stroke="#0000dc" stroke-opacity="0.9" stroke-width="1"/>
<path d="M909.6 325.0L916.2 318.4L922.8 325.0L916.2 331.6Z" fill="none" stroke="#0000dc" stroke-opacity="0.9" stroke-width="1"/>
<path d="M910.8 321.6L917.4 315.0L924.0 321.6L917.4 328.2Z" fill="none" stroke="#0000dc" stroke-opacity="0.9" stroke-width="1"/>
<path d="M911.9 318.2L918.5 311.6L925.1 318.2L918.5 324.8Z" fill="none" stroke="#0000dc" stroke-opacity="0.9" stroke-width="1"/>
<path d="M913.0 314.9L919.6 308.3L926.2 314.9L919.6 321.5Z" fill="none" stroke="#0000dc" stroke-opacity="0.9" stroke-width="1"/>
<path d="M914.0 311.7L920.6 305.1L927.2 311.7L920.6 318.3Z" fill="none" stroke="#0000dc" stroke-opacity="0.9" stroke-width="1"/>
<path d="M915.2 308.6L921.8 302.0L928.4 308.6L921.8 315.2Z" fill="none" stroke="#0000dc" stroke-opacity="0.9" stroke-width="1"/>
<path d="M915.9 305.5L922.5 298.9L929.1 305.5L922.5 312.1Z" fill="none" stroke="#0000dc" stroke-opacity="0.9" stroke-width="1"/>
<path d="M916.5 302.4L923.1 295.8L929.7 302.4L923.1 309.0Z" fill="none" stroke="#0000dc" stroke-opacity="0.9" stroke-width="1"/>
<path d="M916.7 299.3L923.3 292.7L929.9 299.3L923.3 305.9Z" fill="none" stroke="#0000dc" stroke-opacity="0.9" stroke-width="1"/>
<path d="M916.7 296.4L923.3 289.8L929.9 296.4L923.3 303.0Z" fill="none" stroke="#0000dc" stroke-opacity="0.9" stroke-width="1"/>
<path d="M916.5 293.4L923.1 286.8L929.7 293.4L923.1 300.0Z" fill="none" stroke="#0000dc" stroke-opacity="0.9" stroke-width="1"/>
<path d="M917.8 256.8L924.4 250.2L931.0 256.8L924.4 263.4Z" fill="none" stroke="#0000dc" stroke-opacity="0.9" stroke-width="1"/>
<path d="M918.8 216.2L925.4 209.6L932.0 216.2L925.4 222.8Z" fill="none" stroke="#0000dc" stroke-opacity="0.9" stroke-width="1"/>
<path d="M920.5 107.1L927.1 100.5L933.7 107.1L927.1 113.7Z" fill="none" stroke="#0000dc" stroke-opacity="0.9" stroke-width="1"/>
<path d="M921.3 72.4L927.9 65.8L934.5 72.4L927.9 79.0Z" fill="none" stroke="#0000dc" stroke-opacity="0.9" stroke-width="1"/>
<path d="M922.6 52.6L929.2 46.0L935.8 52.6L929.2 59.2Z" fill="none" stroke="#0000dc" stroke-opacity="0.9" stroke-width="1"/>
<path d="M924.0 36.0L930.6 29.4L937.2 36.0L930.6 42.6Z" fill="none" stroke="#0000dc" stroke-opacity="0.9" stroke-width="1"/>
<path d="M924.6 29.8L931.2 23.2L937.8 29.8L931.2 36.4Z" fill="none" stroke="#0000dc" stroke-opacity="0.9" stroke-width="1"/>
<path d="M925.5 25.0L932.1 18.4L938.7 25.0L932.1 31.6Z" fill="none" stroke="#0000dc" stroke-opacity="0.9" stroke-width="1"/>
<path d="M926.7 21.4L933.3 14.8L939.9 21.4L933.3 28.0Z" fill="none" stroke="#0000dc" stroke-opacity="0.9" stroke-width="1"/>
<path d="M928.2 18.3L934.8 11.7L941.4 18.3L934.8 24.9Z" fill="none" stroke="#0000dc" stroke-opacity="0.9" stroke-width="1"/>
<path d="M930.3 15.8L936.9 9.2L943.5 15.8L936.9 22.4Z" fill="none" stroke="#0000dc" stroke-opacity="0.9" stroke-width="1"/>
<path d="M933.4 14.2L940.0 7.6L946.6 14.2L940.0 20.8Z" fill="none" stroke="#0000dc" stroke-opacity="0.9" stroke-width="1"/>
<circle cx="761.8" cy="402.3" r="5.5"/>
<circle cx="767.0" cy="399.2" r="5.5"/>
<circle cx="767.4" cy="395.0" r="5.5"/>
<circle cx="768.0" cy="367.4" r="5.5"/>
<circle cx="768.5" cy="352.4" r="5.5"/>
<circle cx="769.1" cy="314.0" r="5.5"/>
<circle cx="769.1" cy="259.9" r="5.5"/>
<circle cx="769.1" cy="224.6" r="5.5"/>
<circle cx="770.1" cy="198.1" r="5.5"/>
<circle cx="770.7" cy="181.5" r="5.5"/>
<circle cx="771.2" cy="164.3" r="5.5"/>
<circle cx="771.8" cy="139.3" r="5.5"/>
<circle cx="772.2" cy="126.4" r="5.5"/>
<circle cx="772.6" cy="113.3" r="5.5"/>
<circle cx="773.2" cy="99.8" r="5.5"/>
<circle cx="774.3" cy="87.3" r="5.5"/>
<circle cx="775.3" cy="77.6" r="5.5"/>
<circle cx="775.3" cy="77.6" r="5.5"/>
<circle cx="775.7" cy="73.0" r="5.5"/>
<circle cx="776.2" cy="68.5" r="5.5"/>
<circle cx="776.8" cy="64.0" r="5.5"/>
<circle cx="777.7" cy="59.6" r="5.5"/>
<circle cx="778.6" cy="55.2" r="5.5"/>
<circle cx="779.7" cy="50.7" r="5.5"/>
<circle cx="780.7" cy="46.3" r="5.5"/>
<circle cx="781.7" cy="41.9" r="5.5"/>
<circle cx="782.8" cy="37.5" r="5.5"/>
<circle cx="784.2" cy="33.2" r="5.5"/>
<circle cx="786.0" cy="29.0" r="5.5"/>
<circle cx="788.5" cy="25.2" r="5.5"/>
<circle cx="791.5" cy="21.8" r="5.5"/>
<circle cx="795.0" cy="19.0" r="5.5"/>
<circle cx="799.1" cy="17.0" r="5.5"/>
<circle cx="803.5" cy="15.8" r="5.5"/>
<circle cx="807.9" cy="14.9" r="5.5"/>
<circle cx="812.4" cy="14.4" r="5.5"/>
<circle cx="816.9" cy="14.2" r="5.5"/>
<circle cx="821.5" cy="14.2" r="5.5"/>
<rect x="796.1" y="394.9" width="11.2" height="11.2" fill="#c40000"/>
<rect x="801.9" y="397.7" width="11.2" height="11.2" fill="#c40000"/>
<rect x="802.4" y="391.5" width="11.2" height="11.2" fill="#c40000"/>
<rect x="802.6" y="385.3" width="11.2" height="11.2" fill="#c40000"/>
<rect x="803.0" y="377.0" width="11.2" height="11.2" fill="#c40000"/>
<rect x="803.4" y="359.3" width="11.2" height="11.2" fill="#c40000"/>
<rect x="803.4" y="282.4" width="11.2" height="11.2" fill="#c40000"/>
<rect x="803.4" y="224.2" width="11.2" height="11.2" fill="#c40000"/>
<rect x="804.2" y="168.6" width="11.2" height="11.2" fill="#c40000"/>
<rect x="804.1" y="127.4" width="11.2" height="11.2" fill="#c40000"/>
<rect x="804.2" y="125.4" width="11.2" height="11.2" fill="#c40000"/>
<rect x="804.3" y="123.4" width="11.2" height="11.2" fill="#c40000"/>
<rect x="804.4" y="121.4" width="11.2" height="11.2" fill="#c40000"/>
<rect x="804.6" y="119.4" width="11.2" height="11.2" fill="#c40000"/>
<rect x="804.7" y="117.5" width="11.2" height="11.2" fill="#c40000"/>
<rect x="804.8" y="115.5" width="11.2" height="11.2" fill="#c40000"/>
<rect x="804.9" y="113.5" width="11.2" height="11.2" fill="#c40000"/>
<rect x="805.0" y="111.5" width="11.2" height="11.2" fill="#c40000"/>
<rect x="805.1" y="109.5" width="11.2" height="11.2" fill="#c40000"/>
<rect x="805.2" y="107.5" width="11.2" height="11.2" fill="#c40000"/>
<rect x="805.4" y="105.5" width="11.2" height="11.2" fill="#c40000"/>
<rect x="805.5" y="103.5" width="11.2" height="11.2" fill="#c40000"/>
<rect x="805.7" y="101.5" width="11.2" height="11.2" fill="#c40000"/>
<rect x="805.8" y="99.6" width="11.2" height="11.2" fill="#c40000"/>
<rect x="806.0" y="97.6" width="11.2" height="11.2" fill="#c40000"/>
<rect x="806.2" y="95.6" width="11.2" height="11.2" fill="#c40000"/>
<rect x="806.4" y="93.6" width="11.2" height="11.2" fill="#c40000"/>
<rect x="806.6" y="91.6" width="11.2" height="11.2" fill="#c40000"/>
<rect x="806.8" y="89.6" width="11.2" height="11.2" fill="#c40000"/>
<rect x="807.1" y="87.7" width="11.2" height="11.2" fill="#c40000"/>
<rect x="807.3" y="85.7" width="11.2" height="11.2" fill="#c40000"/>
<rect x="807.5" y="83.7" width="11.2" height="11.2" fill="#c40000"/>
<rect x="807.7" y="81.7" width="11.2" height="11.2" fill="#c40000"/>
<rect x="807.9" y="79.7" width="11.2" height="11.2" fill="#c40000"/>
<rect x="808.1" y="77.8" width="11.2" height="11.2" fill="#c40000"/>
<rect x="808.2" y="75.8" width="11.2" height="11.2" fill="#c40000"/>
<rect x="808.4" y="73.8" width="11.2" height="11.2" fill="#c40000"/>
<rect x="808.6" y="71.8" width="11.2" height="11.2" fill="#c40000"/>
<rect x="808.8" y="69.8" width="11.2" height="11.2" fill="#c40000"/>
<rect x="809.0" y="67.8" width="11.2" height="11.2" fill="#c40000"/>
<rect x="809.3" y="65.9" width="11.2" height="11.2" fill="#c40000"/>
<rect x="809.5" y="63.9" width="11.2" height="11.2" fill="#c40000"/>
<rect x="809.8" y="61.9" width="11.2" height="11.2" fill="#c40000"/>
<rect x="810.1" y="59.9" width="11.2" height="11.2" fill="#c40000"/>
<rect x="810.4" y="58.0" width="11.2" height="11.2" fill="#c40000"/>
<rect x="810.8" y="56.0" width="11.2" height="11.2" fill="#c40000"/>
<rect x="811.1" y="54.0" width="11.2" height="11.2" fill="#c40000"/>
<rect x="811.5" y="52.1" width="11.2" height="11.2" fill="#c40000"/>
<rect x="811.8" y="50.1" width="11.2" height="11.2" fill="#c40000"/>
<rect x="812.2" y="48.2" width="11.2" height="11.2" fill="#c40000"/>
<rect x="812.6" y="46.2" width="11.2" height="11.2" fill="#c40000"/>
<rect x="813.0" y="44.3" width="11.2" height="11.2" fill="#c40000"/>
<rect x="813.4" y="42.3" width="11.2" height="11.2" fill="#c40000"/>
<rect x="813.9" y="40.4" width="11.2" height="11.2" fill="#c40000"/>
<rect x="814.4" y="38.4" width="11.2" height="11.2" fill="#c40000"/>
<rect x="814.9" y="36.5" width="11.2" height="11.2" fill="#c40000"/>
<rect x="815.4" y="34.6" width="11.2" height="11.2" fill="#c40000"/>
<rect x="816.1" y="32.7" width="11.2" height="11.2" fill="#c40000"/>
<rect x="816.7" y="30.8" width="11.2" height="11.2" fill="#c40000"/>
<rect x="817.5" y="28.9" width="11.2" height="11.2" fill="#c40000"/>
<rect x="818.2" y="27.1" width="11.2" height="11.2" fill="#c40000"/>
<rect x="819.1" y="25.3" width="11.2" height="11.2" fill="#c40000"/>
<rect x="820.0" y="23.6" width="11.2" height="11.2" fill="#c40000"/>
<rect x="821.0" y="21.8" width="11.2" height="11.2" fill="#c40000"/>
<rect x="822.2" y="20.1" width="11.2" height="11.2" fill="#c40000"/>
<rect x="823.4" y="18.5" width="11.2" height="11.2" fill="#c40000"/>
<rect x="824.7" y="17.0" width="11.2" height="11.2" fill="#c40000"/>
<rect x="826.1" y="15.7" width="11.2" height="11.2" fill="#c40000"/>
<rect x="827.6" y="14.3" width="11.2" height="11.2" fill="#c40000"/>
<rect x="829.2" y="13.1" width="11.2" height="11.2" fill="#c40000"/>
<rect x="830.9" y="12.0" width="11.2" height="11.2" fill="#c40000"/>
<rect x="832.7" y="11.1" width="11.2" height="11.2" fill="#c40000"/>
<rect x="834.5" y="10.6" width="11.2" height="11.2" fill="#c40000"/>
<rect x="836.5" y="10.1" width="11.2" height="11.2" fill="#c40000"/>
<rect x="838.5" y="9.7" width="11.2" height="11.2" fill="#c40000"/>
<rect x="840.5" y="9.4" width="11.2" height="11.2" fill="#c40000"/>
<rect x="842.4" y="9.3" width="11.2" height="11.2" fill="#c40000"/>
<rect x="844.4" y="9.2" width="11.2" height="11.2" fill="#c40000"/>
<rect x="846.4" y="9.1" width="11.2" height="11.2" fill="#c40000"/>
<rect x="848.4" y="9.0" width="11.2" height="11.2" fill="#c40000"/>
<rect x="850.4" y="8.9" width="11.2" height="11.2" fill="#c40000"/>
<rect x="852.4" y="8.9" width="11.2" height="11.2" fill="#c40000"/>
<rect x="854.4" y="8.9" width="11.2" height="11.2" fill="#c40000"/>
<path d="M811.4 398.1L818.4 391.1L825.4 398.1L818.4 405.1Z" fill="#0000dc"/>
<path d="M812.7 396.0L819.7 389.0L826.7 396.0L819.7 403.0Z" fill="#0000dc"/>
<path d="M813.9 393.9L820.9 386.9L827.9 393.9L820.9 400.9Z" fill="#0000dc"/>
<path d="M815.1 391.7L822.1 384.7L829.1 391.7L822.1 398.7Z" fill="#0000dc"/>
<path d="M816.2 389.5L823.2 382.5L830.2 389.5L823.2 396.5Z" fill="#0000dc"/>
<path d="M817.3 387.3L824.3 380.3L831.3 387.3L824.3 394.3Z" fill="#0000dc"/>
<path d="M818.4 385.0L825.4 378.0L832.4 385.0L825.4 392.0Z" fill="#0000dc"/>
<path d="M819.3 382.8L826.3 375.8L833.3 382.8L826.3 389.8Z" fill="#0000dc"/>
<path d="M820.3 380.5L827.3 373.5L834.3 380.5L827.3 387.5Z" fill="#0000dc"/>
<path d="M820.7 365.9L827.7 358.9L834.7 365.9L827.7 372.9Z" fill="#0000dc"/>
<path d="M821.1 320.2L828.1 313.2L835.1 320.2L828.1 327.2Z" fill="#0000dc"/>
<path d="M821.1 302.9L828.1 295.9L835.1 302.9L828.1 309.9Z" fill="#0000dc"/>
<path d="M821.8 285.3L828.8 278.3L835.8 285.3L828.8 292.3Z" fill="#0000dc"/>
<path d="M821.8 234.9L828.8 227.9L835.8 234.9L828.8 241.9Z" fill="#0000dc"/>
<path d="M822.8 189.8L829.8 182.8L836.8 189.8L829.8 196.8Z" fill="#0000dc"/>
<path d="M822.8 163.8L829.8 156.8L836.8 163.8L829.8 170.8Z" fill="#0000dc"/>
<path d="M823.4 142.0L830.4 135.0L837.4 142.0L830.4 149.0Z" fill="#0000dc"/>
<path d="M823.8 134.7L830.8 127.7L837.8 134.7L830.8 141.7Z" fill="#0000dc"/>
<path d="M824.2 127.5L831.2 120.5L838.2 127.5L831.2 134.5Z" fill="#0000dc"/>
<path d="M824.5 120.2L831.5 113.2L838.5 120.2L831.5 127.2Z" fill="#0000dc"/>
<path d="M824.9 112.9L831.9 105.9L838.9 112.9L831.9 119.9Z" fill="#0000dc"/>
<path d="M824.9 105.6L831.9 98.6L838.9 105.6L831.9 112.6Z" fill="#0000dc"/>
<path d="M825.3 99.4L832.3 92.4L839.3 99.4L832.3 106.4Z" fill="#0000dc"/>
<path d="M825.5 93.2L832.5 86.2L839.5 93.2L832.5 100.2Z" fill="#0000dc"/>
<path d="M825.9 81.7L832.9 74.7L839.9 81.7L832.9 88.7Z" fill="#0000dc"/>
<path d="M826.5 72.4L833.5 65.4L840.5 72.4L833.5 79.4Z" fill="#0000dc"/>
<path d="M826.5 72.4L833.5 65.4L840.5 72.4L833.5 79.4Z" fill="#0000dc"/>
<path d="M826.8 70.0L833.8 63.0L840.8 70.0L833.8 77.0Z" fill="#0000dc"/>
<path d="M827.1 67.6L834.1 60.6L841.1 67.6L834.1 74.6Z" fill="#0000dc"/>
<path d="M827.3 65.2L834.3 58.2L841.3 65.2L834.3 72.2Z" fill="#0000dc"/>
<path d="M827.7 62.9L834.7 55.9L841.7 62.9L834.7 69.9Z" fill="#0000dc"/>
<path d="M828.0 60.5L835.0 53.5L842.0 60.5L835.0 67.5Z" fill="#0000dc"/>
<path d="M828.4 58.1L835.4 51.1L842.4 58.1L835.4 65.1Z" fill="#0000dc"/>
<path d="M828.7 55.8L835.7 48.8L842.7 55.8L835.7 62.8Z" fill="#0000dc"/>
<path d="M829.1 53.4L836.1 46.4L843.1 53.4L836.1 60.4Z" fill="#0000dc"/>
<path d="M829.5 51.1L836.5 44.1L843.5 51.1L836.5 58.1Z" fill="#0000dc"/>
<path d="M830.0 48.7L837.0 41.7L844.0 48.7L837.0 55.7Z" fill="#0000dc"/>
<path d="M830.5 46.4L837.5 39.4L844.5 46.4L837.5 53.4Z" fill="#0000dc"/>
<path d="M831.0 44.0L838.0 37.0L845.0 44.0L838.0 51.0Z" fill="#0000dc"/>
<path d="M831.5 41.7L838.5 34.7L845.5 41.7L838.5 48.7Z" fill="#0000dc"/>
<path d="M832.1 39.4L839.1 32.4L846.1 39.4L839.1 46.4Z" fill="#0000dc"/>
<path d="M832.8 37.1L839.8 30.1L846.8 37.1L839.8 44.1Z" fill="#0000dc"/>
<path d="M833.8 34.9L840.8 27.9L847.8 34.9L840.8 41.9Z" fill="#0000dc"/>
<path d="M834.8 32.7L841.8 25.7L848.8 32.7L841.8 39.7Z" fill="#0000dc"/>
<path d="M835.8 30.6L842.8 23.6L849.8 30.6L842.8 37.6Z" fill="#0000dc"/>
<path d="M837.1 28.5L844.1 21.5L851.1 28.5L844.1 35.5Z" fill="#0000dc"/>
<path d="M838.5 26.6L845.5 19.6L852.5 26.6L845.5 33.6Z" fill="#0000dc"/>
<path d="M840.1 24.9L847.1 17.9L854.1 24.9L847.1 31.9Z" fill="#0000dc"/>
<path d="M841.9 23.3L848.9 16.3L855.9 23.3L848.9 30.3Z" fill="#0000dc"/>
<path d="M843.9 21.9L850.9 14.9L857.9 21.9L850.9 28.9Z" fill="#0000dc"/>
<path d="M845.9 20.6L852.9 13.6L859.9 20.6L852.9 27.6Z" fill="#0000dc"/>
<path d="M848.1 19.6L855.1 12.6L862.1 19.6L855.1 26.6Z" fill="#0000dc"/>
<path d="M850.4 18.9L857.4 11.9L864.4 18.9L857.4 25.9Z" fill="#0000dc"/>
<path d="M852.7 18.4L859.7 11.4L866.7 18.4L859.7 25.4Z" fill="#0000dc"/>
<path d="M855.1 17.9L862.1 10.9L869.1 17.9L862.1 24.9Z" fill="#0000dc"/>
<path d="M857.4 17.4L864.4 10.4L871.4 17.4L864.4 24.4Z" fill="#0000dc"/>
<path d="M859.8 17.0L866.8 10.0L873.8 17.0L866.8 24.0Z" fill="#0000dc"/>
<path d="M862.2 16.7L869.2 9.7L876.2 16.7L869.2 23.7Z" fill="#0000dc"/>
<path d="M864.5 16.4L871.5 9.4L878.5 16.4L871.5 23.4Z" fill="#0000dc"/>
<path d="M866.9 16.1L873.9 9.1L880.9 16.1L873.9 23.1Z" fill="#0000dc"/>
<path d="M869.3 15.9L876.3 8.9L883.3 15.9L876.3 22.9Z" fill="#0000dc"/>
<path d="M871.7 15.7L878.7 8.7L885.7 15.7L878.7 22.7Z" fill="#0000dc"/>
<path d="M874.1 15.5L881.1 8.5L888.1 15.5L881.1 22.5Z" fill="#0000dc"/>
<path d="M876.5 15.4L883.5 8.4L890.5 15.4L883.5 22.4Z" fill="#0000dc"/>
<path d="M878.8 15.2L885.8 8.2L892.8 15.2L885.8 22.2Z" fill="#0000dc"/>
<path d="M881.2 15.0L888.2 8.0L895.2 15.0L888.2 22.0Z" fill="#0000dc"/>
<path d="M883.6 14.8L890.6 7.8L897.6 14.8L890.6 21.8Z" fill="#0000dc"/>
<path d="M886.0 14.7L893.0 7.7L900.0 14.7L893.0 21.7Z" fill="#0000dc"/>
<path d="M888.4 14.5L895.4 7.5L902.4 14.5L895.4 21.5Z" fill="#0000dc"/>
<path d="M890.8 14.4L897.8 7.4L904.8 14.4L897.8 21.4Z" fill="#0000dc"/>
<path d="M893.2 14.3L900.2 7.3L907.2 14.3L900.2 21.3Z" fill="#0000dc"/>
<path d="M895.6 14.2L902.6 7.2L909.6 14.2L902.6 21.2Z" fill="#0000dc"/>
</g>
<rect x="616.8" y="20.4" width="107.6" height="118.2" fill="#fff" stroke="#000" stroke-width="1.4"/>
<circle cx="644" cy="33.5" r="4.9" fill="none" stroke="#222" stroke-width="0.9"/>
<rect x="638.6" y="43.4" width="10.8" height="10.8" fill="none" stroke="#c40000" stroke-opacity="0.75" stroke-width="0.9"/>
<path d="M637.4 64.1L644 57.5L650.6 64.1L644 70.7Z" fill="none" stroke="#0000dc" stroke-opacity="0.9" stroke-width="1"/>
<line x1="624.8" y1="79.4" x2="663.6" y2="79.4" stroke="#000" stroke-width="2.4"/>
<line x1="633.3" y1="94.7" x2="662.8" y2="94.7" stroke="#c40000" stroke-width="2.1" stroke-dasharray="11.5 6"/>
<line x1="624.8" y1="110" x2="663.8" y2="110" stroke="#0000dc" stroke-width="2.5" stroke-dasharray="3.2 5.57"/>
<line x1="624.8" y1="125.3" x2="663.3" y2="125.3" stroke="#8cb400" stroke-width="2.0" stroke-dasharray="2.6 1.2"/>
<text x="668" y="38.3" font-size="12.95" fill="#111" stroke="#111" stroke-width="0.27">26%</text>
<text x="668" y="53.6" font-size="12.95" fill="#c40000" stroke="#c40000" stroke-width="0.27">41%</text>
<text x="668" y="68.9" font-size="12.95" fill="#0000dc" stroke="#0000dc" stroke-width="0.27">48%</text>
<text x="668" y="84.2" font-size="12.95" fill="#111" stroke="#111" stroke-width="0.27">26% sim</text>
<text x="668" y="99.5" font-size="12.95" fill="#c40000" stroke="#c40000" stroke-width="0.27">41% sim</text>
<text x="668" y="114.8" font-size="12.95" fill="#0000dc" stroke="#0000dc" stroke-width="0.27">48% sim</text>
<text x="668" y="130.1" font-size="12.95" fill="#8cb400" stroke="#8cb400" stroke-width="0.27">WA1</text>
<rect x="619.4" y="155.4" width="60" height="77" fill="#fff"/>
<text x="623.4" y="166.4" font-size="13.3" fill="#111" stroke="#111" stroke-width="0.27">symbols</text>
<line x1="623.1" y1="168.3" x2="672" y2="168.3" stroke="#111" stroke-width="0.8"/>
<text x="623.4" y="181.8" font-size="13.3" fill="#111" stroke="#111" stroke-width="0.27">open:</text>
<text x="623.4" y="197.2" font-size="13.3" fill="#111" stroke="#111" stroke-width="0.27">light-off</text>
<text x="623.4" y="212.6" font-size="13.3" fill="#111" stroke="#111" stroke-width="0.27">solid:</text>
<text x="623.4" y="228" font-size="13.3" fill="#111" stroke="#111" stroke-width="0.27">extinction</text>
<rect x="921.2" y="350.1" width="80" height="54.5" fill="#fff"/>
<text transform="translate(923.2,366.6) scale(1.022,1)" font-size="14.65" fill="#111" stroke="#111" stroke-width="0.27">Arnby et al.</text>
<text transform="translate(923.2,384.6) scale(1.022,1)" font-size="14.65" fill="#111" stroke="#111" stroke-width="0.27">2004</text>
<text transform="translate(923.2,402.6) scale(1.022,1)" font-size="14.65" fill="#111" stroke="#111" stroke-width="0.27">1% CO</text>
<text x="653.16" y="435.3" font-size="19.3" text-anchor="middle" fill="#111" stroke="#111" stroke-width="0.27">350</text>
<text x="740.87" y="435.3" font-size="19.3" text-anchor="middle" fill="#111" stroke="#111" stroke-width="0.27">400</text>
<text x="828.58" y="435.3" font-size="19.3" text-anchor="middle" fill="#111" stroke="#111" stroke-width="0.27">450</text>
<text x="916.29" y="435.3" font-size="19.3" text-anchor="middle" fill="#111" stroke="#111" stroke-width="0.27">500</text>
<text x="1004" y="435.3" font-size="19.3" text-anchor="middle" fill="#111" stroke="#111" stroke-width="0.27">550</text>
<text x="598.9" y="410.6" font-size="19.3" text-anchor="end" fill="#111" stroke="#111" stroke-width="0.27">0</text>
<text x="598.9" y="332.32" font-size="19.3" text-anchor="end" fill="#111" stroke="#111" stroke-width="0.27">20</text>
<text x="598.9" y="254.04" font-size="19.3" text-anchor="end" fill="#111" stroke="#111" stroke-width="0.27">40</text>
<text x="598.9" y="175.76" font-size="19.3" text-anchor="end" fill="#111" stroke="#111" stroke-width="0.27">60</text>
<text x="598.9" y="97.48" font-size="19.3" text-anchor="end" fill="#111" stroke="#111" stroke-width="0.27">80</text>
<text x="598.9" y="19.2" font-size="19.3" text-anchor="end" fill="#111" stroke="#111" stroke-width="0.27">100</text>
<text transform="translate(807.05,469.5) scale(1.045,1)" font-size="19.3" text-anchor="middle" fill="#111" stroke="#111" stroke-width="0.27">Temperature [K]</text>
<text transform="translate(562,211.4) rotate(-90)" font-size="19.7" text-anchor="middle" fill="#111" stroke="#111" stroke-width="0.27">Percentage CO Conversion [%]</text>
<text x="522.6" y="453.6" font-size="18.5" font-weight="bold" fill="#111" stroke="#111" stroke-width="0.27">(b)</text>
</g>
<g id="panelC">
<line x1="406.71" y1="498.4" x2="406.71" y2="890.4" stroke="#555" stroke-width="1.2" stroke-dasharray="1.9 2.47"/>
<line x1="406.71" y1="498.4" x2="406.71" y2="506.4" stroke="#7a7a7a" stroke-width="1.1"/>
<line x1="406.71" y1="890.4" x2="406.71" y2="882.4" stroke="#7a7a7a" stroke-width="1.1"/>
<line x1="462.93" y1="498.4" x2="462.93" y2="890.4" stroke="#555" stroke-width="1.2" stroke-dasharray="1.9 2.47"/>
<line x1="462.93" y1="498.4" x2="462.93" y2="506.4" stroke="#7a7a7a" stroke-width="1.1"/>
<line x1="462.93" y1="890.4" x2="462.93" y2="882.4" stroke="#7a7a7a" stroke-width="1.1"/>
<line x1="519.14" y1="498.4" x2="519.14" y2="890.4" stroke="#555" stroke-width="1.2" stroke-dasharray="1.9 2.47"/>
<line x1="519.14" y1="498.4" x2="519.14" y2="506.4" stroke="#7a7a7a" stroke-width="1.1"/>
<line x1="519.14" y1="890.4" x2="519.14" y2="882.4" stroke="#7a7a7a" stroke-width="1.1"/>
<line x1="575.36" y1="498.4" x2="575.36" y2="890.4" stroke="#555" stroke-width="1.2" stroke-dasharray="1.9 2.47"/>
<line x1="575.36" y1="498.4" x2="575.36" y2="506.4" stroke="#7a7a7a" stroke-width="1.1"/>
<line x1="575.36" y1="890.4" x2="575.36" y2="882.4" stroke="#7a7a7a" stroke-width="1.1"/>
<line x1="631.57" y1="498.4" x2="631.57" y2="890.4" stroke="#555" stroke-width="1.2" stroke-dasharray="1.9 2.47"/>
<line x1="631.57" y1="498.4" x2="631.57" y2="506.4" stroke="#7a7a7a" stroke-width="1.1"/>
<line x1="631.57" y1="890.4" x2="631.57" y2="882.4" stroke="#7a7a7a" stroke-width="1.1"/>
<line x1="687.79" y1="498.4" x2="687.79" y2="890.4" stroke="#555" stroke-width="1.2" stroke-dasharray="1.9 2.47"/>
<line x1="687.79" y1="498.4" x2="687.79" y2="506.4" stroke="#7a7a7a" stroke-width="1.1"/>
<line x1="687.79" y1="890.4" x2="687.79" y2="882.4" stroke="#7a7a7a" stroke-width="1.1"/>
<line x1="350.5" y1="812" x2="744" y2="812" stroke="#555" stroke-width="1.2" stroke-dasharray="1.9 2.47"/>
<line x1="350.5" y1="812" x2="358.5" y2="812" stroke="#7a7a7a" stroke-width="1.1"/>
<line x1="744" y1="812" x2="736" y2="812" stroke="#7a7a7a" stroke-width="1.1"/>
<line x1="350.5" y1="733.6" x2="744" y2="733.6" stroke="#555" stroke-width="1.2" stroke-dasharray="1.9 2.47"/>
<line x1="350.5" y1="733.6" x2="358.5" y2="733.6" stroke="#7a7a7a" stroke-width="1.1"/>
<line x1="744" y1="733.6" x2="736" y2="733.6" stroke="#7a7a7a" stroke-width="1.1"/>
<line x1="350.5" y1="655.2" x2="744" y2="655.2" stroke="#555" stroke-width="1.2" stroke-dasharray="1.9 2.47"/>
<line x1="350.5" y1="655.2" x2="358.5" y2="655.2" stroke="#7a7a7a" stroke-width="1.1"/>
<line x1="744" y1="655.2" x2="736" y2="655.2" stroke="#7a7a7a" stroke-width="1.1"/>
<line x1="350.5" y1="576.8" x2="744" y2="576.8" stroke="#555" stroke-width="1.2" stroke-dasharray="1.9 2.47"/>
<line x1="350.5" y1="576.8" x2="358.5" y2="576.8" stroke="#7a7a7a" stroke-width="1.1"/>
<line x1="744" y1="576.8" x2="736" y2="576.8" stroke="#7a7a7a" stroke-width="1.1"/>
<rect x="350.5" y="498.4" width="393.5" height="392" fill="none" stroke="#7a7a7a" stroke-width="1.3"/>
<clipPath id="clipC"><rect x="342.5" y="488.4" width="411.5" height="404"/></clipPath>
<g clip-path="url(#clipC)">
<path d="M444.6 868.6L446.2 866.4L447.1 865.1L448.2 863.7L449.3 862.1L450.4 860.5L451.5 858.8L452.5 857.1L453.6 855.4L454.6 853.7L455.7 852.0L456.7 850.3L457.7 848.6L458.6 846.8L459.6 845.0L460.5 843.3L461.4 841.5L462.2 839.7L463.0 837.8L463.8 836.0L464.6 834.2L465.3 832.3L466.0 830.4L466.6 828.5L467.3 826.6L467.9 824.7L468.5 822.8L469.1 820.9L469.7 819.0L470.2 817.1L470.8 815.2L471.3 813.3L471.9 811.3L472.4 809.4L472.8 807.5L473.3 805.5L473.8 803.6L474.2 801.6L474.6 799.7L475.1 797.7L475.5 795.8L475.9 793.8L476.3 791.9L476.8 789.9L477.2 788.0L477.6 786.0L478.1 784.1L478.5 782.1L478.9 780.2L479.4 778.2L479.8 776.3L480.2 774.3L480.7 772.4L481.1 770.4L481.5 768.5L482.0 766.5L482.4 764.6L482.8 762.6L483.3 760.7L483.7 758.7L484.1 756.7L484.6 754.8L485.0 752.8L485.4 750.9L485.9 748.9L486.3 747.0L486.7 745.0L487.2 743.1L487.6 741.1L488.0 739.2L488.5 737.2L488.9 735.3L489.3 733.3L489.8 731.4L490.2 729.4L490.6 727.5L491.1 725.5L491.5 723.6L491.9 721.6L492.4 719.7L492.8 717.7L493.2 715.8L493.7 713.8L494.1 711.9L494.5 709.9L494.9 708.0L495.3 706.0L495.7 704.1L496.1 702.1L496.5 700.2L496.9 698.2L497.3 696.2L497.7 694.3L498.0 692.3L498.4 690.3L498.7 688.4L499.1 686.4L499.4 684.4L499.7 682.5L500.1 680.5L500.4 678.5L500.7 676.5L501.1 674.6L501.4 672.6L501.7 670.6L502.1 668.7L502.4 666.7L502.8 664.7L503.2 662.8L503.5 660.8L503.9 658.8L504.2 656.9L504.6 654.9L504.9 652.9L505.3 651.0L505.6 649.0L505.9 647.0L506.2 645.1L506.6 643.1L506.9 641.1L507.2 639.1L507.5 637.2L507.8 635.2L508.1 633.2L508.4 631.2L508.7 629.3L509.0 627.3L509.3 625.3L509.6 623.3L509.9 621.4L510.2 619.4L510.5 617.4L510.8 615.4L511.1 613.5L511.4 611.5L511.7 609.5L512.0 607.5L512.3 605.6L512.6 603.6L513.0 601.6L513.3 599.7L513.6 597.7L514.0 595.7L514.3 593.7L514.7 591.8L515.0 589.8L515.4 587.8L515.7 585.9L516.1 583.9L516.5 582.0L516.8 580.0L517.2 578.0L517.6 576.1L518.0 574.1L518.4 572.1L518.8 570.2L519.2 568.2L519.6 566.3L520.0 564.3L520.5 562.4L520.9 560.4L521.4 558.5L521.9 556.6L522.4 554.6L522.9 552.7L523.5 550.8L524.0 548.9L524.6 546.9L525.2 545.0L525.8 543.1L526.4 541.2L527.1 539.3L527.7 537.5L528.4 535.6L529.2 533.7L530.0 531.9L530.8 530.1L531.6 528.3L532.5 526.5L533.5 524.8L534.5 523.0L535.6 521.4L536.8 519.8L538.0 518.2L539.3 516.7L540.7 515.2L542.1 513.8L543.5 512.4L545.0 511.1L546.6 509.9L548.1 508.6L549.8 507.5L551.4 506.5L553.2 505.5L555.0 504.7L556.8 504.0L558.7 503.3L560.6 502.6L562.5 502.0L564.4 501.4L566.4 500.9L568.3 500.5L570.3 500.0L572.2 499.7L574.2 499.4L576.2 499.1L578.2 498.9L580.1 498.8L582.1 498.6L584.1 498.5L586.1 498.4L588.1 498.4L590.1 498.4L592.1 498.4L594.1 498.4L596.1 498.4L598.1 498.4L600.1 498.4L602.1 498.4L604.1 498.4L606.1 498.4L608.1 498.4L610.1 498.4L612.1 498.4L614.1 498.4L616.1 498.4L618.1 498.4L620.1 498.4L622.1 498.4L624.1 498.4L626.1 498.4L628.1 498.4L630.1 498.4L632.1 498.4L634.1 498.4L636.1 498.4L638.1 498.4L640.1 498.4L642.1 498.4L644.1 498.4L646.1 498.4L648.1 498.4L650.1 498.4L652.1 498.4L654.1 498.4L656.1 498.4L658.1 498.4L660.1 498.4L662.1 498.4L664.1 498.4L666.1 498.4L668.0 498.4L670.0 498.4L672.0 498.4L674.0 498.4L676.0 498.4L678.0 498.4L680.0 498.4L682.0 498.4L684.0 498.4L686.0 498.4L688.0 498.4L690.0 498.4L692.0 498.4L694.0 498.4L696.0 498.4L698.0 498.4L700.0 498.4L702.0 498.4L704.0 498.4L706.0 498.4L708.0 498.4L710.0 498.4L712.0 498.4L714.0 498.4L716.0 498.4L718.0 498.4L720.0 498.4L722.0 498.4L724.0 498.4L726.0 498.4L728.0 498.4L730.0 498.4L732.0 498.4L734.0 498.4L735.9 498.4L737.9 498.4L739.6 498.4L741.2 498.4L744.0 498.4" fill="none" stroke="#000" stroke-width="3.0"/>
<path d="M350.5 890.8L353.3 890.8L354.8 890.8L356.6 890.8L358.5 890.8L360.5 890.8L362.5 890.8L364.5 890.8L366.5 890.8L368.5 890.8L370.5 890.8L372.5 890.8L374.5 890.8L376.5 890.8L378.5 890.8L380.5 890.8L382.5 890.8L384.5 890.8L386.5 890.8L388.5 890.8L390.5 890.8L392.5 890.8L394.5 890.8L396.5 890.8L398.5 890.8L400.5 890.8L402.5 890.8L404.5 890.8L406.5 890.8L408.5 890.8L410.5 890.8L412.5 890.8L414.5 890.8L416.5 890.8L418.5 890.8L420.5 890.8L422.5 890.8L424.5 890.8L426.5 890.8L428.5 890.8L430.5 890.8L432.5 890.8L434.5 890.8L436.5 890.8L438.5 890.8L440.5 890.8L442.5 890.8L444.5 890.8L446.5 890.8L448.5 890.8L450.5 890.8L452.5 890.8L454.4 890.8L456.4 890.8L458.4 890.8L460.4 890.8L462.4 890.8L464.4 890.8L466.4 890.7L468.4 890.7L470.4 890.6L472.4 890.4L474.4 890.3L476.4 890.2L478.4 890.1L480.4 890.0L482.4 889.9L484.4 889.9L486.4 889.8L488.4 889.7L490.4 889.6L492.4 889.4L494.4 889.3L496.3 889.1L498.3 888.9L500.3 888.6L502.3 888.3L504.3 888.0L506.2 887.6L508.2 887.3L510.2 886.9L512.1 886.4L514.1 886.0L516.0 885.5L517.9 884.9L519.8 884.3L521.7 883.7L523.6 883.1L525.5 882.3L527.3 881.6L529.1 880.8L530.9 879.9L532.7 878.9L534.4 877.9L536.1 876.9L537.8 875.8L539.4 874.6L541.0 873.4L542.5 872.1L544.0 870.7L545.3 869.3L546.7 867.8L547.9 866.3L549.2 864.8L550.6 863.3L552.0 861.9L553.4 860.6L554.9 859.3L556.4 857.9L557.9 856.6L559.3 855.2L560.7 853.7L562.0 852.3L563.3 850.7L564.5 849.1L565.6 847.5L566.7 845.8L567.8 844.1L568.7 842.4L569.7 840.6L570.5 838.8L571.4 837.0L572.2 835.2L573.0 833.3L573.8 831.5L574.5 829.6L575.2 827.8L575.9 825.9L576.6 824.0L577.3 822.1L577.9 820.2L578.5 818.3L579.1 816.4L579.7 814.5L580.3 812.6L580.9 810.7L581.4 808.8L582.0 806.8L582.5 804.9L583.0 803.0L583.5 801.1L584.0 799.1L584.5 797.2L585.0 795.3L585.5 793.3L586.0 791.4L586.5 789.4L586.9 787.5L587.4 785.5L587.8 783.6L588.3 781.6L588.7 779.7L589.1 777.7L589.5 775.8L589.9 773.8L590.3 771.9L590.7 769.9L591.1 767.9L591.5 766.0L591.9 764.0L592.2 762.1L592.6 760.1L593.0 758.1L593.3 756.2L593.7 754.2L594.0 752.2L594.4 750.3L594.7 748.3L595.0 746.3L595.4 744.3L595.7 742.4L596.0 740.4L596.4 738.4L596.7 736.5L597.0 734.5L597.3 732.5L597.7 730.5L598.0 728.6L598.3 726.6L598.6 724.6L598.9 722.6L599.3 720.7L599.6 718.7L599.9 716.7L600.2 714.8L600.6 712.8L600.9 710.8L601.3 708.9L601.6 706.9L602.0 704.9L602.4 703.0L602.8 701.0L603.2 699.0L603.6 697.1L604.0 695.1L604.4 693.2L604.8 691.2L605.2 689.3L605.6 687.3L606.1 685.3L606.5 683.4L606.9 681.4L607.3 679.5L607.7 677.5L608.1 675.6L608.4 673.6L608.8 671.6L609.0 669.7L609.3 667.7L609.6 665.7L609.8 663.7L610.0 661.7L610.3 659.7L610.5 657.7L610.7 655.8L610.9 653.8L611.1 651.8L611.4 649.8L611.6 647.8L611.8 645.8L612.0 643.8L612.2 641.8L612.4 639.9L612.6 637.9L612.9 635.9L613.1 633.9L613.3 631.9L613.6 629.9L613.9 628.0L614.1 626.0L614.4 624.0L614.7 622.0L615.0 620.0L615.3 618.1L615.6 616.1L615.9 614.1L616.3 612.1L616.6 610.2L616.9 608.2L617.2 606.2L617.5 604.2L617.8 602.3L618.2 600.3L618.5 598.3L618.8 596.4L619.1 594.4L619.4 592.4L619.7 590.4L620.0 588.5L620.3 586.5L620.6 584.5L620.9 582.5L621.2 580.5L621.4 578.6L621.7 576.6L622.0 574.6L622.3 572.6L622.6 570.7L622.9 568.7L623.2 566.7L623.5 564.7L623.9 562.8L624.2 560.8L624.6 558.8L624.9 556.8L625.3 554.9L625.7 552.9L626.1 551.0L626.5 549.0L627.0 547.1L627.4 545.1L628.0 543.2L628.5 541.3L629.1 539.4L629.7 537.5L630.4 535.6L631.1 533.7L631.8 531.9L632.6 530.0L633.5 528.2L634.5 526.5L635.5 524.8L636.6 523.1L637.8 521.5L639.0 520.0L640.3 518.4L641.5 516.9L642.8 515.3L644.1 513.8L645.5 512.4L646.9 511.0L648.4 509.6L649.9 508.4L651.5 507.2L653.2 506.1L654.9 505.2L656.7 504.3L658.5 503.5L660.4 502.8L662.3 502.2L664.2 501.6L666.2 501.2L668.1 500.8L670.1 500.5L672.1 500.2L674.1 500.0L676.0 499.7L678.0 499.6L680.0 499.4L682.0 499.2L684.0 499.1L686.0 499.0L688.0 498.9L690.0 498.8L692.0 498.7L694.0 498.6L696.0 498.6L698.0 498.5L700.0 498.5L702.0 498.5L704.0 498.4L706.0 498.4L708.0 498.4L710.0 498.4L712.0 498.4L714.0 498.4L716.0 498.4L718.0 498.4L720.0 498.4L722.0 498.4L724.0 498.4L726.0 498.4L728.0 498.4L730.0 498.4L732.0 498.4L734.0 498.4L735.9 498.4L737.9 498.4L739.6 498.4L741.2 498.4L744.0 498.4" fill="none" stroke="#000" stroke-width="3.0"/>
<path d="M350.5 890.8L353.6 890.8L355.3 890.8L357.2 890.8L359.3 890.8L361.5 890.8L363.7 890.8L365.8 890.8L368.0 890.8L370.1 890.8L372.2 890.8L374.3 890.8L376.4 890.8L378.5 890.8L380.6 890.8L382.7 890.8L384.7 890.8L386.8 890.8L388.8 890.8L390.8 890.8L392.9 890.8L394.9 890.8L396.9 890.8L398.9 890.8L400.9 890.8L402.8 890.8L404.8 890.8L406.8 890.8L408.7 890.8L410.7 890.8L412.6 890.8L414.5 890.8L416.5 890.8L418.4 890.8L420.3 890.8L422.2 890.8L424.1 890.8L426.0 890.8L427.9 890.8L429.7 890.8L431.6 890.8L433.5 890.8L435.3 890.8L437.2 890.8L439.0 890.8L440.9 890.8L442.7 890.7L444.5 890.5L446.3 890.2L448.1 889.6L449.9 888.8L451.6 887.8L453.3 886.7L455.0 885.6L456.6 884.4L458.2 883.2L459.9 882.1L461.5 880.9L463.2 879.9L464.9 878.8L466.6 877.8L468.4 876.8L470.1 875.8L471.8 874.7L473.4 873.6L475.1 872.5L476.7 871.4L478.3 870.2L479.9 868.9L481.5 867.7L483.0 866.4L484.5 865.0L485.9 863.6L487.3 862.2L488.7 860.8L490.0 859.3L491.3 857.8L492.6 856.2L493.8 854.7L495.0 853.1L496.2 851.5L497.4 849.8L498.5 848.2L499.5 846.5L500.6 844.8L501.6 843.1L502.6 841.3L503.6 839.6L504.5 837.8L505.5 836.0L506.4 834.3L507.3 832.5L508.2 830.7L509.0 828.9L509.9 827.1L510.7 825.3L511.6 823.5L512.4 821.6L513.2 819.8L514.0 818.0L514.8 816.1L515.6 814.3L516.4 812.5L517.1 810.6L517.9 808.8L518.6 806.9L519.4 805.1L520.1 803.2L520.8 801.3L521.6 799.5L522.3 797.6L523.1 795.8L523.9 793.9L524.7 792.1L525.5 790.3L526.2 788.4L527.0 786.6L527.6 784.7L528.2 782.8L528.8 780.9L529.3 778.9L529.8 777.0L530.2 775.1L530.7 773.1L531.2 771.2L531.7 769.3L532.2 767.3L532.8 765.4L533.4 763.5L534.0 761.6L534.6 759.7L535.3 757.8L535.9 755.9L536.5 754.0L537.2 752.1L537.8 750.2L538.4 748.3L539.0 746.4L539.6 744.5L540.2 742.6L540.7 740.6L541.2 738.7L541.8 736.8L542.3 734.8L542.9 732.9L543.4 731.0L544.0 729.1L544.7 727.2L545.3 725.3L546.1 723.5L546.9 721.7L547.8 719.9L548.6 718.1L549.4 716.3L550.1 714.5L550.7 712.6L551.1 710.7L551.5 708.8L551.9 706.8L552.2 704.8L552.5 702.8L552.9 700.8L553.2 698.8L553.6 696.9L554.0 694.9L554.4 692.9L554.9 691.0L555.5 689.1L556.0 687.2L556.6 685.3L557.2 683.4L557.9 681.5L558.5 679.6L559.1 677.7L559.7 675.8L560.3 673.8L560.9 671.9L561.5 670.0L562.1 668.1L562.7 666.2L563.3 664.3L563.9 662.4L564.5 660.5L565.1 658.6L565.7 656.7L566.3 654.8L566.9 652.9L567.5 651.0L568.1 649.1L568.7 647.1L569.3 645.2L569.9 643.3L570.4 641.4L571.0 639.5L571.6 637.6L572.2 635.7L572.8 633.8L573.4 631.9L574.0 630.0L574.6 628.1L575.3 626.2L576.0 624.3L576.7 622.4L577.4 620.6L578.1 618.7L578.8 616.8L579.5 615.0L580.2 613.1L580.9 611.2L581.5 609.3L582.2 607.4L582.8 605.5L583.5 603.6L584.1 601.7L584.7 599.8L585.3 597.9L586.0 596.0L586.6 594.2L587.3 592.3L587.9 590.4L588.6 588.5L589.3 586.6L590.0 584.7L590.7 582.9L591.4 581.0L592.1 579.1L592.8 577.3L593.5 575.4L594.3 573.6L595.0 571.7L595.8 569.9L596.6 568.0L597.4 566.2L598.2 564.4L599.0 562.5L599.9 560.7L600.7 558.9L601.7 557.2L602.6 555.4L603.5 553.6L604.5 551.9L605.5 550.2L606.6 548.4L607.6 546.7L608.7 545.1L609.8 543.4L611.0 541.8L612.2 540.3L613.6 538.8L615.0 537.4L616.4 536.1L617.9 534.7L619.5 533.4L621.0 532.1L622.5 530.8L624.0 529.5L625.5 528.2L627.0 526.9L628.5 525.6L630.0 524.2L631.5 522.9L633.0 521.6L634.5 520.3L636.1 519.0L637.7 517.8L639.3 516.7L641.0 515.6L642.7 514.5L644.4 513.5L646.1 512.5L647.8 511.4L649.6 510.5L651.3 509.6L653.1 508.7L655.0 507.9L656.8 507.2L658.7 506.6L660.6 506.0L662.5 505.4L664.5 504.9L666.4 504.4L668.4 504.0L670.3 503.5L672.3 503.1L674.2 502.7L676.2 502.4L678.2 502.1L680.1 501.8L682.1 501.5L684.1 501.3L686.1 501.1L688.1 500.9L690.1 500.7L692.1 500.5L694.1 500.4L696.1 500.2L698.1 500.1L700.0 499.9L702.0 499.8L704.0 499.7L706.0 499.5L708.0 499.4L710.0 499.3L712.0 499.2L714.0 499.1L716.0 499.0L718.0 498.9L720.0 498.8L722.0 498.8L724.0 498.7L726.0 498.6L728.0 498.6L730.0 498.5L732.0 498.4L734.0 498.4L735.9 498.4L737.9 498.4L739.6 498.4L741.2 498.4L744.0 498.4" fill="none" stroke="#c40000" stroke-width="2.7" stroke-dasharray="10.8 6.3"/>
<path d="M350.5 890.8L353.3 890.8L354.8 890.8L356.6 890.8L358.5 890.8L360.5 890.8L362.5 890.8L364.5 890.8L366.5 890.8L368.5 890.8L370.5 890.8L372.5 890.8L374.5 890.8L376.5 890.8L378.5 890.8L380.5 890.8L382.5 890.8L384.5 890.8L386.5 890.8L388.5 890.8L390.5 890.8L392.5 890.8L394.5 890.8L396.5 890.8L398.5 890.8L400.5 890.8L402.5 890.8L404.5 890.8L406.5 890.8L408.5 890.8L410.5 890.8L412.5 890.8L414.5 890.8L416.5 890.8L418.5 890.8L420.5 890.8L422.5 890.8L424.5 890.8L426.5 890.8L428.5 890.8L430.5 890.8L432.5 890.8L434.5 890.8L436.5 890.8L438.5 890.8L440.5 890.8L442.5 890.8L444.5 890.8L446.5 890.8L448.5 890.8L450.5 890.8L452.5 890.8L454.5 890.8L456.5 890.8L458.5 890.8L460.5 890.8L462.5 890.8L464.5 890.8L466.5 890.8L468.5 890.8L470.5 890.8L472.5 890.8L474.5 890.8L476.5 890.8L478.5 890.8L480.5 890.8L482.5 890.8L484.5 890.8L486.5 890.8L488.5 890.8L490.5 890.8L492.5 890.8L494.5 890.8L496.5 890.8L498.5 890.8L500.5 890.8L502.5 890.8L504.5 890.8L506.4 890.8L508.4 890.8L510.4 890.8L512.4 890.7L514.4 890.6L516.5 890.5L518.5 890.4L520.6 890.3L522.8 890.1L525.1 890.0L527.6 889.8L530.1 889.6L532.6 889.5L535.1 889.3L537.6 889.1L540.0 889.0L542.1 888.9L544.1 888.7L545.7 888.6L547.0 888.5L547.8 888.5L547.9 888.4L547.4 888.4L546.3 888.4L544.9 888.4L543.5 888.4L542.6 888.3L542.4 888.2L543.1 887.9L544.5 887.6L546.3 887.1L548.4 886.6L550.6 886.1L552.7 885.6L554.7 885.0L556.7 884.5L558.6 883.9L560.5 883.3L562.4 882.7L564.3 882.0L566.2 881.4L568.1 880.7L569.9 880.0L571.8 879.2L573.7 878.5L575.5 877.7L577.3 876.8L579.1 875.9L580.9 875.0L582.6 874.1L584.4 873.1L586.0 872.0L587.7 870.9L589.3 869.8L590.9 868.5L592.5 867.3L594.0 866.0L595.5 864.6L596.9 863.2L598.2 861.8L599.6 860.3L600.9 858.8L602.1 857.2L603.3 855.6L604.5 854.0L605.7 852.4L606.8 850.7L607.9 849.1L609.0 847.4L610.1 845.7L611.1 844.0L612.2 842.3L613.2 840.6L614.2 838.8L615.2 837.1L616.2 835.4L617.2 833.6L618.1 831.8L619.1 830.1L620.0 828.3L620.9 826.5L621.7 824.7L622.6 822.9L623.4 821.1L624.2 819.3L624.9 817.4L625.7 815.5L626.4 813.7L627.1 811.8L627.8 810.0L628.6 808.1L629.3 806.2L630.0 804.4L630.8 802.5L631.5 800.6L632.3 798.8L633.0 796.9L633.7 795.1L634.5 793.2L635.2 791.4L636.0 789.5L636.7 787.7L637.5 785.8L638.2 783.9L639.0 782.1L639.7 780.2L640.5 778.4L641.2 776.5L641.9 774.7L642.6 772.8L643.3 770.9L643.9 769.0L644.5 767.1L645.1 765.2L645.6 763.3L646.1 761.3L646.7 759.4L647.2 757.5L647.7 755.5L648.1 753.6L648.6 751.6L649.1 749.7L649.6 747.8L650.1 745.8L650.6 743.9L651.0 741.9L651.5 740.0L652.1 738.1L652.6 736.2L653.2 734.2L653.8 732.3L654.4 730.4L655.1 728.5L655.7 726.7L656.3 724.7L656.9 722.8L657.4 720.9L657.8 719.0L658.3 717.0L658.7 715.1L659.1 713.1L659.6 711.1L660.0 709.2L660.6 707.3L661.1 705.4L661.8 703.5L662.4 701.6L663.1 699.7L663.8 697.8L664.5 696.0L665.1 694.1L665.7 692.2L666.3 690.2L666.8 688.3L667.3 686.4L667.7 684.4L668.2 682.5L668.7 680.5L669.2 678.6L669.6 676.7L670.1 674.7L670.6 672.8L671.1 670.8L671.6 668.9L672.0 667.0L672.5 665.0L673.0 663.1L673.5 661.1L674.0 659.2L674.4 657.3L674.9 655.3L675.4 653.4L675.9 651.4L676.4 649.5L676.9 647.5L677.4 645.6L677.9 643.7L678.5 641.8L679.1 639.9L679.7 638.0L680.3 636.1L681.0 634.2L681.6 632.3L682.2 630.4L682.8 628.5L683.4 626.6L684.0 624.7L684.6 622.8L685.2 620.8L685.8 618.9L686.4 617.0L687.0 615.1L687.6 613.2L688.2 611.3L688.9 609.4L689.5 607.5L690.2 605.7L690.9 603.8L691.6 601.9L692.3 600.0L693.0 598.2L693.7 596.3L694.4 594.4L695.0 592.5L695.7 590.6L696.4 588.8L697.1 586.9L697.8 585.0L698.6 583.2L699.3 581.3L700.1 579.5L700.9 577.7L701.7 575.8L702.6 574.0L703.5 572.2L704.4 570.4L705.3 568.7L706.2 566.9L707.1 565.1L708.1 563.3L709.0 561.6L710.0 559.8L710.9 558.1L711.9 556.3L712.9 554.6L713.9 552.9L715.0 551.2L716.0 549.5L717.1 547.8L718.3 546.2L719.4 544.5L720.6 542.9L721.8 541.4L723.1 539.8L724.3 538.2L725.6 536.7L726.9 535.2L728.2 533.6L729.5 532.1L730.8 530.6L732.1 529.1L733.5 527.6L734.9 526.2L736.2 524.8L737.6 523.4L739.0 522.1L740.2 521.0L741.3 520.1L742.9 518.7" fill="none" stroke="#c40000" stroke-width="2.7" stroke-dasharray="10.8 6.3"/>
<path d="M350.5 890.8L353.5 890.8L355.1 890.8L357.0 890.8L359.1 890.8L361.1 890.8L363.3 890.8L365.4 890.8L367.4 890.8L369.5 890.8L371.6 890.8L373.7 890.8L375.8 890.8L377.8 890.8L379.9 890.8L381.9 890.8L384.0 890.8L386.0 890.8L388.0 890.8L390.1 890.8L392.1 890.8L394.1 890.8L396.1 890.8L398.1 890.8L400.1 890.8L402.1 890.8L404.1 890.8L406.1 890.8L408.0 890.8L410.0 890.8L412.0 890.8L413.9 890.8L415.9 890.8L417.8 890.8L419.8 890.8L421.7 890.8L423.7 890.8L425.6 890.8L427.5 890.8L429.5 890.8L431.4 890.8L433.3 890.8L435.2 890.8L437.1 890.8L439.1 890.8L441.0 890.8L442.9 890.8L444.8 890.8L446.7 890.7L448.5 890.5L450.4 890.3L452.3 889.8L454.1 889.2L456.0 888.5L457.8 887.7L459.7 887.0L461.6 886.3L463.5 885.7L465.4 885.1L467.3 884.5L469.2 883.9L471.2 883.3L473.1 882.7L474.9 882.0L476.8 881.4L478.7 880.7L480.6 880.0L482.4 879.2L484.2 878.4L486.1 877.6L487.8 876.7L489.6 875.7L491.4 874.8L493.1 873.8L494.8 872.8L496.5 871.7L498.2 870.6L499.8 869.4L501.4 868.2L502.9 866.9L504.4 865.6L505.9 864.3L507.4 862.9L508.8 861.6L510.3 860.2L511.7 858.8L513.1 857.4L514.5 855.9L515.9 854.5L517.2 853.0L518.6 851.5L519.9 850.0L521.1 848.4L522.4 846.9L523.6 845.3L524.7 843.6L525.8 842.0L526.9 840.3L528.0 838.6L529.1 836.9L530.2 835.2L531.2 833.5L532.2 831.8L533.2 830.1L534.2 828.4L535.2 826.6L536.2 824.9L537.1 823.1L538.0 821.3L538.9 819.5L539.8 817.7L540.6 815.9L541.5 814.1L542.3 812.3L543.1 810.5L543.9 808.6L544.7 806.8L545.5 804.9L546.2 803.1L547.0 801.3L547.8 799.4L548.5 797.5L549.3 795.7L550.0 793.8L550.7 792.0L551.5 790.1L552.2 788.3L553.0 786.4L553.7 784.6L554.5 782.7L555.2 780.8L555.9 779.0L556.7 777.1L557.4 775.3L558.1 773.4L558.8 771.5L559.4 769.6L560.1 767.7L560.7 765.8L561.4 764.0L562.1 762.1L562.7 760.2L563.5 758.3L564.2 756.5L564.9 754.6L565.6 752.7L566.4 750.9L567.1 749.0L567.9 747.2L568.6 745.3L569.4 743.5L570.1 741.6L570.8 739.7L571.6 737.9L572.3 736.0L573.1 734.2L573.8 732.3L574.5 730.4L575.2 728.6L575.9 726.7L576.5 724.8L577.2 722.9L577.9 721.0L578.5 719.1L579.2 717.2L579.8 715.4L580.5 713.5L581.2 711.6L581.9 709.7L582.6 707.9L583.3 706.0L584.0 704.1L584.7 702.2L585.4 700.4L586.1 698.5L586.8 696.6L587.4 694.7L588.0 692.8L588.6 690.9L589.2 689.0L589.8 687.1L590.3 685.2L590.9 683.2L591.5 681.3L592.2 679.4L592.8 677.5L593.5 675.7L594.1 673.8L594.8 671.9L595.5 670.0L596.2 668.1L596.9 666.3L597.7 664.4L598.5 662.6L599.2 660.7L600.0 658.9L600.8 657.1L601.6 655.2L602.4 653.4L603.2 651.5L603.9 649.7L604.7 647.8L605.4 646.0L606.1 644.1L606.9 642.3L607.6 640.4L608.3 638.5L609.0 636.7L609.7 634.8L610.4 632.9L611.1 631.0L611.8 629.1L612.5 627.3L613.1 625.4L613.8 623.5L614.6 621.6L615.3 619.8L616.1 618.0L616.9 616.2L617.8 614.4L618.8 612.6L619.7 610.9L620.7 609.1L621.6 607.3L622.4 605.5L623.3 603.7L624.1 601.9L624.9 600.1L625.8 598.2L626.6 596.4L627.5 594.7L628.4 592.9L629.3 591.1L630.2 589.3L631.1 587.5L632.0 585.7L632.9 583.9L633.7 582.1L634.5 580.3L635.4 578.5L636.2 576.6L637.0 574.8L637.8 573.0L638.6 571.1L639.4 569.3L640.2 567.5L641.1 565.7L642.0 563.9L643.0 562.2L644.1 560.5L645.1 558.8L646.2 557.1L647.3 555.5L648.5 553.8L649.6 552.2L650.8 550.6L652.0 548.9L653.2 547.3L654.3 545.7L655.6 544.1L656.8 542.6L658.1 541.0L659.4 539.5L660.7 538.1L662.1 536.6L663.6 535.2L665.0 533.8L666.4 532.5L667.9 531.1L669.4 529.8L670.9 528.4L672.4 527.2L674.0 525.9L675.6 524.8L677.3 523.6L678.9 522.6L680.6 521.5L682.4 520.5L684.1 519.5L685.9 518.6L687.7 517.6L689.4 516.7L691.2 515.8L693.0 515.0L694.8 514.1L696.7 513.3L698.5 512.5L700.4 511.8L702.2 511.0L704.1 510.3L706.0 509.7L707.9 509.0L709.8 508.4L711.7 507.8L713.6 507.3L715.5 506.7L717.5 506.2L719.4 505.7L721.3 505.2L723.3 504.8L725.2 504.4L727.2 504.0L729.2 503.6L731.1 503.3L733.1 502.9L735.1 502.6L737.0 502.3L738.8 502.1L740.5 501.8L741.9 501.6L744.0 501.3" fill="none" stroke="#0000dc" stroke-width="2.9" stroke-dasharray="3.1 5.9"/>
<path d="M350.5 890.8L353.3 890.8L354.8 890.8L356.6 890.8L358.5 890.8L360.5 890.8L362.5 890.8L364.5 890.8L366.5 890.8L368.5 890.8L370.5 890.8L372.5 890.8L374.5 890.8L376.5 890.8L378.5 890.8L380.5 890.8L382.5 890.8L384.5 890.8L386.5 890.8L388.5 890.8L390.5 890.8L392.5 890.8L394.5 890.8L396.5 890.8L398.5 890.8L400.5 890.8L402.5 890.8L404.5 890.8L406.5 890.8L408.5 890.8L410.5 890.8L412.5 890.8L414.5 890.8L416.5 890.8L418.5 890.8L420.5 890.8L422.5 890.8L424.5 890.8L426.5 890.8L428.5 890.8L430.5 890.8L432.5 890.8L434.5 890.8L436.5 890.8L438.5 890.8L440.5 890.8L442.5 890.8L444.5 890.8L446.5 890.8L448.5 890.8L450.5 890.8L452.5 890.8L454.5 890.8L456.5 890.8L458.5 890.8L460.5 890.8L462.5 890.8L464.5 890.8L466.5 890.8L468.5 890.8L470.5 890.8L472.5 890.8L474.5 890.8L476.5 890.8L478.5 890.8L480.5 890.8L482.5 890.8L484.5 890.8L486.5 890.8L488.5 890.8L490.5 890.8L492.5 890.8L494.5 890.8L496.5 890.8L498.5 890.8L500.5 890.8L502.5 890.8L504.5 890.8L506.5 890.8L508.5 890.8L510.5 890.8L512.5 890.7L514.5 890.7L516.5 890.6L518.4 890.6L520.4 890.5L522.4 890.4L524.4 890.4L526.4 890.3L528.5 890.3L530.5 890.3L532.5 890.2L534.5 890.2L536.5 890.2L538.5 890.1L540.5 890.1L542.5 890.0L544.5 890.0L546.4 889.9L548.4 889.8L550.4 889.7L552.4 889.6L554.4 889.4L556.4 889.1L558.4 888.8L560.3 888.5L562.3 888.1L564.3 887.7L566.2 887.3L568.2 886.9L570.1 886.4L572.1 885.9L574.0 885.3L575.9 884.7L577.8 884.1L579.7 883.4L581.6 882.8L583.5 882.1L585.4 881.5L587.3 880.9L589.2 880.3L591.1 879.6L592.9 878.9L594.8 878.2L596.7 877.5L598.5 876.7L600.3 875.8L602.1 874.9L603.8 874.0L605.6 873.0L607.2 871.9L608.9 870.8L610.5 869.6L612.1 868.4L613.6 867.1L615.1 865.8L616.6 864.5L618.1 863.1L619.5 861.7L620.9 860.2L622.2 858.7L623.5 857.2L624.8 855.7L626.0 854.1L627.3 852.6L628.5 851.0L629.7 849.4L630.9 847.8L632.1 846.2L633.3 844.6L634.5 843.0L635.6 841.3L636.8 839.7L637.9 838.0L639.0 836.4L640.0 834.6L641.0 832.9L642.0 831.2L642.9 829.4L643.8 827.6L644.7 825.8L645.6 824.1L646.5 822.3L647.5 820.5L648.4 818.8L649.4 817.0L650.3 815.2L651.3 813.5L652.2 811.7L653.2 810.0L654.1 808.2L655.0 806.4L655.8 804.6L656.7 802.8L657.5 801.0L658.4 799.1L659.2 797.3L659.9 795.5L660.7 793.6L661.5 791.8L662.3 790.0L663.1 788.1L663.9 786.3L664.7 784.5L665.6 782.7L666.4 780.8L667.2 779.0L668.0 777.2L668.7 775.3L669.5 773.5L670.2 771.6L670.8 769.7L671.5 767.8L672.2 765.9L672.8 764.1L673.5 762.2L674.2 760.3L674.9 758.4L675.6 756.5L676.3 754.7L677.0 752.8L677.7 750.9L678.4 749.1L679.1 747.2L679.8 745.3L680.5 743.4L681.2 741.5L681.8 739.7L682.5 737.8L683.2 735.9L683.9 734.0L684.5 732.1L685.2 730.2L685.8 728.3L686.4 726.4L687.1 724.6L687.7 722.7L688.3 720.8L689.0 718.9L689.6 717.0L690.3 715.1L691.0 713.2L691.7 711.3L692.4 709.5L693.0 707.6L693.7 705.7L694.4 703.8L695.1 701.9L695.7 700.0L696.4 698.2L697.1 696.3L697.7 694.4L698.4 692.5L699.1 690.6L699.8 688.7L700.4 686.9L701.1 685.0L701.8 683.1L702.5 681.2L703.2 679.4L703.9 677.5L704.6 675.6L705.4 673.8L706.1 671.9L706.9 670.1L707.7 668.2L708.4 666.4L709.2 664.5L709.9 662.7L710.6 660.8L711.3 658.9L711.9 657.0L712.5 655.1L713.2 653.2L713.8 651.3L714.4 649.4L715.0 647.5L715.7 645.6L716.3 643.7L716.9 641.8L717.6 639.9L718.2 638.0L718.9 636.2L719.6 634.3L720.4 632.4L721.1 630.6L721.9 628.7L722.6 626.9L723.4 625.0L724.1 623.2L724.8 621.3L725.6 619.5L726.4 617.6L727.1 615.8L727.9 613.9L728.7 612.1L729.5 610.3L730.4 608.5L731.2 606.6L732.1 604.8L733.0 603.1L733.9 601.3L734.8 599.5L735.8 597.7L736.7 596.0L737.7 594.3L738.7 592.6L739.6 591.0L740.5 589.5L741.2 588.3L742.3 586.5" fill="none" stroke="#0000dc" stroke-width="2.9" stroke-dasharray="3.1 5.9"/>
<path d="M350.0 890.5L352.8 890.5L354.3 890.5L356.1 890.5L358.0 890.5L360.0 890.5L362.0 890.5L364.0 890.5L366.0 890.5L368.0 890.5L370.0 890.5L372.0 890.5L374.0 890.5L376.0 890.5L378.0 890.5L380.0 890.5L382.0 890.5L384.0 890.5L386.0 890.5L388.0 890.5L390.0 890.5L392.0 890.5L394.0 890.5L396.0 890.5L398.0 890.5L400.0 890.5L402.0 890.5L404.0 890.5L406.0 890.5L408.0 890.5L410.0 890.5L412.0 890.5L414.0 890.5L416.0 890.5L418.0 890.5L420.0 890.5L422.0 890.4L424.0 890.4L426.0 890.4L428.0 890.4L430.0 890.4L432.0 890.4L434.0 890.4L436.0 890.4L438.0 890.4L440.0 890.4L442.0 890.4L444.0 890.4L446.0 890.4L448.0 890.4L450.0 890.4L452.0 890.4L454.0 890.4L456.0 890.4L458.0 890.4L460.0 890.4L462.0 890.4L464.0 890.4L466.0 890.4L468.0 890.4L470.0 890.4L472.0 890.4L474.0 890.4L476.0 890.4L478.0 890.4L480.0 890.4L482.0 890.4L484.0 890.4L485.9 890.4L487.9 890.4L489.9 890.4L491.9 890.4L493.9 890.4L495.9 890.4L497.9 890.4L499.9 890.4L501.9 890.4L503.9 890.4L505.9 890.4L507.9 890.4L509.9 890.3L511.9 890.3L513.9 890.3L515.9 890.3L517.9 890.3L519.9 890.3L521.9 890.3L523.9 890.3L525.9 890.3L527.9 890.3L529.9 890.3L531.9 890.3L533.9 890.3L535.8 890.3L537.8 890.3L539.8 890.3L541.8 890.3L543.8 890.3L545.8 890.3L547.8 890.2L549.8 890.2L551.8 890.2L553.8 890.1L555.8 890.0L557.8 889.9L559.8 889.8L561.8 889.6L563.8 889.5L565.8 889.3L567.8 889.1L569.7 888.9L571.7 888.8L573.7 888.6L575.7 888.5L577.7 888.3L579.7 888.2L581.7 888.0L583.7 887.8L585.7 887.7L587.7 887.5L589.7 887.2L591.6 887.0L593.6 886.6L595.6 886.3L597.5 885.9L599.5 885.5L601.4 885.0L603.4 884.6L605.3 884.1L607.3 883.7L609.2 883.2L611.1 882.7L613.1 882.1L615.0 881.5L616.9 880.9L618.8 880.3L620.6 879.6L622.5 878.8L624.3 878.0L626.1 877.1L627.9 876.2L629.6 875.2L631.3 874.1L632.9 873.0L634.5 871.8L636.0 870.5L637.6 869.2L639.1 867.9L640.5 866.5L642.0 865.2L643.4 863.7L644.7 862.3L646.1 860.8L647.3 859.3L648.6 857.7L649.7 856.1L650.9 854.4L652.0 852.8L653.0 851.1L654.1 849.4L655.1 847.6L656.0 845.9L656.9 844.1L657.8 842.3L658.6 840.5L659.4 838.7L660.2 836.8L661.0 835.0L661.7 833.1L662.5 831.3L663.2 829.4L664.0 827.6L664.7 825.7L665.4 823.8L666.2 822.0L666.9 820.1L667.7 818.3L668.4 816.4L669.2 814.6L669.9 812.7L670.6 810.8L671.3 809.0L672.0 807.1L672.7 805.2L673.3 803.3L674.0 801.4L674.6 799.5L675.2 797.6L675.8 795.7L676.4 793.8L677.0 791.9L677.5 790.0L678.1 788.1L678.6 786.1L679.1 784.2L679.7 782.3L680.2 780.4L680.7 778.4L681.2 776.5L681.7 774.5L682.1 772.6L682.6 770.7L683.1 768.7L683.6 766.8L684.1 764.9L684.5 762.9L685.0 761.0L685.5 759.0L686.0 757.1L686.5 755.2L687.0 753.2L687.4 751.3L687.9 749.3L688.3 747.4L688.8 745.4L689.2 743.5L689.7 741.5L690.1 739.6L690.6 737.6L691.0 735.7L691.5 733.8L691.9 731.8L692.4 729.9L692.8 727.9L693.3 726.0L693.7 724.0L694.1 722.1L694.6 720.1L695.0 718.2L695.4 716.2L695.8 714.2L696.2 712.3L696.6 710.3L697.0 708.4L697.5 706.4L697.9 704.5L698.3 702.5L698.7 700.5L699.0 698.6L699.4 696.6L699.7 694.7L700.0 692.7L700.3 690.7L700.5 688.7L700.7 686.7L700.9 684.7L701.1 682.8L701.4 680.8L701.6 678.8L701.9 676.8L702.2 674.8L702.6 672.9L703.0 670.9L703.4 669.0L703.8 667.0L704.3 665.1L704.7 663.1L705.1 661.2L705.6 659.2L706.0 657.3L706.4 655.3L706.8 653.4L707.2 651.4L707.7 649.4L708.1 647.5L708.5 645.5L708.9 643.6L709.4 641.6L709.8 639.7L710.2 637.7L710.6 635.8L711.0 633.8L711.4 631.8L711.8 629.9L712.1 627.9L712.5 626.0L712.9 624.0L713.2 622.0L713.6 620.1L714.0 618.1L714.4 616.1L714.8 614.2L715.2 612.2L715.6 610.3L716.0 608.3L716.4 606.4L716.9 604.4L717.3 602.5L717.7 600.5L718.1 598.6L718.5 596.6L718.9 594.6L719.4 592.7L719.8 590.7L720.2 588.8L720.6 586.8L721.1 584.9L721.5 582.9L722.0 581.0L722.4 579.0L722.9 577.1L723.4 575.2L723.8 573.2L724.3 571.3L724.9 569.4L725.4 567.4L725.9 565.5L726.4 563.6L727.0 561.6L727.5 559.7L728.0 557.8L728.5 555.9L729.1 553.9L729.6 552.0L730.2 550.1L730.8 548.2L731.4 546.3L732.1 544.4L732.7 542.5L733.4 540.7L734.1 538.8L734.9 536.9L735.6 535.1L736.4 533.2L737.2 531.4L737.9 529.6L738.7 527.7L739.6 525.9L740.4 524.1L741.1 522.3L741.9 520.6L742.6 519.1L743.1 517.8L744.0 515.8" fill="none" stroke="#8cb400" stroke-width="2.75" stroke-dasharray="2.75 1.62"/>
<path d="M350.0 890.7L352.8 890.7L354.3 890.7L356.1 890.7L358.0 890.7L360.0 890.7L362.0 890.7L364.0 890.7L366.0 890.7L368.0 890.7L370.0 890.7L372.0 890.7L374.0 890.7L376.0 890.7L377.9 890.7L379.9 890.7L381.9 890.7L383.9 890.7L385.9 890.7L387.9 890.7L389.9 890.7L391.9 890.7L393.9 890.7L395.9 890.7L397.9 890.7L399.9 890.7L401.9 890.7L403.9 890.7L405.9 890.7L407.9 890.7L409.9 890.7L411.9 890.7L413.9 890.7L415.9 890.7L417.9 890.6L419.9 890.6L421.9 890.6L423.9 890.6L425.9 890.6L427.9 890.6L429.8 890.6L431.8 890.6L433.8 890.6L435.8 890.6L437.8 890.6L439.8 890.6L441.8 890.6L443.8 890.6L445.8 890.6L447.8 890.6L449.8 890.6L451.8 890.6L453.8 890.6L455.8 890.6L457.8 890.6L459.8 890.6L461.8 890.6L463.8 890.6L465.8 890.6L467.8 890.6L469.8 890.6L471.8 890.6L473.8 890.6L475.8 890.6L477.8 890.6L479.8 890.6L481.7 890.6L483.7 890.6L485.7 890.6L487.7 890.6L489.7 890.6L491.7 890.6L493.7 890.6L495.7 890.6L497.7 890.6L499.7 890.6L501.7 890.6L503.7 890.5L505.7 890.5L507.7 890.5L509.7 890.5L511.7 890.5L513.7 890.5L515.7 890.5L517.7 890.5L519.7 890.5L521.7 890.5L523.7 890.5L525.7 890.5L527.7 890.5L529.7 890.5L531.6 890.5L533.6 890.5L535.6 890.5L537.6 890.5L539.6 890.5L541.6 890.5L543.6 890.5L545.6 890.5L547.6 890.5L549.6 890.5L551.6 890.5L553.6 890.5L555.6 890.5L557.6 890.4L559.6 890.4L561.6 890.4L563.6 890.4L565.6 890.4L567.6 890.4L569.6 890.4L571.6 890.4L573.6 890.4L575.6 890.4L577.6 890.4L579.6 890.3L581.6 890.3L583.6 890.3L585.5 890.3L587.5 890.3L589.5 890.3L591.5 890.3L593.5 890.3L595.5 890.2L597.5 890.2L599.5 890.2L601.5 890.2L603.5 890.2L605.5 890.2L607.5 890.1L609.5 890.1L611.5 890.1L613.5 890.1L615.5 890.1L617.5 890.0L619.5 890.0L621.5 890.0L623.5 890.0L625.5 889.9L627.5 889.9L629.5 889.9L631.5 889.9L633.5 889.8L635.4 889.8L637.4 889.8L639.4 889.7L641.4 889.7L643.4 889.6L645.4 889.6L647.4 889.5L649.4 889.5L651.4 889.4L653.4 889.3L655.4 889.3L657.4 889.2L659.4 889.1L661.4 889.0L663.4 888.9L665.4 888.9L667.4 888.8L669.4 888.7L671.4 888.6L673.4 888.4L675.3 888.3L677.3 888.2L679.3 888.0L681.3 887.9L683.3 887.7L685.3 887.5L687.3 887.3L689.3 887.1L691.2 886.8L693.2 886.6L695.2 886.3L697.2 886.0L699.1 885.7L701.1 885.4L703.1 885.0L705.0 884.6L707.0 884.2L708.9 883.8L710.9 883.4L712.9 883.0L714.8 882.6L716.8 882.2L718.7 881.8L720.7 881.4L722.6 881.0L724.6 880.5L726.5 880.1L728.5 879.7L730.4 879.3L732.4 878.9L734.3 878.5L736.3 878.1L738.1 877.6L739.8 877.2L741.3 876.7L744.0 875.9" fill="none" stroke="#8cb400" stroke-width="2.75" stroke-dasharray="2.75 1.62"/>
<rect x="542.6" y="849.6" width="10.8" height="10.8" fill="none" stroke="#c40000" stroke-opacity="0.75" stroke-width="0.9"/>
<rect x="545.6" y="848.0" width="10.8" height="10.8" fill="none" stroke="#c40000" stroke-opacity="0.75" stroke-width="0.9"/>
<rect x="548.2" y="845.8" width="10.8" height="10.8" fill="none" stroke="#c40000" stroke-opacity="0.75" stroke-width="0.9"/>
<rect x="551.0" y="843.8" width="10.8" height="10.8" fill="none" stroke="#c40000" stroke-opacity="0.75" stroke-width="0.9"/>
<rect x="553.6" y="841.7" width="10.8" height="10.8" fill="none" stroke="#c40000" stroke-opacity="0.75" stroke-width="0.9"/>
<rect x="555.8" y="839.1" width="10.8" height="10.8" fill="none" stroke="#c40000" stroke-opacity="0.75" stroke-width="0.9"/>
<rect x="557.8" y="836.4" width="10.8" height="10.8" fill="none" stroke="#c40000" stroke-opacity="0.75" stroke-width="0.9"/>
<rect x="559.9" y="833.6" width="10.8" height="10.8" fill="none" stroke="#c40000" stroke-opacity="0.75" stroke-width="0.9"/>
<rect x="561.8" y="830.9" width="10.8" height="10.8" fill="none" stroke="#c40000" stroke-opacity="0.75" stroke-width="0.9"/>
<rect x="563.5" y="828.0" width="10.8" height="10.8" fill="none" stroke="#c40000" stroke-opacity="0.75" stroke-width="0.9"/>
<rect x="565.0" y="824.9" width="10.8" height="10.8" fill="none" stroke="#c40000" stroke-opacity="0.75" stroke-width="0.9"/>
<rect x="566.5" y="821.8" width="10.8" height="10.8" fill="none" stroke="#c40000" stroke-opacity="0.75" stroke-width="0.9"/>
<rect x="568.1" y="818.8" width="10.8" height="10.8" fill="none" stroke="#c40000" stroke-opacity="0.75" stroke-width="0.9"/>
<rect x="569.5" y="815.7" width="10.8" height="10.8" fill="none" stroke="#c40000" stroke-opacity="0.75" stroke-width="0.9"/>
<rect x="570.6" y="812.5" width="10.8" height="10.8" fill="none" stroke="#c40000" stroke-opacity="0.75" stroke-width="0.9"/>
<rect x="571.6" y="809.3" width="10.8" height="10.8" fill="none" stroke="#c40000" stroke-opacity="0.75" stroke-width="0.9"/>
<rect x="572.9" y="806.1" width="10.8" height="10.8" fill="none" stroke="#c40000" stroke-opacity="0.75" stroke-width="0.9"/>
<rect x="574.4" y="803.1" width="10.8" height="10.8" fill="none" stroke="#c40000" stroke-opacity="0.75" stroke-width="0.9"/>
<rect x="575.7" y="799.9" width="10.8" height="10.8" fill="none" stroke="#c40000" stroke-opacity="0.75" stroke-width="0.9"/>
<rect x="576.5" y="796.7" width="10.8" height="10.8" fill="none" stroke="#c40000" stroke-opacity="0.75" stroke-width="0.9"/>
<rect x="577.1" y="793.3" width="10.8" height="10.8" fill="none" stroke="#c40000" stroke-opacity="0.75" stroke-width="0.9"/>
<rect x="577.8" y="790.0" width="10.8" height="10.8" fill="none" stroke="#c40000" stroke-opacity="0.75" stroke-width="0.9"/>
<rect x="578.6" y="786.7" width="10.8" height="10.8" fill="none" stroke="#c40000" stroke-opacity="0.75" stroke-width="0.9"/>
<rect x="579.3" y="783.3" width="10.8" height="10.8" fill="none" stroke="#c40000" stroke-opacity="0.75" stroke-width="0.9"/>
<rect x="579.8" y="780.0" width="10.8" height="10.8" fill="none" stroke="#c40000" stroke-opacity="0.75" stroke-width="0.9"/>
<rect x="580.1" y="776.6" width="10.8" height="10.8" fill="none" stroke="#c40000" stroke-opacity="0.75" stroke-width="0.9"/>
<rect x="581.6" y="763.9" width="10.8" height="10.8" fill="none" stroke="#c40000" stroke-opacity="0.75" stroke-width="0.9"/>
<rect x="584.1" y="739.5" width="10.8" height="10.8" fill="none" stroke="#c40000" stroke-opacity="0.75" stroke-width="0.9"/>
<rect x="586.2" y="672.2" width="10.8" height="10.8" fill="none" stroke="#c40000" stroke-opacity="0.75" stroke-width="0.9"/>
<rect x="587.6" y="550.3" width="10.8" height="10.8" fill="none" stroke="#c40000" stroke-opacity="0.75" stroke-width="0.9"/>
<rect x="589.4" y="493.0" width="10.8" height="10.8" fill="none" stroke="#c40000" stroke-opacity="0.75" stroke-width="0.9"/>
<rect x="592.2" y="493.0" width="10.8" height="10.8" fill="none" stroke="#c40000" stroke-opacity="0.75" stroke-width="0.9"/>
<rect x="595.0" y="493.0" width="10.8" height="10.8" fill="none" stroke="#c40000" stroke-opacity="0.75" stroke-width="0.9"/>
<rect x="597.8" y="493.0" width="10.8" height="10.8" fill="none" stroke="#c40000" stroke-opacity="0.75" stroke-width="0.9"/>
<rect x="600.2" y="493.0" width="10.8" height="10.8" fill="none" stroke="#c40000" stroke-opacity="0.75" stroke-width="0.9"/>
<rect x="602.5" y="493.0" width="10.8" height="10.8" fill="none" stroke="#c40000" stroke-opacity="0.75" stroke-width="0.9"/>
<circle cx="483.1" cy="875.3" r="4.9" fill="#fff" stroke="#222" stroke-width="0.9"/>
<circle cx="501.4" cy="875.3" r="4.9" fill="#fff" stroke="#222" stroke-width="0.9"/>
<circle cx="518.0" cy="867.6" r="4.9" fill="#fff" stroke="#222" stroke-width="0.9"/>
<circle cx="526.7" cy="861.4" r="4.9" fill="#fff" stroke="#222" stroke-width="0.9"/>
<circle cx="533.0" cy="853.0" r="4.9" fill="#fff" stroke="#222" stroke-width="0.9"/>
<circle cx="538.1" cy="847.8" r="4.9" fill="#fff" stroke="#222" stroke-width="0.9"/>
<circle cx="541.3" cy="842.6" r="4.9" fill="#fff" stroke="#222" stroke-width="0.9"/>
<circle cx="544.4" cy="831.2" r="4.9" fill="#fff" stroke="#222" stroke-width="0.9"/>
<circle cx="548.5" cy="809.4" r="4.9" fill="#fff" stroke="#222" stroke-width="0.9"/>
<circle cx="550.0" cy="809.4" r="4.9" fill="#fff" stroke="#222" stroke-width="0.9"/>
<circle cx="553.1" cy="789.0" r="4.9" fill="#fff" stroke="#222" stroke-width="0.9"/>
<circle cx="557.3" cy="750.1" r="4.9" fill="#fff" stroke="#222" stroke-width="0.9"/>
<circle cx="562.5" cy="647.8" r="4.9" fill="#fff" stroke="#222" stroke-width="0.9"/>
<circle cx="567.7" cy="517.9" r="4.9" fill="#fff" stroke="#222" stroke-width="0.9"/>
<circle cx="570.0" cy="498.2" r="4.9" fill="#fff" stroke="#222" stroke-width="0.9"/>
<circle cx="573.7" cy="498.2" r="4.9" fill="#fff" stroke="#222" stroke-width="0.9"/>
<circle cx="578.1" cy="498.2" r="4.9" fill="#fff" stroke="#222" stroke-width="0.9"/>
<circle cx="582.8" cy="498.2" r="4.9" fill="#fff" stroke="#222" stroke-width="0.9"/>
<path d="M556.9 879.0L563.5 872.4L570.1 879.0L563.5 885.6Z" fill="none" stroke="#0000dc" stroke-opacity="0.9" stroke-width="1"/>
<path d="M552.8 871.8L559.4 865.2L566.0 871.8L559.4 878.4Z" fill="none" stroke="#0000dc" stroke-opacity="0.9" stroke-width="1"/>
<path d="M564.2 873.8L570.8 867.2L577.4 873.8L570.8 880.4Z" fill="none" stroke="#0000dc" stroke-opacity="0.9" stroke-width="1"/>
<path d="M570.4 868.6L577.0 862.0L583.6 868.6L577.0 875.2Z" fill="none" stroke="#0000dc" stroke-opacity="0.9" stroke-width="1"/>
<path d="M576.7 866.6L583.3 860.0L589.9 866.6L583.3 873.2Z" fill="none" stroke="#0000dc" stroke-opacity="0.9" stroke-width="1"/>
<path d="M582.9 852.0L589.5 845.4L596.1 852.0L589.5 858.6Z" fill="none" stroke="#0000dc" stroke-opacity="0.9" stroke-width="1"/>
<path d="M588.1 847.8L594.7 841.2L601.3 847.8L594.7 854.4Z" fill="none" stroke="#0000dc" stroke-opacity="0.9" stroke-width="1"/>
<path d="M590.2 839.5L596.8 832.9L603.4 839.5L596.8 846.1Z" fill="none" stroke="#0000dc" stroke-opacity="0.9" stroke-width="1"/>
<path d="M592.3 837.5L598.9 830.9L605.5 837.5L598.9 844.1Z" fill="none" stroke="#0000dc" stroke-opacity="0.9" stroke-width="1"/>
<path d="M601.6 792.8L608.2 786.2L614.8 792.8L608.2 799.4Z" fill="none" stroke="#0000dc" stroke-opacity="0.9" stroke-width="1"/>
<path d="M609.9 788.6L616.5 782.0L623.1 788.6L616.5 795.2Z" fill="none" stroke="#0000dc" stroke-opacity="0.9" stroke-width="1"/>
<path d="M615.1 793.8L621.7 787.2L628.3 793.8L621.7 800.4Z" fill="none" stroke="#0000dc" stroke-opacity="0.9" stroke-width="1"/>
<path d="M605.8 798.0L612.4 791.4L619.0 798.0L612.4 804.6Z" fill="none" stroke="#0000dc" stroke-opacity="0.9" stroke-width="1"/>
<path d="M612.0 802.1L618.6 795.5L625.2 802.1L618.6 808.7Z" fill="none" stroke="#0000dc" stroke-opacity="0.9" stroke-width="1"/>
<path d="M603.7 806.3L610.3 799.7L616.9 806.3L610.3 812.9Z" fill="none" stroke="#0000dc" stroke-opacity="0.9" stroke-width="1"/>
<path d="M607.8 808.3L614.4 801.7L621.0 808.3L614.4 814.9Z" fill="none" stroke="#0000dc" stroke-opacity="0.9" stroke-width="1"/>
<path d="M599.5 810.4L606.1 803.8L612.7 810.4L606.1 817.0Z" fill="none" stroke="#0000dc" stroke-opacity="0.9" stroke-width="1"/>
<path d="M595.4 816.7L602.0 810.1L608.6 816.7L602.0 823.3Z" fill="none" stroke="#0000dc" stroke-opacity="0.9" stroke-width="1"/>
<path d="M609.9 812.5L616.5 805.9L623.1 812.5L616.5 819.1Z" fill="none" stroke="#0000dc" stroke-opacity="0.9" stroke-width="1"/>
<path d="M605.8 818.7L612.4 812.1L619.0 818.7L612.4 825.3Z" fill="none" stroke="#0000dc" stroke-opacity="0.9" stroke-width="1"/>
<path d="M597.5 820.8L604.1 814.2L610.7 820.8L604.1 827.4Z" fill="none" stroke="#0000dc" stroke-opacity="0.9" stroke-width="1"/>
<path d="M607.8 827.1L614.4 820.5L621.0 827.1L614.4 833.7Z" fill="none" stroke="#0000dc" stroke-opacity="0.9" stroke-width="1"/>
<path d="M593.3 822.9L599.9 816.3L606.5 822.9L599.9 829.5Z" fill="none" stroke="#0000dc" stroke-opacity="0.9" stroke-width="1"/>
<path d="M602.7 813.5L609.3 806.9L615.9 813.5L609.3 820.1Z" fill="none" stroke="#0000dc" stroke-opacity="0.9" stroke-width="1"/>
<path d="M606.8 803.1L613.4 796.5L620.0 803.1L613.4 809.7Z" fill="none" stroke="#0000dc" stroke-opacity="0.9" stroke-width="1"/>
<path d="M616.2 782.4L622.8 775.8L629.4 782.4L622.8 789.0Z" fill="none" stroke="#0000dc" stroke-opacity="0.9" stroke-width="1"/>
<path d="M618.2 765.3L624.8 758.7L631.4 765.3L624.8 771.9Z" fill="none" stroke="#0000dc" stroke-opacity="0.9" stroke-width="1"/>
<path d="M620.3 737.0L626.9 730.4L633.5 737.0L626.9 743.6Z" fill="none" stroke="#0000dc" stroke-opacity="0.9" stroke-width="1"/>
<path d="M621.4 708.6L628.0 702.0L634.6 708.6L628.0 715.2Z" fill="none" stroke="#0000dc" stroke-opacity="0.9" stroke-width="1"/>
<path d="M554.0 870.4L560.6 863.8L567.2 870.4L560.6 877.0Z" fill="none" stroke="#0000dc" stroke-opacity="0.9" stroke-width="1"/>
<path d="M558.3 874.8L564.9 868.2L571.5 874.8L564.9 881.4Z" fill="none" stroke="#0000dc" stroke-opacity="0.9" stroke-width="1"/>
<path d="M555.2 879.8L561.8 873.2L568.4 879.8L561.8 886.4Z" fill="none" stroke="#0000dc" stroke-opacity="0.9" stroke-width="1"/>
<path d="M563.3 872.9L569.9 866.3L576.5 872.9L569.9 879.5Z" fill="none" stroke="#0000dc" stroke-opacity="0.9" stroke-width="1"/>
<path d="M570.8 869.8L577.4 863.2L584.0 869.8L577.4 876.4Z" fill="none" stroke="#0000dc" stroke-opacity="0.9" stroke-width="1"/>
<path d="M576.4 867.3L583.0 860.7L589.6 867.3L583.0 873.9Z" fill="none" stroke="#0000dc" stroke-opacity="0.9" stroke-width="1"/>
<path d="M583.3 853.6L589.9 847.0L596.5 853.6L589.9 860.2Z" fill="none" stroke="#0000dc" stroke-opacity="0.9" stroke-width="1"/>
<path d="M587.0 849.9L593.6 843.3L600.2 849.9L593.6 856.5Z" fill="none" stroke="#0000dc" stroke-opacity="0.9" stroke-width="1"/>
<path d="M589.5 844.9L596.1 838.3L602.7 844.9L596.1 851.5Z" fill="none" stroke="#0000dc" stroke-opacity="0.9" stroke-width="1"/>
<path d="M592.0 839.9L598.6 833.3L605.2 839.9L598.6 846.5Z" fill="none" stroke="#0000dc" stroke-opacity="0.9" stroke-width="1"/>
<path d="M585.8 842.4L592.4 835.8L599.0 842.4L592.4 849.0Z" fill="none" stroke="#0000dc" stroke-opacity="0.9" stroke-width="1"/>
<path d="M580.8 849.9L587.4 843.3L594.0 849.9L587.4 856.5Z" fill="none" stroke="#0000dc" stroke-opacity="0.9" stroke-width="1"/>
<path d="M577.1 854.8L583.7 848.2L590.3 854.8L583.7 861.4Z" fill="none" stroke="#0000dc" stroke-opacity="0.9" stroke-width="1"/>
<path d="M597.0 824.9L603.6 818.3L610.2 824.9L603.6 831.5Z" fill="none" stroke="#0000dc" stroke-opacity="0.9" stroke-width="1"/>
<path d="M600.8 821.2L607.4 814.6L614.0 821.2L607.4 827.8Z" fill="none" stroke="#0000dc" stroke-opacity="0.9" stroke-width="1"/>
<path d="M604.5 817.4L611.1 810.8L617.7 817.4L611.1 824.0Z" fill="none" stroke="#0000dc" stroke-opacity="0.9" stroke-width="1"/>
<path d="M608.2 813.7L614.8 807.1L621.4 813.7L614.8 820.3Z" fill="none" stroke="#0000dc" stroke-opacity="0.9" stroke-width="1"/>
<path d="M603.3 811.2L609.9 804.6L616.5 811.2L609.9 817.8Z" fill="none" stroke="#0000dc" stroke-opacity="0.9" stroke-width="1"/>
<path d="M607.0 807.4L613.6 800.8L620.2 807.4L613.6 814.0Z" fill="none" stroke="#0000dc" stroke-opacity="0.9" stroke-width="1"/>
<path d="M610.7 804.9L617.3 798.3L623.9 804.9L617.3 811.5Z" fill="none" stroke="#0000dc" stroke-opacity="0.9" stroke-width="1"/>
<path d="M599.5 812.4L606.1 805.8L612.7 812.4L606.1 819.0Z" fill="none" stroke="#0000dc" stroke-opacity="0.9" stroke-width="1"/>
<path d="M603.3 803.7L609.9 797.1L616.5 803.7L609.9 810.3Z" fill="none" stroke="#0000dc" stroke-opacity="0.9" stroke-width="1"/>
<path d="M608.2 800.0L614.8 793.4L621.4 800.0L614.8 806.6Z" fill="none" stroke="#0000dc" stroke-opacity="0.9" stroke-width="1"/>
<path d="M613.2 797.5L619.8 790.9L626.4 797.5L619.8 804.1Z" fill="none" stroke="#0000dc" stroke-opacity="0.9" stroke-width="1"/>
<path d="M600.8 793.7L607.4 787.1L614.0 793.7L607.4 800.3Z" fill="none" stroke="#0000dc" stroke-opacity="0.9" stroke-width="1"/>
<path d="M605.7 790.0L612.3 783.4L618.9 790.0L612.3 796.6Z" fill="none" stroke="#0000dc" stroke-opacity="0.9" stroke-width="1"/>
<path d="M610.7 787.5L617.3 780.9L623.9 787.5L617.3 794.1Z" fill="none" stroke="#0000dc" stroke-opacity="0.9" stroke-width="1"/>
<path d="M615.7 783.7L622.3 777.1L628.9 783.7L622.3 790.3Z" fill="none" stroke="#0000dc" stroke-opacity="0.9" stroke-width="1"/>
<path d="M614.5 792.5L621.1 785.9L627.7 792.5L621.1 799.1Z" fill="none" stroke="#0000dc" stroke-opacity="0.9" stroke-width="1"/>
<path d="M607.0 827.4L613.6 820.8L620.2 827.4L613.6 834.0Z" fill="none" stroke="#0000dc" stroke-opacity="0.9" stroke-width="1"/>
<path d="M608.2 821.2L614.8 814.6L621.4 821.2L614.8 827.8Z" fill="none" stroke="#0000dc" stroke-opacity="0.9" stroke-width="1"/>
<path d="M622.4 640.6L629.0 634.0L635.6 640.6L629.0 647.2Z" fill="none" stroke="#0000dc" stroke-opacity="0.9" stroke-width="1"/>
<path d="M623.4 617.7L630.0 611.1L636.6 617.7L630.0 624.3Z" fill="none" stroke="#0000dc" stroke-opacity="0.9" stroke-width="1"/>
<path d="M624.1 588.6L630.7 582.0L637.3 588.6L630.7 595.2Z" fill="none" stroke="#0000dc" stroke-opacity="0.9" stroke-width="1"/>
<path d="M625.5 549.1L632.1 542.5L638.7 549.1L632.1 555.7Z" fill="none" stroke="#0000dc" stroke-opacity="0.9" stroke-width="1"/>
<path d="M626.1 509.6L632.7 503.0L639.3 509.6L632.7 516.2Z" fill="none" stroke="#0000dc" stroke-opacity="0.9" stroke-width="1"/>
<path d="M628.2 500.7L634.8 494.1L641.4 500.7L634.8 507.3Z" fill="none" stroke="#0000dc" stroke-opacity="0.9" stroke-width="1"/>
<path d="M630.7 498.2L637.3 491.6L643.9 498.2L637.3 504.8Z" fill="none" stroke="#0000dc" stroke-opacity="0.9" stroke-width="1"/>
<path d="M633.8 498.2L640.4 491.6L647.0 498.2L640.4 504.8Z" fill="none" stroke="#0000dc" stroke-opacity="0.9" stroke-width="1"/>
<path d="M637.0 498.2L643.6 491.6L650.2 498.2L643.6 504.8Z" fill="none" stroke="#0000dc" stroke-opacity="0.9" stroke-width="1"/>
<path d="M640.1 498.2L646.7 491.6L653.3 498.2L646.7 504.8Z" fill="none" stroke="#0000dc" stroke-opacity="0.9" stroke-width="1"/>
<circle cx="447.7" cy="884.2" r="5.5"/>
<circle cx="450.2" cy="881.9" r="5.5"/>
<circle cx="452.5" cy="879.3" r="5.5"/>
<circle cx="454.7" cy="876.7" r="5.5"/>
<circle cx="456.7" cy="873.9" r="5.5"/>
<circle cx="458.4" cy="871.0" r="5.5"/>
<circle cx="460.1" cy="868.0" r="5.5"/>
<circle cx="461.6" cy="864.9" r="5.5"/>
<circle cx="462.9" cy="861.7" r="5.5"/>
<circle cx="464.0" cy="858.5" r="5.5"/>
<circle cx="464.7" cy="855.2" r="5.5"/>
<circle cx="465.3" cy="851.8" r="5.5"/>
<circle cx="465.8" cy="848.4" r="5.5"/>
<circle cx="466.3" cy="845.0" r="5.5"/>
<circle cx="466.6" cy="841.6" r="5.5"/>
<circle cx="466.8" cy="838.2" r="5.5"/>
<circle cx="467.1" cy="834.8" r="5.5"/>
<circle cx="467.4" cy="831.3" r="5.5"/>
<circle cx="467.7" cy="827.9" r="5.5"/>
<circle cx="467.9" cy="824.5" r="5.5"/>
<circle cx="468.2" cy="821.1" r="5.5"/>
<circle cx="468.5" cy="817.7" r="5.5"/>
<circle cx="470.0" cy="796.5" r="5.5"/>
<circle cx="470.6" cy="780.7" r="5.5"/>
<circle cx="471.6" cy="765.7" r="5.5"/>
<circle cx="472.2" cy="754.3" r="5.5"/>
<circle cx="473.3" cy="732.9" r="5.5"/>
<circle cx="474.1" cy="709.6" r="5.5"/>
<circle cx="474.7" cy="687.3" r="5.5"/>
<circle cx="475.8" cy="664.5" r="5.5"/>
<circle cx="476.4" cy="647.8" r="5.5"/>
<circle cx="477.9" cy="628.7" r="5.5"/>
<circle cx="478.9" cy="618.7" r="5.5"/>
<circle cx="479.5" cy="595.9" r="5.5"/>
<circle cx="480.6" cy="582.4" r="5.5"/>
<circle cx="481.0" cy="571.5" r="5.5"/>
<circle cx="482.0" cy="554.3" r="5.5"/>
<circle cx="483.1" cy="543.9" r="5.5"/>
<circle cx="483.7" cy="528.7" r="5.5"/>
<circle cx="484.7" cy="514.8" r="5.5"/>
<circle cx="486.2" cy="507.5" r="5.5"/>
<circle cx="488.3" cy="502.3" r="5.5"/>
<circle cx="488.3" cy="502.3" r="5.5"/>
<circle cx="490.2" cy="500.0" r="5.5"/>
<circle cx="492.6" cy="498.7" r="5.5"/>
<circle cx="495.5" cy="498.2" r="5.5"/>
<circle cx="498.3" cy="498.2" r="5.5"/>
<circle cx="501.2" cy="498.2" r="5.5"/>
<circle cx="504.1" cy="498.2" r="5.5"/>
<circle cx="507.0" cy="498.2" r="5.5"/>
<rect x="514.9" y="867.2" width="11.2" height="11.2" fill="#c40000"/>
<rect x="520.1" y="852.6" width="11.2" height="11.2" fill="#c40000"/>
<rect x="523.6" y="833.9" width="11.2" height="11.2" fill="#c40000"/>
<rect x="526.3" y="815.2" width="11.2" height="11.2" fill="#c40000"/>
<rect x="528.4" y="798.6" width="11.2" height="11.2" fill="#c40000"/>
<rect x="529.4" y="786.1" width="11.2" height="11.2" fill="#c40000"/>
<rect x="530.5" y="773.6" width="11.2" height="11.2" fill="#c40000"/>
<rect x="531.1" y="761.2" width="11.2" height="11.2" fill="#c40000"/>
<rect x="531.5" y="748.7" width="11.2" height="11.2" fill="#c40000"/>
<rect x="532.1" y="736.2" width="11.2" height="11.2" fill="#c40000"/>
<rect x="532.8" y="723.7" width="11.2" height="11.2" fill="#c40000"/>
<rect x="533.6" y="711.3" width="11.2" height="11.2" fill="#c40000"/>
<rect x="534.2" y="699.8" width="11.2" height="11.2" fill="#c40000"/>
<rect x="534.6" y="683.8" width="11.2" height="11.2" fill="#c40000"/>
<rect x="535.3" y="667.2" width="11.2" height="11.2" fill="#c40000"/>
<rect x="535.7" y="652.6" width="11.2" height="11.2" fill="#c40000"/>
<rect x="535.9" y="642.2" width="11.2" height="11.2" fill="#c40000"/>
<rect x="536.7" y="625.6" width="11.2" height="11.2" fill="#c40000"/>
<rect x="538.2" y="585.1" width="11.2" height="11.2" fill="#c40000"/>
<rect x="540.3" y="560.2" width="11.2" height="11.2" fill="#c40000"/>
<rect x="540.5" y="557.1" width="11.2" height="11.2" fill="#c40000"/>
<rect x="540.7" y="553.9" width="11.2" height="11.2" fill="#c40000"/>
<rect x="540.9" y="550.8" width="11.2" height="11.2" fill="#c40000"/>
<rect x="541.1" y="547.7" width="11.2" height="11.2" fill="#c40000"/>
<rect x="541.3" y="544.5" width="11.2" height="11.2" fill="#c40000"/>
<rect x="541.5" y="541.4" width="11.2" height="11.2" fill="#c40000"/>
<rect x="543.3" y="527.2" width="11.2" height="11.2" fill="#c40000"/>
<rect x="543.6" y="524.8" width="11.2" height="11.2" fill="#c40000"/>
<rect x="544.0" y="522.3" width="11.2" height="11.2" fill="#c40000"/>
<rect x="544.3" y="519.9" width="11.2" height="11.2" fill="#c40000"/>
<rect x="544.6" y="517.4" width="11.2" height="11.2" fill="#c40000"/>
<rect x="545.0" y="515.0" width="11.2" height="11.2" fill="#c40000"/>
<rect x="545.3" y="512.5" width="11.2" height="11.2" fill="#c40000"/>
<rect x="545.6" y="510.1" width="11.2" height="11.2" fill="#c40000"/>
<rect x="546.0" y="507.7" width="11.2" height="11.2" fill="#c40000"/>
<rect x="546.3" y="505.2" width="11.2" height="11.2" fill="#c40000"/>
<rect x="546.7" y="502.8" width="11.2" height="11.2" fill="#c40000"/>
<rect x="547.0" y="500.3" width="11.2" height="11.2" fill="#c40000"/>
<rect x="547.4" y="497.9" width="11.2" height="11.2" fill="#c40000"/>
<rect x="547.7" y="495.4" width="11.2" height="11.2" fill="#c40000"/>
<rect x="548.1" y="493.0" width="11.2" height="11.2" fill="#c40000"/>
<path d="M562.8 866.6L569.8 859.6L576.8 866.6L569.8 873.6Z" fill="#0000dc"/>
<path d="M565.9 863.6L572.9 856.6L579.9 863.6L572.9 870.6Z" fill="#0000dc"/>
<path d="M568.5 860.2L575.5 853.2L582.5 860.2L575.5 867.2Z" fill="#0000dc"/>
<path d="M570.8 856.6L577.8 849.6L584.8 856.6L577.8 863.6Z" fill="#0000dc"/>
<path d="M572.7 852.7L579.7 845.7L586.7 852.7L579.7 859.7Z" fill="#0000dc"/>
<path d="M574.3 848.7L581.3 841.7L588.3 848.7L581.3 855.7Z" fill="#0000dc"/>
<path d="M575.8 844.7L582.8 837.7L589.8 844.7L582.8 851.7Z" fill="#0000dc"/>
<path d="M577.3 840.7L584.3 833.7L591.3 840.7L584.3 847.7Z" fill="#0000dc"/>
<path d="M578.8 836.7L585.8 829.7L592.8 836.7L585.8 843.7Z" fill="#0000dc"/>
<path d="M580.3 832.6L587.3 825.6L594.3 832.6L587.3 839.6Z" fill="#0000dc"/>
<path d="M581.5 828.5L588.5 821.5L595.5 828.5L588.5 835.5Z" fill="#0000dc"/>
<path d="M582.7 824.4L589.7 817.4L596.7 824.4L589.7 831.4Z" fill="#0000dc"/>
<path d="M583.9 820.3L590.9 813.3L597.9 820.3L590.9 827.3Z" fill="#0000dc"/>
<path d="M584.9 816.1L591.9 809.1L598.9 816.1L591.9 823.1Z" fill="#0000dc"/>
<path d="M585.6 811.8L592.6 804.8L599.6 811.8L592.6 818.8Z" fill="#0000dc"/>
<path d="M586.2 807.6L593.2 800.6L600.2 807.6L593.2 814.6Z" fill="#0000dc"/>
<path d="M586.8 803.3L593.8 796.3L600.8 803.3L593.8 810.3Z" fill="#0000dc"/>
<path d="M587.5 799.1L594.5 792.1L601.5 799.1L594.5 806.1Z" fill="#0000dc"/>
<path d="M588.3 794.9L595.3 787.9L602.3 794.9L595.3 801.9Z" fill="#0000dc"/>
<path d="M589.2 790.7L596.2 783.7L603.2 790.7L596.2 797.7Z" fill="#0000dc"/>
<path d="M590.8 781.3L597.8 774.3L604.8 781.3L597.8 788.3Z" fill="#0000dc"/>
<path d="M592.5 770.9L599.5 763.9L606.5 770.9L599.5 777.9Z" fill="#0000dc"/>
<path d="M593.3 762.6L600.3 755.6L607.3 762.6L600.3 769.6Z" fill="#0000dc"/>
<path d="M593.9 756.4L600.9 749.4L607.9 756.4L600.9 763.4Z" fill="#0000dc"/>
<path d="M593.9 750.1L600.9 743.1L607.9 750.1L600.9 757.1Z" fill="#0000dc"/>
<path d="M595.0 743.9L602.0 736.9L609.0 743.9L602.0 750.9Z" fill="#0000dc"/>
<path d="M595.6 720.0L602.6 713.0L609.6 720.0L602.6 727.0Z" fill="#0000dc"/>
<path d="M596.6 702.3L603.6 695.3L610.6 702.3L603.6 709.3Z" fill="#0000dc"/>
<path d="M597.5 690.5L604.5 683.5L611.5 690.5L604.5 697.5Z" fill="#0000dc"/>
<path d="M598.1 657.2L605.1 650.2L612.1 657.2L605.1 664.2Z" fill="#0000dc"/>
<path d="M599.1 644.7L606.1 637.7L613.1 644.7L606.1 651.7Z" fill="#0000dc"/>
<path d="M600.2 617.7L607.2 610.7L614.2 617.7L607.2 624.7Z" fill="#0000dc"/>
<path d="M601.2 612.5L608.2 605.5L615.2 612.5L608.2 619.5Z" fill="#0000dc"/>
<path d="M603.3 583.8L610.3 576.8L617.3 583.8L610.3 590.8Z" fill="#0000dc"/>
<path d="M604.3 565.7L611.3 558.7L618.3 565.7L611.3 572.7Z" fill="#0000dc"/>
<path d="M605.4 543.9L612.4 536.9L619.4 543.9L612.4 550.9Z" fill="#0000dc"/>
<path d="M605.4 531.4L612.4 524.4L619.4 531.4L612.4 538.4Z" fill="#0000dc"/>
<path d="M605.8 522.1L612.8 515.1L619.8 522.1L612.8 529.1Z" fill="#0000dc"/>
<path d="M606.4 514.8L613.4 507.8L620.4 514.8L613.4 521.8Z" fill="#0000dc"/>
<path d="M607.4 508.6L614.4 501.6L621.4 508.6L614.4 515.6Z" fill="#0000dc"/>
<path d="M609.5 504.0L616.5 497.0L623.5 504.0L616.5 511.0Z" fill="#0000dc"/>
<path d="M612.0 500.7L619.0 493.7L626.0 500.7L619.0 507.7Z" fill="#0000dc"/>
<path d="M614.7 498.6L621.7 491.6L628.7 498.6L621.7 505.6Z" fill="#0000dc"/>
<path d="M617.8 497.7L624.8 490.7L631.8 497.7L624.8 504.7Z" fill="#0000dc"/>
<path d="M621.0 497.3L628.0 490.3L635.0 497.3L628.0 504.3Z" fill="#0000dc"/>
</g>
<rect x="357" y="507.4" width="107.6" height="118.2" fill="#fff" stroke="#000" stroke-width="1.4"/>
<circle cx="384.2" cy="520.5" r="4.9" fill="none" stroke="#222" stroke-width="0.9"/>
<rect x="378.8" y="530.4" width="10.8" height="10.8" fill="none" stroke="#c40000" stroke-opacity="0.75" stroke-width="0.9"/>
<path d="M377.6 551.1L384.2 544.5L390.8 551.1L384.2 557.7Z" fill="none" stroke="#0000dc" stroke-opacity="0.9" stroke-width="1"/>
<line x1="365" y1="566.4" x2="403.8" y2="566.4" stroke="#000" stroke-width="2.4"/>
<line x1="373.5" y1="581.7" x2="403" y2="581.7" stroke="#c40000" stroke-width="2.1" stroke-dasharray="11.5 6"/>
<line x1="365" y1="597" x2="404" y2="597" stroke="#0000dc" stroke-width="2.5" stroke-dasharray="3.2 5.57"/>
<line x1="365" y1="612.3" x2="403.5" y2="612.3" stroke="#8cb400" stroke-width="2.0" stroke-dasharray="2.6 1.2"/>
<text x="408.2" y="525.3" font-size="12.95" fill="#111" stroke="#111" stroke-width="0.27">26%</text>
<text x="408.2" y="540.6" font-size="12.95" fill="#c40000" stroke="#c40000" stroke-width="0.27">41%</text>
<text x="408.2" y="555.9" font-size="12.95" fill="#0000dc" stroke="#0000dc" stroke-width="0.27">48%</text>
<text x="408.2" y="571.2" font-size="12.95" fill="#111" stroke="#111" stroke-width="0.27">26% sim</text>
<text x="408.2" y="586.5" font-size="12.95" fill="#c40000" stroke="#c40000" stroke-width="0.27">41% sim</text>
<text x="408.2" y="601.8" font-size="12.95" fill="#0000dc" stroke="#0000dc" stroke-width="0.27">48% sim</text>
<text x="408.2" y="617.1" font-size="12.95" fill="#8cb400" stroke="#8cb400" stroke-width="0.27">WA1</text>
<rect x="360.6" y="639.9" width="60" height="77" fill="#fff"/>
<text x="364.6" y="650.9" font-size="13.3" fill="#111" stroke="#111" stroke-width="0.27">symbols</text>
<line x1="364.3" y1="652.8" x2="413.2" y2="652.8" stroke="#111" stroke-width="0.8"/>
<text x="364.6" y="666.3" font-size="13.3" fill="#111" stroke="#111" stroke-width="0.27">open:</text>
<text x="364.6" y="681.7" font-size="13.3" fill="#111" stroke="#111" stroke-width="0.27">light-off</text>
<text x="364.6" y="697.1" font-size="13.3" fill="#111" stroke="#111" stroke-width="0.27">solid:</text>
<text x="364.6" y="712.5" font-size="13.3" fill="#111" stroke="#111" stroke-width="0.27">extinction</text>
<rect x="360.6" y="790.3" width="80" height="56.5" fill="#fff"/>
<text transform="translate(362.6,806.8) scale(1.022,1)" font-size="14.65" fill="#111" stroke="#111" stroke-width="0.27">Arnby et al.</text>
<text transform="translate(362.6,824.8) scale(1.022,1)" font-size="14.65" fill="#111" stroke="#111" stroke-width="0.27">2004</text>
<text transform="translate(362.6,842.8) scale(1.022,1)" font-size="14.65" fill="#111" stroke="#111" stroke-width="0.27">0.01% CO</text>
<text x="350.5" y="919.8" font-size="19.3" text-anchor="middle" fill="#111" stroke="#111" stroke-width="0.27">300</text>
<text x="406.71" y="919.8" font-size="19.3" text-anchor="middle" fill="#111" stroke="#111" stroke-width="0.27">320</text>
<text x="462.93" y="919.8" font-size="19.3" text-anchor="middle" fill="#111" stroke="#111" stroke-width="0.27">340</text>
<text x="519.14" y="919.8" font-size="19.3" text-anchor="middle" fill="#111" stroke="#111" stroke-width="0.27">360</text>
<text x="575.36" y="919.8" font-size="19.3" text-anchor="middle" fill="#111" stroke="#111" stroke-width="0.27">380</text>
<text x="631.57" y="919.8" font-size="19.3" text-anchor="middle" fill="#111" stroke="#111" stroke-width="0.27">400</text>
<text x="687.79" y="919.8" font-size="19.3" text-anchor="middle" fill="#111" stroke="#111" stroke-width="0.27">420</text>
<text x="744" y="919.8" font-size="19.3" text-anchor="middle" fill="#111" stroke="#111" stroke-width="0.27">440</text>
<text x="340.1" y="895.1" font-size="19.3" text-anchor="end" fill="#111" stroke="#111" stroke-width="0.27">0</text>
<text x="340.1" y="816.7" font-size="19.3" text-anchor="end" fill="#111" stroke="#111" stroke-width="0.27">20</text>
<text x="340.1" y="738.3" font-size="19.3" text-anchor="end" fill="#111" stroke="#111" stroke-width="0.27">40</text>
<text x="340.1" y="659.9" font-size="19.3" text-anchor="end" fill="#111" stroke="#111" stroke-width="0.27">60</text>
<text x="340.1" y="581.5" font-size="19.3" text-anchor="end" fill="#111" stroke="#111" stroke-width="0.27">80</text>
<text x="340.1" y="503.1" font-size="19.3" text-anchor="end" fill="#111" stroke="#111" stroke-width="0.27">100</text>
<text transform="translate(547.65,954) scale(1.045,1)" font-size="19.3" text-anchor="middle" fill="#111" stroke="#111" stroke-width="0.27">Temperature [K]</text>
<text transform="translate(303.2,695.6) rotate(-90)" font-size="19.7" text-anchor="middle" fill="#111" stroke="#111" stroke-width="0.27">Percentage CO Conversion [%]</text>
<text x="263.6" y="937.6" font-size="18.5" font-weight="bold" fill="#111" stroke="#111" stroke-width="0.27">(c)</text>
</g>
</svg></body></html>
